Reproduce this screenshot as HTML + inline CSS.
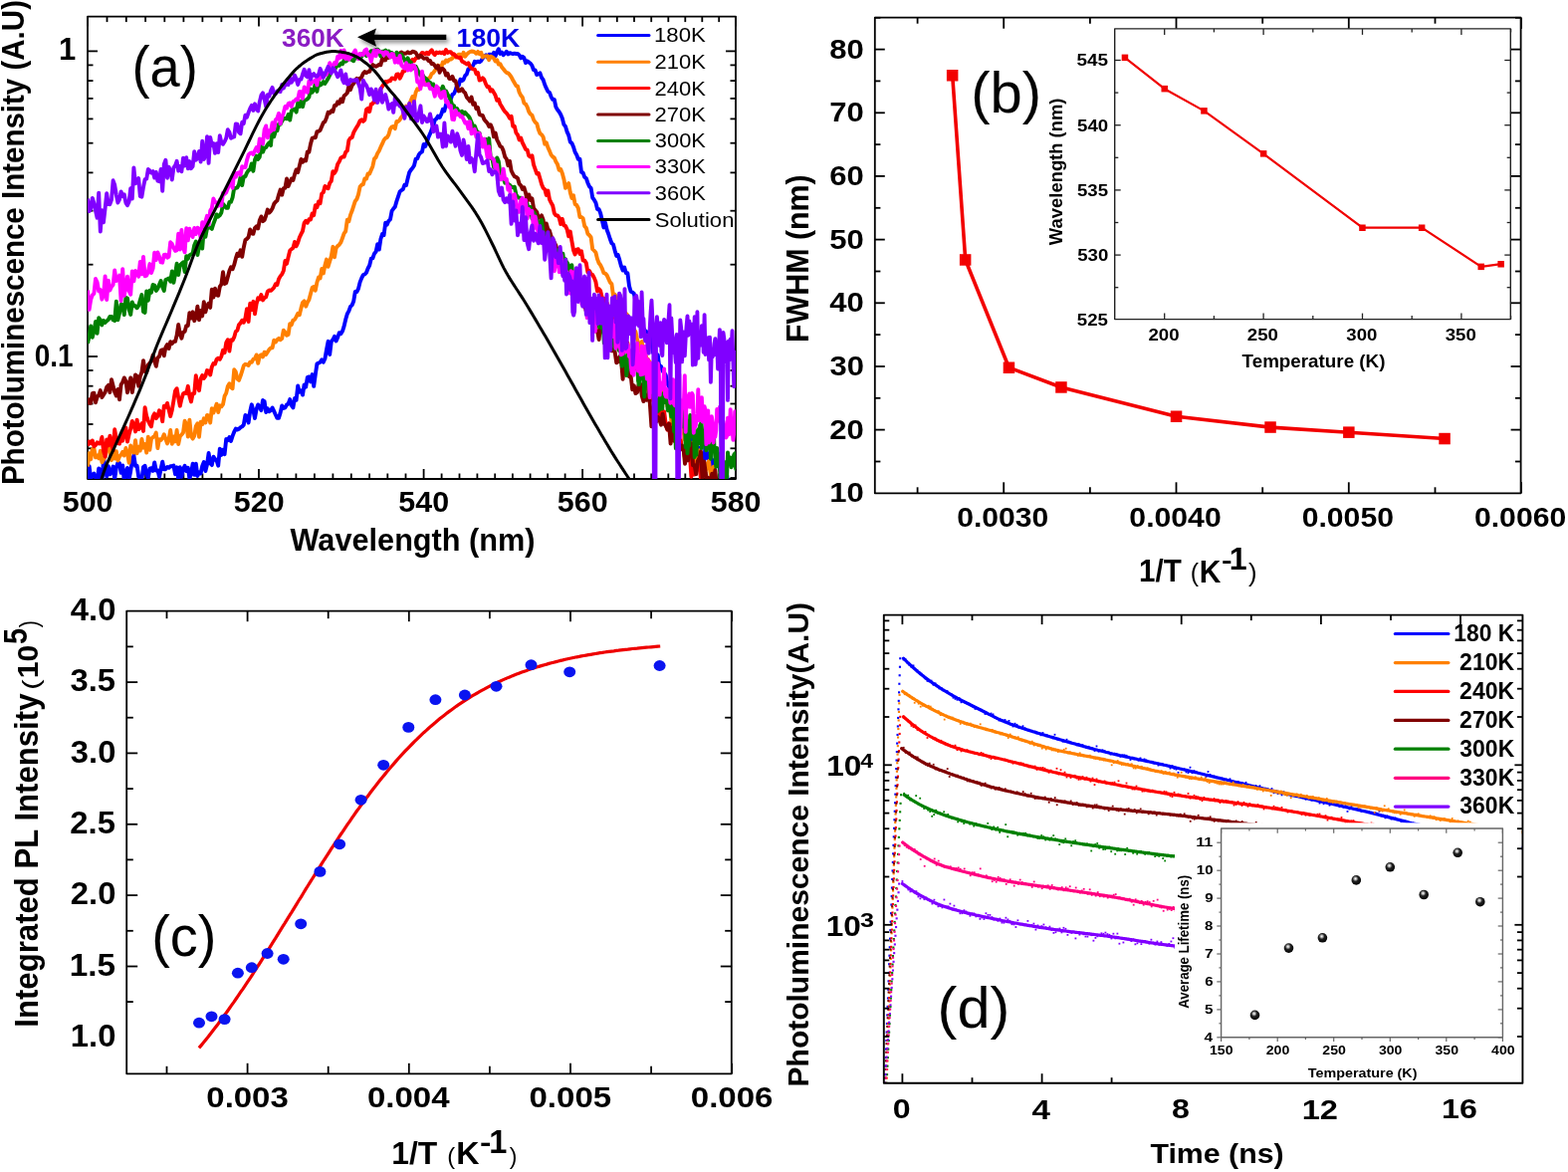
<!DOCTYPE html>
<html><head><meta charset="utf-8"><title>Figure</title>
<style>html,body{margin:0;padding:0;background:#fff;}svg{display:block;}</style></head>
<body><svg width="1575" height="1177" viewBox="0 0 1575 1177" font-family='Liberation Sans, Arial, sans-serif'>
<rect width="1575" height="1177" fill="#fff"/>
<defs><clipPath id="ca"><rect x="88" y="16.6" width="651" height="464.4"/></clipPath>
<filter id="sh" x="-20%" y="-50%" width="140%" height="250%"><feGaussianBlur in="SourceAlpha" stdDeviation="2"/><feOffset dx="2" dy="3" result="b"/><feComponentTransfer><feFuncA type="linear" slope="0.45"/></feComponentTransfer><feMerge><feMergeNode/><feMergeNode in="SourceGraphic"/></feMerge></filter>
<radialGradient id="ball" cx="0.42" cy="0.35" r="0.65"><stop offset="0" stop-color="#fff"/><stop offset="0.18" stop-color="#bbb"/><stop offset="0.45" stop-color="#222"/><stop offset="1" stop-color="#000"/></radialGradient>
</defs>
<rect x="88" y="16.6" width="651" height="464.4" fill="none" stroke="#000" stroke-width="1.8" stroke-linejoin="round" />
<line x1="88" y1="481" x2="88" y2="471" stroke="#000" stroke-width="1.8" />
<line x1="88" y1="16.6" x2="88" y2="26.6" stroke="#000" stroke-width="1.8" />
<line x1="107.5" y1="481" x2="107.5" y2="475.5" stroke="#000" stroke-width="1.8" />
<line x1="107.5" y1="16.6" x2="107.5" y2="22.1" stroke="#000" stroke-width="1.8" />
<line x1="126.8" y1="481" x2="126.8" y2="475.5" stroke="#000" stroke-width="1.8" />
<line x1="126.8" y1="16.6" x2="126.8" y2="22.1" stroke="#000" stroke-width="1.8" />
<line x1="146.1" y1="481" x2="146.1" y2="475.5" stroke="#000" stroke-width="1.8" />
<line x1="146.1" y1="16.6" x2="146.1" y2="22.1" stroke="#000" stroke-width="1.8" />
<line x1="165.3" y1="481" x2="165.3" y2="475.5" stroke="#000" stroke-width="1.8" />
<line x1="165.3" y1="16.6" x2="165.3" y2="22.1" stroke="#000" stroke-width="1.8" />
<line x1="184.4" y1="481" x2="184.4" y2="475.5" stroke="#000" stroke-width="1.8" />
<line x1="184.4" y1="16.6" x2="184.4" y2="22.1" stroke="#000" stroke-width="1.8" />
<line x1="203.4" y1="481" x2="203.4" y2="475.5" stroke="#000" stroke-width="1.8" />
<line x1="203.4" y1="16.6" x2="203.4" y2="22.1" stroke="#000" stroke-width="1.8" />
<line x1="222.4" y1="481" x2="222.4" y2="475.5" stroke="#000" stroke-width="1.8" />
<line x1="222.4" y1="16.6" x2="222.4" y2="22.1" stroke="#000" stroke-width="1.8" />
<line x1="241.2" y1="481" x2="241.2" y2="475.5" stroke="#000" stroke-width="1.8" />
<line x1="241.2" y1="16.6" x2="241.2" y2="22.1" stroke="#000" stroke-width="1.8" />
<line x1="260" y1="481" x2="260" y2="471" stroke="#000" stroke-width="1.8" />
<line x1="260" y1="16.6" x2="260" y2="26.6" stroke="#000" stroke-width="1.8" />
<line x1="278.7" y1="481" x2="278.7" y2="475.5" stroke="#000" stroke-width="1.8" />
<line x1="278.7" y1="16.6" x2="278.7" y2="22.1" stroke="#000" stroke-width="1.8" />
<line x1="297.4" y1="481" x2="297.4" y2="475.5" stroke="#000" stroke-width="1.8" />
<line x1="297.4" y1="16.6" x2="297.4" y2="22.1" stroke="#000" stroke-width="1.8" />
<line x1="315.9" y1="481" x2="315.9" y2="475.5" stroke="#000" stroke-width="1.8" />
<line x1="315.9" y1="16.6" x2="315.9" y2="22.1" stroke="#000" stroke-width="1.8" />
<line x1="334.4" y1="481" x2="334.4" y2="475.5" stroke="#000" stroke-width="1.8" />
<line x1="334.4" y1="16.6" x2="334.4" y2="22.1" stroke="#000" stroke-width="1.8" />
<line x1="352.8" y1="481" x2="352.8" y2="475.5" stroke="#000" stroke-width="1.8" />
<line x1="352.8" y1="16.6" x2="352.8" y2="22.1" stroke="#000" stroke-width="1.8" />
<line x1="371.1" y1="481" x2="371.1" y2="475.5" stroke="#000" stroke-width="1.8" />
<line x1="371.1" y1="16.6" x2="371.1" y2="22.1" stroke="#000" stroke-width="1.8" />
<line x1="389.3" y1="481" x2="389.3" y2="475.5" stroke="#000" stroke-width="1.8" />
<line x1="389.3" y1="16.6" x2="389.3" y2="22.1" stroke="#000" stroke-width="1.8" />
<line x1="407.5" y1="481" x2="407.5" y2="475.5" stroke="#000" stroke-width="1.8" />
<line x1="407.5" y1="16.6" x2="407.5" y2="22.1" stroke="#000" stroke-width="1.8" />
<line x1="425.6" y1="481" x2="425.6" y2="471" stroke="#000" stroke-width="1.8" />
<line x1="425.6" y1="16.6" x2="425.6" y2="26.6" stroke="#000" stroke-width="1.8" />
<line x1="443.6" y1="481" x2="443.6" y2="475.5" stroke="#000" stroke-width="1.8" />
<line x1="443.6" y1="16.6" x2="443.6" y2="22.1" stroke="#000" stroke-width="1.8" />
<line x1="461.5" y1="481" x2="461.5" y2="475.5" stroke="#000" stroke-width="1.8" />
<line x1="461.5" y1="16.6" x2="461.5" y2="22.1" stroke="#000" stroke-width="1.8" />
<line x1="479.4" y1="481" x2="479.4" y2="475.5" stroke="#000" stroke-width="1.8" />
<line x1="479.4" y1="16.6" x2="479.4" y2="22.1" stroke="#000" stroke-width="1.8" />
<line x1="497.2" y1="481" x2="497.2" y2="475.5" stroke="#000" stroke-width="1.8" />
<line x1="497.2" y1="16.6" x2="497.2" y2="22.1" stroke="#000" stroke-width="1.8" />
<line x1="514.9" y1="481" x2="514.9" y2="475.5" stroke="#000" stroke-width="1.8" />
<line x1="514.9" y1="16.6" x2="514.9" y2="22.1" stroke="#000" stroke-width="1.8" />
<line x1="532.6" y1="481" x2="532.6" y2="475.5" stroke="#000" stroke-width="1.8" />
<line x1="532.6" y1="16.6" x2="532.6" y2="22.1" stroke="#000" stroke-width="1.8" />
<line x1="550.1" y1="481" x2="550.1" y2="475.5" stroke="#000" stroke-width="1.8" />
<line x1="550.1" y1="16.6" x2="550.1" y2="22.1" stroke="#000" stroke-width="1.8" />
<line x1="567.6" y1="481" x2="567.6" y2="475.5" stroke="#000" stroke-width="1.8" />
<line x1="567.6" y1="16.6" x2="567.6" y2="22.1" stroke="#000" stroke-width="1.8" />
<line x1="585.1" y1="481" x2="585.1" y2="471" stroke="#000" stroke-width="1.8" />
<line x1="585.1" y1="16.6" x2="585.1" y2="26.6" stroke="#000" stroke-width="1.8" />
<line x1="602.5" y1="481" x2="602.5" y2="475.5" stroke="#000" stroke-width="1.8" />
<line x1="602.5" y1="16.6" x2="602.5" y2="22.1" stroke="#000" stroke-width="1.8" />
<line x1="619.8" y1="481" x2="619.8" y2="475.5" stroke="#000" stroke-width="1.8" />
<line x1="619.8" y1="16.6" x2="619.8" y2="22.1" stroke="#000" stroke-width="1.8" />
<line x1="637" y1="481" x2="637" y2="475.5" stroke="#000" stroke-width="1.8" />
<line x1="637" y1="16.6" x2="637" y2="22.1" stroke="#000" stroke-width="1.8" />
<line x1="654.2" y1="481" x2="654.2" y2="475.5" stroke="#000" stroke-width="1.8" />
<line x1="654.2" y1="16.6" x2="654.2" y2="22.1" stroke="#000" stroke-width="1.8" />
<line x1="671.3" y1="481" x2="671.3" y2="475.5" stroke="#000" stroke-width="1.8" />
<line x1="671.3" y1="16.6" x2="671.3" y2="22.1" stroke="#000" stroke-width="1.8" />
<line x1="688.3" y1="481" x2="688.3" y2="475.5" stroke="#000" stroke-width="1.8" />
<line x1="688.3" y1="16.6" x2="688.3" y2="22.1" stroke="#000" stroke-width="1.8" />
<line x1="705.3" y1="481" x2="705.3" y2="475.5" stroke="#000" stroke-width="1.8" />
<line x1="705.3" y1="16.6" x2="705.3" y2="22.1" stroke="#000" stroke-width="1.8" />
<line x1="722.2" y1="481" x2="722.2" y2="475.5" stroke="#000" stroke-width="1.8" />
<line x1="722.2" y1="16.6" x2="722.2" y2="22.1" stroke="#000" stroke-width="1.8" />
<line x1="739" y1="481" x2="739" y2="471" stroke="#000" stroke-width="1.8" />
<line x1="739" y1="16.6" x2="739" y2="26.6" stroke="#000" stroke-width="1.8" />
<line x1="88" y1="51.4" x2="98" y2="51.4" stroke="#000" stroke-width="1.8" />
<line x1="739" y1="51.4" x2="729" y2="51.4" stroke="#000" stroke-width="1.8" />
<line x1="88" y1="358" x2="98" y2="358" stroke="#000" stroke-width="1.8" />
<line x1="739" y1="358" x2="729" y2="358" stroke="#000" stroke-width="1.8" />
<line x1="88" y1="265.7" x2="93.5" y2="265.7" stroke="#000" stroke-width="1.8" />
<line x1="739" y1="265.7" x2="733.5" y2="265.7" stroke="#000" stroke-width="1.8" />
<line x1="88" y1="211.7" x2="93.5" y2="211.7" stroke="#000" stroke-width="1.8" />
<line x1="739" y1="211.7" x2="733.5" y2="211.7" stroke="#000" stroke-width="1.8" />
<line x1="88" y1="173.4" x2="93.5" y2="173.4" stroke="#000" stroke-width="1.8" />
<line x1="739" y1="173.4" x2="733.5" y2="173.4" stroke="#000" stroke-width="1.8" />
<line x1="88" y1="143.7" x2="93.5" y2="143.7" stroke="#000" stroke-width="1.8" />
<line x1="739" y1="143.7" x2="733.5" y2="143.7" stroke="#000" stroke-width="1.8" />
<line x1="88" y1="119.4" x2="93.5" y2="119.4" stroke="#000" stroke-width="1.8" />
<line x1="739" y1="119.4" x2="733.5" y2="119.4" stroke="#000" stroke-width="1.8" />
<line x1="88" y1="98.9" x2="93.5" y2="98.9" stroke="#000" stroke-width="1.8" />
<line x1="739" y1="98.9" x2="733.5" y2="98.9" stroke="#000" stroke-width="1.8" />
<line x1="88" y1="81.1" x2="93.5" y2="81.1" stroke="#000" stroke-width="1.8" />
<line x1="739" y1="81.1" x2="733.5" y2="81.1" stroke="#000" stroke-width="1.8" />
<line x1="88" y1="65.4" x2="93.5" y2="65.4" stroke="#000" stroke-width="1.8" />
<line x1="739" y1="65.4" x2="733.5" y2="65.4" stroke="#000" stroke-width="1.8" />
<line x1="88" y1="480" x2="93.5" y2="480" stroke="#000" stroke-width="1.8" />
<line x1="739" y1="480" x2="733.5" y2="480" stroke="#000" stroke-width="1.8" />
<line x1="88" y1="450.3" x2="93.5" y2="450.3" stroke="#000" stroke-width="1.8" />
<line x1="739" y1="450.3" x2="733.5" y2="450.3" stroke="#000" stroke-width="1.8" />
<line x1="88" y1="426" x2="93.5" y2="426" stroke="#000" stroke-width="1.8" />
<line x1="739" y1="426" x2="733.5" y2="426" stroke="#000" stroke-width="1.8" />
<line x1="88" y1="405.5" x2="93.5" y2="405.5" stroke="#000" stroke-width="1.8" />
<line x1="739" y1="405.5" x2="733.5" y2="405.5" stroke="#000" stroke-width="1.8" />
<line x1="88" y1="387.7" x2="93.5" y2="387.7" stroke="#000" stroke-width="1.8" />
<line x1="739" y1="387.7" x2="733.5" y2="387.7" stroke="#000" stroke-width="1.8" />
<line x1="88" y1="372" x2="93.5" y2="372" stroke="#000" stroke-width="1.8" />
<line x1="739" y1="372" x2="733.5" y2="372" stroke="#000" stroke-width="1.8" />
<g clip-path="url(#ca)" fill="none" stroke-linejoin="round" stroke-width="3.9">
<path d="M88 485.2 L89.6 468.1 L91.2 481.1 L92.8 476.9 L94.4 475.6 L96 479.6 L97.6 483.5 L99.2 470.5 L100.8 472.1 L102.4 486.8 L104 460.1 L105.6 467.9 L107.2 478.5 L108.8 468.1 L110.4 476.4 L112 473.8 L113.6 468.5 L115.2 481.3 L116.8 469.7 L118.4 464.7 L120 465.1 L121.6 474.9 L123.2 467.5 L124.8 483.4 L126.4 473.9 L128 470.1 L129.6 481.4 L131.2 473.3 L132.8 462.5 L134.4 457.4 L136 467.9 L137.6 467.6 L139.2 478.6 L140.8 480.2 L142.4 481.4 L144 469.1 L145.6 467.8 L147.2 476.4 L148.8 480 L150.4 470.6 L152 470.2 L153.6 472.9 L155.2 464.4 L156.8 472.6 L158.4 472.4 L160 478.9 L161.6 471 L163.2 463.7 L164.8 471.3 L166.4 471.2 L168 469 L169.6 469.8 L171.2 468.2 L172.8 468.1 L174.4 467.5 L176 476.2 L177.6 469.3 L179.2 481.3 L180.8 469.3 L182.4 478.8 L184 471.2 L185.6 467.8 L187.2 473.1 L188.8 469.8 L190.4 480.7 L192 475.4 L193.6 465.7 L195.2 476.9 L196.8 465.6 L198.4 478 L200 474.6 L201.6 475.5 L203.2 468 L204.8 464.1 L206.4 473 L208 466.5 L209.6 455 L211.2 465.2 L212.8 467.1 L214.4 458.7 L216 461 L217.6 462.5 L219.2 467.7 L220.8 450.6 L222.4 456.9 L224 451.8 L225.6 456.2 L227.2 441 L228.8 442.2 L230.4 439 L232 443 L233.6 437.9 L235.2 433.7 L236.8 430.6 L238.4 431.6 L240 430.7 L241.6 429.3 L243.2 428.4 L244.8 426.6 L246.4 417 L248 417.6 L249.6 424.5 L251.2 413.3 L252.8 406.3 L254.4 412.3 L256 420 L257.6 411 L259.2 406.4 L260.8 409 L262.4 412.1 L264 402 L265.6 403.1 L267.2 414 L268.8 410.4 L270.4 413.3 L272 412.1 L273.6 409.5 L275.2 412.9 L276.8 416.5 L278.4 419.8 L280 419.8 L281.6 414.7 L283.2 407.5 L284.8 410 L286.4 409.4 L288 406.5 L289.6 405.5 L291.2 401.1 L292.8 407.1 L294.4 409.4 L296 400 L297.6 401.8 L299.2 387.4 L300.8 393.7 L302.4 392.4 L304 396.6 L305.6 386.4 L307.2 388.7 L308.8 379.1 L310.4 378.4 L312 383.4 L313.6 376.1 L315.2 387.9 L316.8 376.2 L318.4 365.5 L320 364.5 L321.6 363.8 L323.2 361.3 L324.8 363.8 L326.4 360.3 L328 351.1 L329.6 342.8 L331.2 356.1 L332.8 342.9 L334.4 341 L336 337.8 L337.6 342.5 L339.2 338.9 L340.8 334.2 L342.4 335.2 L344 332.6 L345.6 327.6 L347.2 320.8 L348.8 315.2 L350.4 312.4 L352 307.9 L353.6 306.4 L355.2 302.5 L356.8 292.9 L358.4 293.1 L360 289.9 L361.6 283.4 L363.2 279.4 L364.8 276.1 L366.4 275.5 L368 273.7 L369.6 269.5 L371.2 266.5 L372.8 259.7 L374.4 259.3 L376 254.7 L377.6 252.8 L379.2 245.2 L380.8 250.6 L382.4 240 L384 235.1 L385.6 236.1 L387.2 223.8 L388.8 225.6 L390.4 221.8 L392 220.3 L393.6 211.8 L395.2 209.6 L396.8 207.7 L398.4 202.1 L400 197.3 L401.6 192.5 L403.2 191.1 L404.8 190.1 L406.4 185.7 L408 186.1 L409.6 179.3 L411.2 173.1 L412.8 170.6 L414.4 168.8 L416 166.3 L417.6 159.6 L419.2 159.3 L420.8 155.2 L422.4 153.3 L424 152.3 L425.6 144.9 L427.2 146.9 L428.8 143.2 L430.4 137.9 L432 134.4 L433.6 130.1 L435.2 126.5 L436.8 120.4 L438.4 119.3 L440 116.6 L441.6 118 L443.2 114.9 L444.8 109.8 L446.4 111.4 L448 104.9 L449.6 105.8 L451.2 100.7 L452.8 99.6 L454.4 95 L456 94 L457.6 90.5 L459.2 85.1 L460.8 85.8 L462.4 79.7 L464 81.1 L465.6 79.9 L467.2 75.9 L468.8 74.5 L470.4 69.4 L472 68.8 L473.6 66.7 L475.2 65.9 L476.8 61.8 L478.4 62.7 L480 61.7 L481.6 62.3 L483.2 61.2 L484.8 58.6 L486.4 56.4 L488 55.4 L489.6 57.6 L491.2 54.8 L492.8 54.6 L494.4 55.8 L496 52.9 L497.6 56.3 L499.2 52.4 L500.8 49.2 L502.4 53.9 L504 52.5 L505.6 55.2 L507.2 53.7 L508.8 51.7 L510.4 54.4 L512 53.1 L513.6 53.7 L515.2 54 L516.8 53.7 L518.4 54 L520 53.9 L521.6 55.4 L523.2 58.4 L524.8 56.8 L526.4 58.1 L528 63.2 L529.6 61.3 L531.2 62.4 L532.8 63.7 L534.4 65.9 L536 70.2 L537.6 70.5 L539.2 75.1 L540.8 74.3 L542.4 73.3 L544 77.8 L545.6 80.2 L547.2 85 L548.8 88.7 L550.4 91.8 L552 92.8 L553.6 97.2 L555.2 99.9 L556.8 100 L558.4 107.6 L560 110.2 L561.6 112.2 L563.2 115 L564.8 118.7 L566.4 125.1 L568 127 L569.6 132.4 L571.2 135.9 L572.8 142.6 L574.4 143.8 L576 147.5 L577.6 152.8 L579.2 155.5 L580.8 159.8 L582.4 159.6 L584 172.9 L585.6 173.3 L587.2 177.9 L588.8 179 L590.4 183.7 L592 187.3 L593.6 188.8 L595.2 198.5 L596.8 200.7 L598.4 203.4 L600 210 L601.6 210.1 L603.2 214.3 L604.8 221.3 L606.4 228.4 L608 223.6 L609.6 230.7 L611.2 235 L612.8 240 L614.4 244.2 L616 245.5 L617.6 251.6 L619.2 256.9 L620.8 256.1 L622.4 261.4 L624 267.4 L625.6 271.5 L627.2 268.5 L628.8 274.2 L630.4 274.2 L632 287.1 L633.6 292.7 L635.2 293.5 L636.8 294.8 L638.4 302.4 L640 307.8 L641.6 306.8 L643.2 321.3 L644.8 327.7 L646.4 329.8 L648 332.1 L649.6 333.3 L651.2 334.5 L652.8 341 L654.4 340 L656 354.3 L657.6 345.8 L659.2 362 L660.8 356.4 L662.4 370.3 L664 367.8 L665.6 372.9 L667.2 374.3 L668.8 376.8 L670.4 385.4 L672 388.2 L673.6 390.1 L675.2 402.3 L676.8 402.5 L678.4 411.3 L680 405 L681.6 395.8 L683.2 407.1 L684.8 419.9 L686.4 422.1 L688 414.9 L689.6 426.8 L691.2 437.4 L692.8 436.5 L694.4 439.7 L696 442.4 L697.6 433.8 L699.2 440.4 L700.8 454.1 L702.4 449.9 L704 456.7 L705.6 459.8 L707.2 464.5 L708.8 443.5 L710.4 460.1 L712 455.8 L713.6 455.8 L715.2 467.1 L716.8 462.2 L718.4 464 L720 468.3 L721.6 455.9 L723.2 471.4 L724.8 477.2 L726.4 472 L728 465.2 L729.6 472.6 L731.2 486.1 L732.8 490.9 L734.4 493.1 L736 492.3 L737.6 484.8 L739.2 482.3" stroke="#0000FF"/>
<path d="M88 468.4 L89.6 455.1 L91.2 461.3 L92.8 451.2 L94.4 450 L96 459.4 L97.6 457.5 L99.2 460.4 L100.8 452.8 L102.4 464.3 L104 461.5 L105.6 458.9 L107.2 448.3 L108.8 442.2 L110.4 454.9 L112 462.2 L113.6 454.8 L115.2 460.5 L116.8 453.2 L118.4 462.5 L120 458.5 L121.6 456.7 L123.2 453.9 L124.8 457.4 L126.4 450 L128 455.2 L129.6 464.7 L131.2 447.5 L132.8 453.2 L134.4 454.6 L136 442.2 L137.6 455.2 L139.2 448.7 L140.8 452.6 L142.4 440.9 L144 449.7 L145.6 446 L147.2 454.6 L148.8 438.8 L150.4 451.8 L152 440.6 L153.6 439.1 L155.2 438 L156.8 434.6 L158.4 450.1 L160 441.1 L161.6 442 L163.2 440.1 L164.8 436.2 L166.4 440.9 L168 445.4 L169.6 441 L171.2 432 L172.8 445.8 L174.4 438.4 L176 443.5 L177.6 432 L179.2 446 L180.8 438.3 L182.4 436.5 L184 434.6 L185.6 422.8 L187.2 426 L188.8 438.5 L190.4 421.6 L192 437.8 L193.6 440.6 L195.2 437.7 L196.8 427.9 L198.4 425.3 L200 438.7 L201.6 423.8 L203.2 426.2 L204.8 420.3 L206.4 424.5 L208 417 L209.6 417.3 L211.2 424.5 L212.8 410.3 L214.4 414.6 L216 410.2 L217.6 405.7 L219.2 414 L220.8 407.3 L222.4 408.2 L224 406.1 L225.6 397.8 L227.2 394.9 L228.8 388 L230.4 385.3 L232 388.9 L233.6 390.2 L235.2 371.3 L236.8 373.4 L238.4 380.5 L240 381.9 L241.6 377.6 L243.2 372.6 L244.8 367.2 L246.4 365.8 L248 366.1 L249.6 367 L251.2 363.6 L252.8 363.9 L254.4 360.8 L256 360.1 L257.6 356.4 L259.2 364.8 L260.8 357.5 L262.4 356.2 L264 358.5 L265.6 353.7 L267.2 356.1 L268.8 353.5 L270.4 350.9 L272 349.5 L273.6 349.4 L275.2 341.7 L276.8 343.5 L278.4 341.3 L280 339.9 L281.6 341.3 L283.2 340 L284.8 331.7 L286.4 333.8 L288 336.8 L289.6 336 L291.2 325.1 L292.8 326.1 L294.4 321.5 L296 320.9 L297.6 318.1 L299.2 314.9 L300.8 316.2 L302.4 309.6 L304 303.9 L305.6 302.3 L307.2 307.7 L308.8 303.7 L310.4 301.1 L312 295 L313.6 289 L315.2 288 L316.8 291.7 L318.4 283.5 L320 278.6 L321.6 279.5 L323.2 270 L324.8 274.5 L326.4 266.5 L328 260.6 L329.6 267.8 L331.2 262.4 L332.8 257.3 L334.4 247.8 L336 258.3 L337.6 249.1 L339.2 247 L340.8 245.7 L342.4 243.4 L344 239 L345.6 234.4 L347.2 232.3 L348.8 220.7 L350.4 222.3 L352 215.9 L353.6 211.8 L355.2 206.9 L356.8 201.9 L358.4 200 L360 195.3 L361.6 187.6 L363.2 185.7 L364.8 185.1 L366.4 179.4 L368 179.6 L369.6 174.4 L371.2 174.5 L372.8 170.7 L374.4 166.9 L376 159.5 L377.6 158 L379.2 154 L380.8 151.4 L382.4 147.7 L384 144.4 L385.6 140.7 L387.2 138.8 L388.8 138 L390.4 135.3 L392 129.6 L393.6 127.3 L395.2 127 L396.8 129.1 L398.4 121.9 L400 122 L401.6 120.3 L403.2 117.6 L404.8 115.6 L406.4 109.3 L408 106.6 L409.6 108.2 L411.2 104.1 L412.8 100.8 L414.4 96.9 L416 100.3 L417.6 92.8 L419.2 89.3 L420.8 90 L422.4 87.4 L424 83.3 L425.6 82.5 L427.2 83 L428.8 80.8 L430.4 78.8 L432 77.7 L433.6 74 L435.2 73.2 L436.8 70.9 L438.4 68.5 L440 65.6 L441.6 66.5 L443.2 68.1 L444.8 62.4 L446.4 63.3 L448 60.5 L449.6 61.7 L451.2 59.8 L452.8 59.5 L454.4 58.5 L456 55.8 L457.6 57.5 L459.2 55.6 L460.8 54.7 L462.4 54.8 L464 56.7 L465.6 52.7 L467.2 56.7 L468.8 54.6 L470.4 53.1 L472 52 L473.6 51.5 L475.2 51.7 L476.8 52.3 L478.4 53.8 L480 51.9 L481.6 54.2 L483.2 52.7 L484.8 57.6 L486.4 56.3 L488 56.4 L489.6 56.3 L491.2 60.3 L492.8 56.7 L494.4 57.3 L496 58.6 L497.6 61.5 L499.2 60.2 L500.8 64.6 L502.4 64.2 L504 67.4 L505.6 69.2 L507.2 71.3 L508.8 73 L510.4 73.4 L512 75.1 L513.6 77.4 L515.2 80.5 L516.8 83.3 L518.4 86.1 L520 86.7 L521.6 92.7 L523.2 95.8 L524.8 97.8 L526.4 103.6 L528 104.5 L529.6 107.4 L531.2 112.2 L532.8 114.6 L534.4 115.6 L536 120.2 L537.6 122.7 L539.2 124.1 L540.8 130 L542.4 134 L544 135.2 L545.6 137.5 L547.2 144.7 L548.8 143.3 L550.4 148.2 L552 151.6 L553.6 155.6 L555.2 157.5 L556.8 158.5 L558.4 162.5 L560 165.1 L561.6 170.7 L563.2 170.1 L564.8 173.9 L566.4 179.9 L568 188.8 L569.6 186.4 L571.2 184 L572.8 193.4 L574.4 199 L576 196.3 L577.6 205 L579.2 206 L580.8 209 L582.4 218 L584 217.9 L585.6 219.2 L587.2 227.1 L588.8 228.8 L590.4 234.8 L592 236.2 L593.6 238.2 L595.2 250.2 L596.8 251.7 L598.4 253.5 L600 260.1 L601.6 264.3 L603.2 266.3 L604.8 269.6 L606.4 274.2 L608 274.6 L609.6 276.4 L611.2 279.9 L612.8 283.5 L614.4 285.1 L616 296.9 L617.6 295.9 L619.2 298 L620.8 300 L622.4 310.9 L624 301.5 L625.6 314.5 L627.2 313.4 L628.8 314.8 L630.4 316.6 L632 326.5 L633.6 329.1 L635.2 328.7 L636.8 331.1 L638.4 333 L640 340.2 L641.6 346.3 L643.2 352.6 L644.8 342.9 L646.4 360 L648 354.3 L649.6 359.8 L651.2 361.2 L652.8 363.9 L654.4 365.7 L656 375.9 L657.6 377.3 L659.2 392.9 L660.8 386.2 L662.4 394.7 L664 394.2 L665.6 390.4 L667.2 399.7 L668.8 397.7 L670.4 407.9 L672 407.7 L673.6 415.4 L675.2 431.7 L676.8 423.4 L678.4 423.7 L680 424.1 L681.6 427.9 L683.2 431.6 L684.8 427.9 L686.4 432.6 L688 441.8 L689.6 436.5 L691.2 458.5 L692.8 449.4 L694.4 451.2 L696 444.4 L697.6 459.5 L699.2 469.2 L700.8 460 L702.4 452.3 L704 468 L705.6 469.6 L707.2 472.8 L708.8 473 L710.4 465.9 L712 463.1 L713.6 475.6 L715.2 481.7 L716.8 468.8 L718.4 483.5 L720 485.2 L721.6 490.1 L723.2 491.1 L724.8 487.8" stroke="#FF8000"/>
<path d="M88 447.7 L89.6 443.4 L91.2 445.3 L92.8 442.5 L94.4 448.3 L96 447.1 L97.6 444.4 L99.2 445.5 L100.8 445.3 L102.4 438.9 L104 452.7 L105.6 458.5 L107.2 441.5 L108.8 447.4 L110.4 437.7 L112 446 L113.6 452.3 L115.2 431.3 L116.8 440.8 L118.4 444.9 L120 445.6 L121.6 436.5 L123.2 442.7 L124.8 435.1 L126.4 429.5 L128 443.6 L129.6 436.3 L131.2 430.5 L132.8 423 L134.4 426.2 L136 433.4 L137.6 421.6 L139.2 431.2 L140.8 429.2 L142.4 425.2 L144 432.9 L145.6 409.1 L147.2 418 L148.8 422.5 L150.4 425.9 L152 428.3 L153.6 418.4 L155.2 415.4 L156.8 420.2 L158.4 417.8 L160 412.3 L161.6 414.3 L163.2 423.2 L164.8 407.8 L166.4 408.7 L168 404.9 L169.6 411.6 L171.2 418.1 L172.8 412 L174.4 402.5 L176 392.5 L177.6 390.2 L179.2 399.3 L180.8 407.7 L182.4 400.6 L184 395.5 L185.6 394.5 L187.2 395.1 L188.8 387.8 L190.4 397.9 L192 403.4 L193.6 395.1 L195.2 395.2 L196.8 377.2 L198.4 387.4 L200 392.2 L201.6 380.4 L203.2 377 L204.8 380 L206.4 377.6 L208 372 L209.6 372.6 L211.2 376.5 L212.8 368.5 L214.4 365 L216 365.5 L217.6 360.8 L219.2 359.7 L220.8 360.8 L222.4 357.8 L224 351.8 L225.6 354.2 L227.2 344.2 L228.8 341.3 L230.4 352.6 L232 341.4 L233.6 341.8 L235.2 338.7 L236.8 333 L238.4 331.7 L240 326.1 L241.6 324.5 L243.2 321.7 L244.8 323.7 L246.4 319.5 L248 310.2 L249.6 323.1 L251.2 304.8 L252.8 311.1 L254.4 302.8 L256 315.2 L257.6 305.3 L259.2 299.3 L260.8 300.4 L262.4 296 L264 301.5 L265.6 299.1 L267.2 298.2 L268.8 292.7 L270.4 291.4 L272 291.9 L273.6 290.6 L275.2 288.7 L276.8 285.2 L278.4 286.1 L280 280.2 L281.6 277.4 L283.2 275.4 L284.8 272 L286.4 262 L288 264.9 L289.6 258.1 L291.2 251.7 L292.8 250.2 L294.4 249 L296 243 L297.6 247.3 L299.2 243.8 L300.8 238.5 L302.4 235.1 L304 232 L305.6 223.9 L307.2 221.8 L308.8 223.7 L310.4 220.2 L312 220.6 L313.6 214.6 L315.2 216.2 L316.8 206.2 L318.4 208.3 L320 202.6 L321.6 204.3 L323.2 194.5 L324.8 193.3 L326.4 187 L328 188.3 L329.6 189.2 L331.2 183.9 L332.8 181.8 L334.4 172.1 L336 173.9 L337.6 171 L339.2 164.8 L340.8 162.3 L342.4 158.6 L344 157.5 L345.6 157.5 L347.2 152.8 L348.8 151.4 L350.4 141 L352 138.6 L353.6 138.2 L355.2 133.2 L356.8 130.2 L358.4 127.5 L360 124.9 L361.6 121.4 L363.2 120.2 L364.8 121.9 L366.4 120.3 L368 110.1 L369.6 108.8 L371.2 112.1 L372.8 104.7 L374.4 104.2 L376 101.2 L377.6 102.5 L379.2 94.1 L380.8 93.2 L382.4 89.4 L384 86.8 L385.6 84.4 L387.2 81.9 L388.8 82.5 L390.4 81.1 L392 81.3 L393.6 78.4 L395.2 78.8 L396.8 79.5 L398.4 74.7 L400 74.4 L401.6 78.7 L403.2 75.8 L404.8 71.5 L406.4 71.5 L408 65.7 L409.6 65.7 L411.2 63.6 L412.8 61.7 L414.4 59.9 L416 61.2 L417.6 58.6 L419.2 57.9 L420.8 56 L422.4 55.2 L424 52.9 L425.6 53.4 L427.2 54.2 L428.8 52.8 L430.4 54.3 L432 52 L433.6 50.2 L435.2 53.4 L436.8 55 L438.4 52.6 L440 53.2 L441.6 52.5 L443.2 53.4 L444.8 52.4 L446.4 54 L448 50.1 L449.6 52.9 L451.2 52.2 L452.8 52.3 L454.4 54.4 L456 54.3 L457.6 56.2 L459.2 57.5 L460.8 58 L462.4 57.8 L464 61.6 L465.6 62.3 L467.2 63.4 L468.8 64.4 L470.4 63.2 L472 66.6 L473.6 68.6 L475.2 69.4 L476.8 69.6 L478.4 74.2 L480 73.1 L481.6 80.5 L483.2 80.1 L484.8 78.2 L486.4 80.1 L488 84.4 L489.6 87.4 L491.2 87.3 L492.8 91.5 L494.4 90.2 L496 92.9 L497.6 95.8 L499.2 100.8 L500.8 99.9 L502.4 104.5 L504 107 L505.6 109.9 L507.2 112.1 L508.8 113.7 L510.4 115.9 L512 118.7 L513.6 116.8 L515.2 126.7 L516.8 126.8 L518.4 133.4 L520 135.5 L521.6 140.5 L523.2 138.6 L524.8 143.4 L526.4 146.5 L528 149.9 L529.6 150.6 L531.2 156.5 L532.8 157.6 L534.4 156.2 L536 165.3 L537.6 169.9 L539.2 174.4 L540.8 173.9 L542.4 179.3 L544 184.9 L545.6 188.7 L547.2 190.1 L548.8 195.9 L550.4 191.6 L552 200.4 L553.6 203.6 L555.2 206.5 L556.8 214.1 L558.4 216.3 L560 216.4 L561.6 218.6 L563.2 224.9 L564.8 219.9 L566.4 226.3 L568 226.9 L569.6 230.3 L571.2 237.3 L572.8 232.6 L574.4 242.2 L576 251.2 L577.6 255.5 L579.2 250.6 L580.8 250.2 L582.4 255 L584 252.3 L585.6 261.5 L587.2 261.6 L588.8 264.1 L590.4 273.3 L592 272 L593.6 275.1 L595.2 276 L596.8 278.9 L598.4 282.9 L600 292.5 L601.6 290.2 L603.2 292.1 L604.8 299.1 L606.4 299.6 L608 302.7 L609.6 304.2 L611.2 311.8 L612.8 313.3 L614.4 317.6 L616 321.4 L617.6 327.6 L619.2 329.5 L620.8 336.4 L622.4 335.4 L624 334.6 L625.6 338.2 L627.2 340.8 L628.8 348.1 L630.4 344.2 L632 356.3 L633.6 353.5 L635.2 358.3 L636.8 367.4 L638.4 370.3 L640 365.8 L641.6 372.4 L643.2 374 L644.8 362.5 L646.4 378 L648 383.3 L649.6 382.6 L651.2 392.9 L652.8 393.2 L654.4 392.3 L656 402.6 L657.6 400.6 L659.2 404.3 L660.8 405.3 L662.4 420.3 L664 400.7 L665.6 414.9 L667.2 413.6 L668.8 426.9 L670.4 431.7 L672 425.3 L673.6 430.5 L675.2 426.6 L676.8 440.5 L678.4 443.8 L680 437.1 L681.6 437.3 L683.2 438.5 L684.8 448.3 L686.4 449.1 L688 460.3 L689.6 447 L691.2 451.1 L692.8 454 L694.4 478.9 L696 460.8 L697.6 476.5 L699.2 468.6 L700.8 471.4 L702.4 467.2 L704 481.1 L705.6 484.6 L707.2 492.8 L708.8 496.6 L710.4 482.4 L712 497.9" stroke="#FF0000"/>
<path d="M88 399.8 L89.6 404.8 L91.2 404.8 L92.8 395.2 L94.4 394.7 L96 404.3 L97.6 398.6 L99.2 396.8 L100.8 392.1 L102.4 399.1 L104 396.4 L105.6 393.9 L107.2 388.8 L108.8 386.9 L110.4 394.1 L112 381.2 L113.6 387.5 L115.2 393.7 L116.8 397.5 L118.4 391 L120 401.3 L121.6 386.2 L123.2 383.7 L124.8 379.4 L126.4 382.8 L128 394.2 L129.6 385.5 L131.2 379.4 L132.8 394.1 L134.4 385.3 L136 376.4 L137.6 378 L139.2 387.7 L140.8 378 L142.4 373.8 L144 362.1 L145.6 373.1 L147.2 374 L148.8 366.6 L150.4 364.7 L152 362.2 L153.6 356.7 L155.2 362.6 L156.8 367.8 L158.4 359.3 L160 358 L161.6 352.1 L163.2 351.3 L164.8 357.3 L166.4 348.7 L168 346.1 L169.6 350.1 L171.2 343.2 L172.8 345.1 L174.4 343.2 L176 342.9 L177.6 336.7 L179.2 326 L180.8 335.4 L182.4 339.7 L184 333.5 L185.6 333 L187.2 327.1 L188.8 327.1 L190.4 314.1 L192 319.6 L193.6 313.3 L195.2 322.2 L196.8 318.4 L198.4 307.6 L200 321.4 L201.6 312 L203.2 317.4 L204.8 303.2 L206.4 313.4 L208 307 L209.6 304.7 L211.2 308.9 L212.8 290.7 L214.4 298.6 L216 289.6 L217.6 296.2 L219.2 296.8 L220.8 287.9 L222.4 285.5 L224 273.3 L225.6 285 L227.2 284.3 L228.8 278.3 L230.4 272 L232 268.3 L233.6 270.2 L235.2 265.9 L236.8 259.7 L238.4 254.7 L240 257 L241.6 251.3 L243.2 257.8 L244.8 248.5 L246.4 241.1 L248 239.9 L249.6 238.1 L251.2 230.5 L252.8 234.3 L254.4 234.8 L256 229 L257.6 227.2 L259.2 229.5 L260.8 221.2 L262.4 217.4 L264 222.2 L265.6 221 L267.2 216.5 L268.8 210.6 L270.4 213.6 L272 211.9 L273.6 209.3 L275.2 204.8 L276.8 202.7 L278.4 201.5 L280 195.5 L281.6 190.5 L283.2 195.7 L284.8 189.1 L286.4 188.8 L288 179.5 L289.6 187 L291.2 183.1 L292.8 179.5 L294.4 180.9 L296 175.2 L297.6 170.4 L299.2 173.1 L300.8 166.6 L302.4 160 L304 162.8 L305.6 160.6 L307.2 161.4 L308.8 152.4 L310.4 152.7 L312 144.5 L313.6 138.9 L315.2 138.2 L316.8 138.2 L318.4 132.2 L320 131.9 L321.6 130.8 L323.2 127 L324.8 123.2 L326.4 122.1 L328 118.1 L329.6 112.7 L331.2 113.6 L332.8 111.3 L334.4 112 L336 106 L337.6 105.8 L339.2 102.4 L340.8 103.7 L342.4 99.5 L344 102.3 L345.6 96.3 L347.2 95 L348.8 93.2 L350.4 86.1 L352 90.2 L353.6 85.8 L355.2 84 L356.8 81.2 L358.4 78.8 L360 82 L361.6 78.7 L363.2 77.6 L364.8 73.8 L366.4 72.1 L368 73.2 L369.6 72.2 L371.2 71.9 L372.8 68.3 L374.4 65 L376 66.1 L377.6 66.8 L379.2 66 L380.8 64.7 L382.4 65.3 L384 58.7 L385.6 60.5 L387.2 60.3 L388.8 55.3 L390.4 57.9 L392 55.1 L393.6 56.5 L395.2 54.6 L396.8 55.8 L398.4 56 L400 54.3 L401.6 53.4 L403.2 52.4 L404.8 53.4 L406.4 53.8 L408 53.6 L409.6 52.2 L411.2 53.4 L412.8 53 L414.4 51.7 L416 52.1 L417.6 52.9 L419.2 55.7 L420.8 57.8 L422.4 55.9 L424 57.1 L425.6 58.7 L427.2 58.6 L428.8 58.4 L430.4 61 L432 60.9 L433.6 64.2 L435.2 63.9 L436.8 66 L438.4 68.1 L440 66 L441.6 72.8 L443.2 69.1 L444.8 68.9 L446.4 70.8 L448 75.6 L449.6 73.9 L451.2 79 L452.8 79 L454.4 76.8 L456 81 L457.6 81.2 L459.2 87.5 L460.8 91.4 L462.4 91 L464 89.2 L465.6 91.8 L467.2 93.4 L468.8 97.6 L470.4 99.4 L472 101.5 L473.6 97.6 L475.2 104.8 L476.8 103.5 L478.4 109.2 L480 108.1 L481.6 114.9 L483.2 115.7 L484.8 116 L486.4 120 L488 121.9 L489.6 123.7 L491.2 127 L492.8 125.4 L494.4 129 L496 137.4 L497.6 133.5 L499.2 140.3 L500.8 143.4 L502.4 146.9 L504 147.8 L505.6 151.4 L507.2 157.6 L508.8 159.6 L510.4 166.2 L512 161.9 L513.6 171.5 L515.2 174.7 L516.8 177.2 L518.4 177.9 L520 179.1 L521.6 184.6 L523.2 186.3 L524.8 189.9 L526.4 188.2 L528 193.6 L529.6 201.4 L531.2 195.4 L532.8 201 L534.4 199.3 L536 208.9 L537.6 211.2 L539.2 212.8 L540.8 219 L542.4 218.5 L544 216.4 L545.6 220.7 L547.2 232.9 L548.8 224.5 L550.4 230.2 L552 231.7 L553.6 237.2 L555.2 239.8 L556.8 243.4 L558.4 246.6 L560 253.4 L561.6 249.7 L563.2 255.6 L564.8 258.2 L566.4 261.5 L568 266.9 L569.6 269.3 L571.2 277.3 L572.8 274.8 L574.4 278 L576 283.3 L577.6 292.5 L579.2 283.9 L580.8 293 L582.4 295.6 L584 300 L585.6 304.3 L587.2 306.5 L588.8 312.5 L590.4 313.1 L592 304.6 L593.6 310.8 L595.2 309.8 L596.8 323.8 L598.4 332.3 L600 332.2 L601.6 341 L603.2 325.4 L604.8 327.1 L606.4 334.6 L608 335.6 L609.6 338 L611.2 342.8 L612.8 341 L614.4 352.4 L616 352 L617.6 353.1 L619.2 364.3 L620.8 363.3 L622.4 358.2 L624 361.6 L625.6 380.9 L627.2 364.2 L628.8 370.1 L630.4 370.6 L632 378.2 L633.6 377.1 L635.2 391.3 L636.8 387.2 L638.4 395.1 L640 394.1 L641.6 386 L643.2 385.6 L644.8 397.7 L646.4 403.1 L648 397.4 L649.6 401.7 L651.2 394.6 L652.8 404.9 L654.4 428.4 L656 413 L657.6 417.8 L659.2 423.5 L660.8 418.8 L662.4 421.5 L664 426.7 L665.6 415.6 L667.2 425.6 L668.8 427.4 L670.4 431.3 L672 425.6 L673.6 445.6 L675.2 429.5 L676.8 442.5 L678.4 431.2 L680 433.4 L681.6 442.3 L683.2 451.8 L684.8 447.4 L686.4 448.5 L688 465.9 L689.6 457.4 L691.2 462.3 L692.8 446.5 L694.4 445.3 L696 467.4 L697.6 467.1 L699.2 476.2 L700.8 463.2 L702.4 459.9 L704 453.3 L705.6 482.6 L707.2 463.5 L708.8 474.9 L710.4 482 L712 480 L713.6 485.8 L715.2 475.6 L716.8 481.5 L718.4 472 L720 490" stroke="#800000"/>
<path d="M88 344.9 L89.6 337.5 L91.2 327.4 L92.8 338.7 L94.4 332.5 L96 323 L97.6 334.7 L99.2 319.1 L100.8 321.3 L102.4 326.4 L104 321.9 L105.6 323.9 L107.2 322.4 L108.8 321 L110.4 318 L112 317.9 L113.6 321.3 L115.2 322.1 L116.8 302.7 L118.4 321.4 L120 314.6 L121.6 305.7 L123.2 306.2 L124.8 316.1 L126.4 298.9 L128 299.5 L129.6 311 L131.2 316 L132.8 303.5 L134.4 307.4 L136 307.2 L137.6 309.3 L139.2 307 L140.8 301.4 L142.4 296 L144 313.1 L145.6 313.9 L147.2 292.4 L148.8 301.8 L150.4 291.6 L152 293.7 L153.6 286 L155.2 286.6 L156.8 292 L158.4 289.9 L160 285.7 L161.6 282 L163.2 288.2 L164.8 291.9 L166.4 281.1 L168 280.4 L169.6 279.5 L171.2 282.7 L172.8 272.5 L174.4 283.9 L176 275.5 L177.6 264.8 L179.2 276.1 L180.8 266.4 L182.4 264.8 L184 263.4 L185.6 273 L187.2 257.3 L188.8 259.9 L190.4 256.3 L192 255.3 L193.6 254.4 L195.2 246.2 L196.8 242.6 L198.4 256.1 L200 247.7 L201.6 242.1 L203.2 249.5 L204.8 229.8 L206.4 237.8 L208 229.3 L209.6 228.6 L211.2 228.4 L212.8 229.9 L214.4 224.7 L216 220.5 L217.6 215.4 L219.2 217.6 L220.8 216.3 L222.4 213.5 L224 204.8 L225.6 206.8 L227.2 208.7 L228.8 208.9 L230.4 203 L232 202.8 L233.6 198.3 L235.2 188.9 L236.8 189 L238.4 188.4 L240 185.2 L241.6 177.7 L243.2 186.1 L244.8 177.4 L246.4 177.3 L248 173.5 L249.6 171.2 L251.2 170.1 L252.8 164.4 L254.4 171.8 L256 160.4 L257.6 156.6 L259.2 159.9 L260.8 157.6 L262.4 145.5 L264 152.7 L265.6 148.7 L267.2 147.9 L268.8 145.2 L270.4 143.3 L272 146.1 L273.6 129.4 L275.2 137.3 L276.8 131.7 L278.4 131.2 L280 124.8 L281.6 124.9 L283.2 121.6 L284.8 119.6 L286.4 118.8 L288 119.3 L289.6 114.9 L291.2 120.6 L292.8 111.3 L294.4 110.1 L296 109.5 L297.6 112.6 L299.2 103.1 L300.8 107.1 L302.4 101.7 L304 107.2 L305.6 100.7 L307.2 100.5 L308.8 99.4 L310.4 97.5 L312 89.3 L313.6 92.7 L315.2 90.2 L316.8 83.9 L318.4 91.9 L320 82.3 L321.6 85.6 L323.2 84.4 L324.8 82 L326.4 83.9 L328 81.5 L329.6 78.8 L331.2 75.7 L332.8 70.8 L334.4 68.3 L336 70.4 L337.6 67.1 L339.2 65.5 L340.8 65.8 L342.4 63.5 L344 64.4 L345.6 60.6 L347.2 61.8 L348.8 60.5 L350.4 59.3 L352 58.9 L353.6 60.4 L355.2 61.3 L356.8 57.5 L358.4 58.2 L360 57.5 L361.6 55.9 L363.2 56.9 L364.8 53.6 L366.4 53.3 L368 56 L369.6 52.6 L371.2 55.4 L372.8 51.1 L374.4 51.1 L376 52.4 L377.6 50.1 L379.2 49.6 L380.8 50.9 L382.4 56.4 L384 51.7 L385.6 51.7 L387.2 50.5 L388.8 55.1 L390.4 51.4 L392 52.7 L393.6 53 L395.2 57.4 L396.8 57 L398.4 52.7 L400 54 L401.6 56.7 L403.2 54.6 L404.8 57.3 L406.4 59.9 L408 63.7 L409.6 58.3 L411.2 62.2 L412.8 62.4 L414.4 68.8 L416 67.1 L417.6 66.7 L419.2 69.9 L420.8 73 L422.4 75.8 L424 74.1 L425.6 77.1 L427.2 78.5 L428.8 79.9 L430.4 82.3 L432 82.8 L433.6 85 L435.2 84.6 L436.8 89.8 L438.4 90.3 L440 88.5 L441.6 90.2 L443.2 90.5 L444.8 86.7 L446.4 91.2 L448 91.4 L449.6 94.6 L451.2 97.5 L452.8 101 L454.4 105.8 L456 106.2 L457.6 110.8 L459.2 109.1 L460.8 112.5 L462.4 112.6 L464 111.7 L465.6 114.8 L467.2 112.9 L468.8 114.8 L470.4 116.4 L472 118.9 L473.6 122.7 L475.2 127.3 L476.8 126.5 L478.4 130.9 L480 133.1 L481.6 133.7 L483.2 141.1 L484.8 145.6 L486.4 141.8 L488 139.9 L489.6 144.8 L491.2 139.1 L492.8 159 L494.4 159.2 L496 168 L497.6 165.4 L499.2 158.4 L500.8 162 L502.4 174.2 L504 174.3 L505.6 178.9 L507.2 183.7 L508.8 182.1 L510.4 185 L512 185.8 L513.6 187.6 L515.2 188.2 L516.8 187.7 L518.4 195.4 L520 197.8 L521.6 198.8 L523.2 198.8 L524.8 202.9 L526.4 208.2 L528 208 L529.6 204.5 L531.2 213.9 L532.8 208 L534.4 219.6 L536 213.2 L537.6 215.6 L539.2 221.5 L540.8 223.2 L542.4 226.7 L544 220.9 L545.6 232.9 L547.2 237 L548.8 234.6 L550.4 234 L552 240.3 L553.6 245.3 L555.2 242.4 L556.8 253.6 L558.4 256.4 L560 261.3 L560.9 250.5 L561.8 269.4 L562.7 265.9 L563.6 259.3 L564.5 259.8 L565.4 254.6 L566.3 262.5 L567.2 268.6 L568.1 260.2 L569 263.2 L569.9 264 L570.8 265.8 L571.7 270 L572.6 282.2 L573.5 281.3 L574.4 266.3 L575.3 277.8 L576.2 290.1 L577.1 280.4 L578 276.7 L578.9 281.2 L579.8 284.7 L580.7 300.2 L581.6 287.1 L582.5 289.5 L583.4 280.6 L584.3 291.4 L585.2 293.1 L586.1 296.8 L587 296.2 L587.9 295.2 L588.8 301.4 L589.7 305.1 L590.6 308.9 L591.5 301.6 L592.4 306 L593.3 307.2 L594.2 316.6 L595.1 313.2 L596 322.1 L596.9 304.7 L597.8 304.7 L598.7 310.9 L599.6 315.7 L600.5 313.3 L601.4 328.2 L602.3 328.5 L603.2 312.9 L604.1 329.4 L605 323.8 L605.9 329.6 L606.8 344.5 L607.7 332.4 L608.6 323.3 L609.5 321.3 L610.4 351.2 L611.3 344.9 L612.2 338.7 L613.1 328.7 L614 328.4 L614.9 327.1 L615.8 327.7 L616.7 344.3 L617.6 350.2 L618.5 337 L619.4 347.1 L620.3 346.3 L621.2 350.6 L622.1 352.3 L623 343.5 L623.9 360.1 L624.8 367.8 L625.7 360.2 L626.6 354.9 L627.5 359.6 L628.4 359.5 L629.3 377.1 L630.2 368.4 L631.1 353.5 L632 364.8 L632.9 370.5 L633.8 356.6 L634.7 371.9 L635.6 361.9 L636.5 367.6 L637.4 367.1 L638.3 362.9 L639.2 354.3 L640.1 363 L641 382.6 L641.9 386.2 L642.8 379.9 L643.7 379.5 L644.6 372.8 L645.5 379.6 L646.4 379.1 L647.3 398.5 L648.2 383.3 L649.1 378.9 L650 369.7 L650.9 378.5 L651.8 385.7 L652.7 399.2 L653.6 388.6 L654.5 389.4 L655.4 391.8 L656.3 389.9 L657.2 387.5 L658.1 389 L659 374.1 L659.9 405.4 L660.8 413 L661.7 393.6 L662.6 411.5 L663.5 401.8 L664.4 401.6 L665.3 410.5 L666.2 395.2 L667.1 397.8 L668 404 L668.9 400.4 L669.8 398.9 L670.7 412.2 L671.6 403.9 L672.5 409.7 L673.4 412.3 L674.3 418.5 L675.2 396.8 L676.1 412 L677 433.1 L677.9 412.2 L678.8 450.3 L679.7 416.5 L680.6 412.1 L681.5 406.2 L682.4 419.7 L683.3 431 L684.2 403.1 L685.1 412.9 L686 410.9 L686.9 428.6 L687.8 419.1 L688.7 449.1 L689.6 422.1 L690.5 455.3 L691.4 441.3 L692.3 447.8 L693.2 417 L694.1 420 L695 438.2 L695.9 417.6 L696.8 431.3 L697.7 459.1 L698.6 438.2 L699.5 456.8 L700.4 433.9 L701.3 431.2 L702.2 445.6 L703.1 427.3 L704 425.3 L704.9 450.1 L705.8 432.5 L706.7 441.5 L707.6 444.7 L708.5 422.3 L709.4 452.3 L710.3 448.6 L711.2 445.8 L712.1 438.7 L713 437.2 L713.9 460.7 L714.8 432 L715.7 427.7 L716.6 426.6 L717.5 449.5 L718.4 459.6 L719.3 468.7 L720.2 449.9 L721.1 456.4 L722 457 L722.9 465.8 L723.8 492.2 L724.7 462.6 L725.6 461.7 L726.5 465.2 L727.4 482 L728.3 465.2 L729.2 464.1 L730.1 479.5 L731 454.5 L731.9 464.4 L732.8 462.5 L733.7 459.5 L734.6 469.3 L735.5 467.3 L736.4 459.3 L737.3 456.7 L738.2 455.4 L739.1 471 L740 458" stroke="#008000"/>
<path d="M88 291.4 L89.6 310.9 L91.2 300.9 L92.8 296.4 L94.4 294.8 L96 280 L97.6 283.3 L99.2 292.3 L100.8 291.1 L102.4 300.7 L104 296.3 L105.6 277.5 L107.2 301 L108.8 281.6 L110.4 291.5 L112 287.9 L113.6 286 L115.2 271.5 L116.8 282.1 L118.4 280.6 L120 276.6 L121.6 302.2 L123.2 270.1 L124.8 296.9 L126.4 288.7 L128 277.6 L129.6 292 L131.2 295.8 L132.8 272.4 L134.4 282.4 L136 272 L137.6 274.1 L139.2 277.8 L140.8 262.9 L142.4 275.4 L144 258 L145.6 277.3 L147.2 276.7 L148.8 273 L150.4 265.1 L152 274.1 L153.6 269.7 L155.2 253.6 L156.8 261.1 L158.4 253.4 L160 257.7 L161.6 263.4 L163.2 263.7 L164.8 255.9 L166.4 255.6 L168 258.7 L169.6 257.8 L171.2 243.3 L172.8 244.9 L174.4 248.7 L176 251.9 L177.6 251.4 L179.2 234.8 L180.8 250.5 L182.4 230.9 L184 248.7 L185.6 253.3 L187.2 229.3 L188.8 241.4 L190.4 229.8 L192 235.2 L193.6 238 L195.2 229 L196.8 235.1 L198.4 228.7 L200 230.4 L201.6 239 L203.2 223.2 L204.8 226.8 L206.4 222.3 L208 216.8 L209.6 225.7 L211.2 211.6 L212.8 209.1 L214.4 199.4 L216 203.2 L217.6 203.5 L219.2 206.8 L220.8 200.9 L222.4 206.4 L224 193.8 L225.6 194.8 L227.2 193.4 L228.8 189 L230.4 184.5 L232 183.3 L233.6 188.8 L235.2 173.5 L236.8 177.7 L238.4 173.9 L240 173.2 L241.6 175.7 L243.2 167.2 L244.8 168.1 L246.4 168 L248 160.9 L249.6 155.5 L251.2 153.9 L252.8 153.5 L254.4 155 L256 151.3 L257.6 148.1 L259.2 151.9 L260.8 139.5 L262.4 140.5 L264 144.5 L265.6 130.2 L267.2 126.4 L268.8 138.2 L270.4 131.2 L272 132 L273.6 123.2 L275.2 130.2 L276.8 120.3 L278.4 118.8 L280 113.9 L281.6 124.4 L283.2 117.6 L284.8 113.4 L286.4 106.9 L288 108.5 L289.6 104.1 L291.2 103.4 L292.8 106.9 L294.4 102 L296 101.4 L297.6 99.4 L299.2 100 L300.8 92 L302.4 92.1 L304 98.9 L305.6 87.4 L307.2 90.7 L308.8 92.7 L310.4 81.4 L312 84.4 L313.6 81.7 L315.2 82.1 L316.8 80.4 L318.4 85.5 L320 75 L321.6 78.9 L323.2 74.8 L324.8 73.7 L326.4 75.3 L328 74.8 L329.6 69.5 L331.2 63.2 L332.8 68.3 L334.4 66.7 L336 63 L337.6 64.1 L339.2 56.7 L340.8 58.4 L342.4 50.9 L344 57.5 L345.6 50.4 L347.2 59 L348.8 55.9 L350.4 59.8 L352 57.1 L353.6 56.5 L355.2 53.2 L356.8 50.5 L358.4 55.4 L360 59 L361.6 54 L363.2 54.3 L364.8 55.1 L366.4 50.6 L368 49.6 L369.6 55.4 L371.2 55.3 L372.8 61.7 L374.4 55 L376 50.4 L377.6 56.3 L379.2 50.6 L380.8 51.7 L382.4 52.2 L384 52.6 L385.6 55.4 L387.2 52.3 L388.8 52.7 L390.4 55.5 L392 57.4 L393.6 54 L395.2 54.5 L396.8 62.7 L398.4 59 L400 62.6 L401.6 55.9 L403.2 65.4 L404.8 67.1 L406.4 68.7 L408 63.2 L409.6 70.6 L411.2 65.6 L412.8 70.5 L414.4 65.4 L416 66.1 L417.6 69.3 L419.2 82.2 L420.8 82.4 L422.4 89 L424 71.7 L425.6 84.6 L427.2 85.3 L428.8 85 L430.4 84.3 L432 89 L433.6 88.8 L435.2 90.4 L436.8 96.7 L438.4 86.5 L440 88.3 L441.6 96.1 L443.2 98.3 L444.8 92.4 L446.4 91.9 L448 102.5 L449.6 102 L451.2 107.6 L452.8 106.3 L454.4 119.9 L456 120.2 L457.6 110.7 L459.2 114.9 L460.8 114.2 L462.4 117.2 L464 116.8 L465.6 119.9 L467.2 123.5 L468.8 122.7 L470.4 129.1 L472 122.1 L473.6 134.2 L475.2 133.5 L476.8 129.9 L478.4 137.5 L480 133.8 L481.6 134 L483.2 139.3 L484.8 147.5 L486.4 139.6 L488 148.7 L489.6 158.3 L491.2 147.2 L492.8 158.4 L494.4 159 L496 160.4 L497.6 170 L499.2 165.5 L500.8 179 L502.4 180.4 L504 180 L505.6 169.6 L507.2 180.1 L508.8 179.7 L510.4 190.6 L512 187.9 L513.6 205.1 L515.2 196.7 L516.8 195.1 L518.4 202.6 L520 212.9 L521.6 212.7 L523.2 201.2 L524.8 198.9 L526.4 210.3 L528 200.9 L529.6 219.5 L531.2 210 L532.8 214 L534.4 211.8 L536 230 L537.6 217.4 L539.2 225.7 L540.8 235.2 L542.4 235.9 L544 237.7 L545.6 237.8 L547.2 248.6 L548.8 251.8 L550.4 248.3 L552 251.8 L553.6 250.6 L555.2 250.2 L556.8 272.3 L558.4 261.6 L560 261.4 L560.9 264 L561.8 273.4 L562.7 261.7 L563.6 256 L564.5 270.3 L565.4 276 L566.3 265.7 L567.2 272.2 L568.1 272.6 L569 272.9 L569.9 279.1 L570.8 276.8 L571.7 283.3 L572.6 294.5 L573.5 272.3 L574.4 278.8 L575.3 282.5 L576.2 273.1 L577.1 285.2 L578 276.7 L578.9 279.9 L579.8 289.4 L580.7 298.3 L581.6 285.6 L582.5 288.6 L583.4 283.7 L584.3 305.2 L585.2 294.5 L586.1 292.7 L587 293 L587.9 295.8 L588.8 295.4 L589.7 319.1 L590.6 302.7 L591.5 306.8 L592.4 315.6 L593.3 302.7 L594.2 308.1 L595.1 315.9 L596 319.4 L596.9 305.9 L597.8 332.9 L598.7 312 L599.6 322.3 L600.5 312.8 L601.4 299.9 L602.3 308.2 L603.2 318.5 L604.1 307 L605 305.4 L605.9 313.8 L606.8 308.2 L607.7 323 L608.6 320.7 L609.5 328.3 L610.4 332.3 L611.3 329.9 L612.2 338.6 L613.1 333.6 L614 315.3 L614.9 328.8 L615.8 338 L616.7 322.5 L617.6 325.8 L618.5 349.8 L619.4 347.2 L620.3 326.4 L621.2 341.7 L622.1 341.9 L623 349.6 L623.9 356.4 L624.8 336.1 L625.7 355.3 L626.6 343.3 L627.5 332.6 L628.4 345.1 L629.3 353.1 L630.2 346 L631.1 347.6 L632 358.2 L632.9 352.1 L633.8 367.8 L634.7 374.7 L635.6 362.8 L636.5 376.7 L637.4 365.6 L638.3 361.3 L639.2 359.3 L640.1 344.7 L641 372.5 L641.9 368.6 L642.8 369.6 L643.7 376.4 L644.6 347.7 L645.5 375.8 L646.4 371.1 L647.3 371.4 L648.2 347.7 L649.1 374.7 L650 380.6 L650.9 361.2 L651.8 381.3 L652.7 399.1 L653.6 364.8 L654.5 367.5 L655.4 393.8 L656.3 392.5 L657.2 380 L658.1 391.1 L659 398.5 L659.9 395.5 L660.8 365 L661.7 372.6 L662.6 396.5 L663.5 386.9 L664.4 384.9 L665.3 390.5 L666.2 387.9 L667.1 370.4 L668 396.1 L668.9 398.4 L669.8 390.9 L670.7 398.7 L671.6 396.8 L672.5 397.5 L673.4 404.7 L674.3 381.1 L675.2 402.2 L676.1 381.2 L677 405.8 L677.9 407.2 L678.8 394.5 L679.7 400.9 L680.6 389.4 L681.5 391.8 L682.4 375.9 L683.3 439.2 L684.2 413.7 L685.1 402.5 L686 405.1 L686.9 404 L687.8 377.2 L688.7 433.7 L689.6 397.8 L690.5 408.8 L691.4 406.7 L692.3 395.4 L693.2 408.8 L694.1 399.8 L695 395 L695.9 396.7 L696.8 434.7 L697.7 419.2 L698.6 428.3 L699.5 422.2 L700.4 415.4 L701.3 391.1 L702.2 422.2 L703.1 418.5 L704 417.5 L704.9 399.2 L705.8 423.5 L706.7 411.8 L707.6 408.2 L708.5 411.7 L709.4 446.1 L710.3 436.5 L711.2 412.4 L712.1 444.5 L713 424.4 L713.9 442 L714.8 418.1 L715.7 424 L716.6 444.5 L717.5 427.5 L718.4 438.6 L719.3 432.3 L720.2 411 L721.1 422.5 L722 422 L722.9 408.6 L723.8 425.1 L724.7 411.2 L725.6 421.7 L726.5 423.2 L727.4 430.9 L728.3 436.9 L729.2 439.4 L730.1 437.9 L731 419.7 L731.9 420.8 L732.8 436 L733.7 411.1 L734.6 432.8 L735.5 429.4 L736.4 441.9 L737.3 434.3 L738.2 413.3 L739.1 417.7 L740 430.1" stroke="#FF00FF"/>
<path d="M88 199.5 L89.6 212.1 L91.2 209.7 L92.8 198.9 L94.4 204.1 L96 211.6 L97.6 218.7 L99.2 193.7 L100.8 232.5 L102.4 211.3 L104 223.2 L105.6 209.3 L107.2 194.2 L108.8 205.1 L110.4 205.2 L112 200.6 L113.6 181.3 L115.2 185.7 L116.8 195.6 L118.4 203.5 L120 200.3 L121.6 192.4 L123.2 197.2 L124.8 195.3 L126.4 203.7 L128 206.3 L129.6 202.8 L131.2 189.2 L132.8 199.6 L134.4 168.4 L136 184.3 L137.6 182.8 L139.2 179.1 L140.8 197.2 L142.4 197.7 L144 188 L145.6 180.1 L147.2 179.7 L148.8 170 L150.4 171.3 L152 173.5 L153.6 172.1 L155.2 178.6 L156.8 172.9 L158.4 181.7 L160 182.2 L161.6 170 L163.2 191.8 L164.8 164.9 L166.4 160.7 L168 178.7 L169.6 167.7 L171.2 171.6 L172.8 180.5 L174.4 168.4 L176 166.3 L177.6 161.8 L179.2 171.6 L180.8 167 L182.4 172.3 L184 158.8 L185.6 166.4 L187.2 158.2 L188.8 169.3 L190.4 162.1 L192 169.2 L193.6 167 L195.2 152.1 L196.8 160.7 L198.4 159 L200 152 L201.6 162.5 L203.2 141.8 L204.8 160 L206.4 156.1 L208 137.3 L209.6 163.9 L211.2 137.9 L212.8 146 L214.4 144 L216 153.9 L217.6 144.1 L219.2 153 L220.8 136.2 L222.4 143.2 L224 144.8 L225.6 142.3 L227.2 138.8 L228.8 130.2 L230.4 132.8 L232 138.8 L233.6 138 L235.2 137.5 L236.8 124.4 L238.4 124.6 L240 132.8 L241.6 134.3 L243.2 122.7 L244.8 124 L246.4 115.7 L248 117.7 L249.6 113 L251.2 108.9 L252.8 105.9 L254.4 111 L256 104.3 L257.6 109.6 L259.2 111.5 L260.8 102.1 L262.4 95.7 L264 93.3 L265.6 99.5 L267.2 107.2 L268.8 95.1 L270.4 96.6 L272 91.2 L273.6 87.9 L275.2 94.1 L276.8 94.2 L278.4 91.4 L280 91.7 L281.6 92.1 L283.2 85.1 L284.8 88.6 L286.4 85.4 L288 84.6 L289.6 85 L291.2 78.5 L292.8 82.7 L294.4 80.2 L296 75.6 L297.6 79.3 L299.2 85 L300.8 80 L302.4 79.7 L304 74.5 L305.6 69.8 L307.2 76 L308.8 77.4 L310.4 70.2 L312 79.6 L313.6 75 L315.2 74.1 L316.8 76.3 L318.4 76.8 L320 75 L321.6 69 L323.2 72.9 L324.8 77.9 L326.4 73.8 L328 70.7 L329.6 67 L331.2 71 L332.8 73.5 L334.4 68.3 L336 70.3 L337.6 73.5 L339.2 77.1 L340.8 74 L342.4 70.6 L344 80.1 L345.6 83.3 L347.2 74.4 L348.8 84.5 L350.4 84.3 L352 80 L353.6 81 L355.2 80.5 L356.8 80.8 L358.4 80 L360 83.9 L361.6 88.3 L363.2 99.5 L364.8 80.7 L366.4 83.9 L368 85.7 L369.6 89.9 L371.2 95.2 L372.8 89.5 L374.4 93.2 L376 100.7 L377.6 89.7 L379.2 103 L380.8 98.8 L382.4 88.9 L384 102.7 L385.6 98.5 L387.2 95 L388.8 101.2 L390.4 109.6 L392 105.5 L393.6 104.1 L395.2 112.9 L396.8 98.2 L398.4 104.7 L400 103.5 L401.6 106.7 L403.2 106.9 L404.8 111.7 L406.4 118.8 L408 107.5 L409.6 111.5 L411.2 103.9 L412.8 119.4 L414.4 112.3 L416 102 L417.6 121.8 L419.2 121.4 L420.8 113.7 L422.4 106.3 L424 123.1 L425.6 116.5 L427.2 118.8 L428.8 122.1 L430.4 121.5 L432 114.4 L433.6 121.9 L435.2 132.3 L436.8 129.4 L438.4 126.5 L440 137.6 L441.6 134.8 L443.2 134.7 L444.8 147.6 L446.4 123.5 L448 146.7 L449.6 136.4 L451.2 138.9 L452.8 142.6 L454.4 131.7 L456 139.8 L457.6 146.7 L459.2 134.3 L460.8 139.2 L462.4 151.1 L464 155.9 L465.6 140.5 L467.2 148.8 L468.8 160 L470.4 147 L472 163.1 L473.6 159 L475.2 161.5 L476.8 172.2 L478.4 153 L480 135.2 L481.6 155.3 L483.2 158 L484.8 164 L486.4 163.7 L488 162.4 L489.6 161.2 L491.2 172 L492.8 170.2 L494.4 175.3 L496 172.2 L497.6 172.6 L499.2 174.8 L500.8 191.9 L502.4 196 L504 188.6 L505.6 200.7 L507.2 203.2 L508.8 199.2 L510.4 202.6 L512 195.9 L513.6 224.9 L515.2 202.4 L516.8 221.5 L518.4 211.4 L520 236.3 L521.6 224.6 L523.2 232.6 L524.8 208 L526.4 241 L528 218.3 L529.6 243.7 L531.2 250.2 L532.8 233.7 L534.4 226.5 L536 241.7 L537.6 234.6 L539.2 240 L540.8 244.3 L542.4 226.9 L544 244.1 L545.6 233.3 L547.2 260.7 L548.8 247.2 L550.4 233.2 L552 251.9 L553.6 279.3 L555.2 239.1 L556.8 243.6 L558.4 258.4 L560 255.9 L560.9 264.4 L561.8 255.9 L562.7 248 L563.6 260.9 L564.5 268.9 L565.4 277.3 L566.3 274.1 L567.2 281.8 L568.1 260.8 L569 295.5 L569.9 288.8 L570.8 275 L571.7 276.6 L572.6 279.2 L573.5 291.7 L574.4 282.2 L575.3 313.4 L576.2 316.6 L577.1 312.9 L578 283.5 L578.9 269.1 L579.8 299.6 L580.7 303 L581.6 299 L582.5 266.2 L583.4 291.8 L584.3 294.7 L585.2 307.7 L586.1 289.5 L587 277.5 L587.9 296.3 L588.8 315.9 L589.7 279.4 L590.6 302.4 L591.5 273.8 L592.4 324.1 L593.3 306.7 L594.2 299.9 L595.1 341.9 L596 304.1 L596.9 295.7 L597.8 309.4 L598.7 299.7 L599.6 304.8 L600.5 325.1 L601.4 296.4 L602.3 324.2 L603.2 315.7 L604.1 324.9 L605 299.6 L605.9 320.4 L606.8 320.9 L607.7 359.4 L608.6 317.9 L609.5 295.8 L610.4 359.2 L611.3 307.3 L612.2 315.1 L613.1 351.7 L614 323.2 L614.9 299.1 L615.8 316.3 L616.7 310.2 L617.6 297.8 L618.5 323.6 L619.4 302.7 L620.3 343.8 L621.2 335.9 L622.1 294.6 L623 296.5 L623.9 303.7 L624.8 351.9 L625.7 325.2 L626.6 339 L627.5 290.1 L628.4 350 L629.3 348.8 L630.2 334.7 L631.1 317.5 L632 335.2 L632.9 330.1 L633.8 319.3 L634.7 324.6 L635.6 366.2 L636.5 351.8 L637.4 299 L638.3 326 L639.2 297 L640.1 302.9 L641 308.9 L641.9 327.3 L642.8 303 L643.7 338.2 L644.6 293.5 L645.5 319.6 L646.4 319.9 L647.3 338.4 L648.2 342.4 L649.1 336.5 L650 342.1 L650.9 349.8 L651.8 354.7 L652.7 329.7 L653.6 313.1 L654.5 301.7 L655.4 320.8 L656.3 336.6 L657.2 572.3 L658.1 572.3 L659 332.9 L659.9 318.2 L660.8 328.9 L661.7 333.7 L662.6 347.2 L663.5 324.1 L664.4 353 L665.3 357 L666.2 331.3 L667.1 321 L668 322.1 L668.9 323.7 L669.8 344.2 L670.7 341.2 L671.6 320.1 L672.5 306.3 L673.4 400.2 L674.3 319.4 L675.2 336 L676.1 341.1 L677 354.3 L677.9 352.3 L678.8 364.1 L679.7 336 L680.6 572.3 L681.5 572.3 L682.4 370.7 L683.3 321.4 L684.2 329.5 L685.1 363.4 L686 333.3 L686.9 348.2 L687.8 357.3 L688.7 340 L689.6 327.4 L690.5 317.4 L691.4 336.7 L692.3 322.5 L693.2 330.1 L694.1 330.2 L695 325.6 L695.9 366.6 L696.8 348.2 L697.7 318.3 L698.6 366 L699.5 356.3 L700.4 313.2 L701.3 359.7 L702.2 339.5 L703.1 337.2 L704 346.5 L704.9 327.2 L705.8 328.3 L706.7 353.7 L707.6 316.1 L708.5 356 L709.4 349.5 L710.3 344.5 L711.2 339.1 L712.1 361.5 L713 338.8 L713.9 383.7 L714.8 351.2 L715.7 358.4 L716.6 355.2 L717.5 345 L718.4 340.2 L719.3 356.4 L720.2 343.9 L721.1 370.5 L722 350.8 L722.9 331.1 L723.8 356.3 L724.7 572.3 L725.6 572.3 L726.5 333.9 L727.4 340.5 L728.3 349.1 L729.2 363.3 L730.1 343.9 L731 401.9 L731.9 342.5 L732.8 361.5 L733.7 340.6 L734.6 351.9 L735.5 332.3 L736.4 362.7 L737.3 388.1 L738.2 353.7 L739.1 362.7 L740 357.2" stroke="#8000FF"/>
<path d="M100 490 L102 481 L104 474.7 L106 469.2 L108 464.3 L110 459.9 L112 455.7 L114 451.5 L116 447 L118 442.4 L120 438 L122 433.6 L124 429.3 L126 424.9 L128 420.5 L130 416 L132 411.4 L134 406.8 L136 402.2 L138 397.5 L140 392.8 L142 387.9 L144 383 L146 377.9 L148 372.6 L150 367.2 L152 361.8 L154 356.4 L156 351.1 L158 346 L160 341.1 L162 336.3 L164 331.6 L166 327 L168 322.4 L170 317.7 L172 313 L174 308.2 L176 303.4 L178 298.6 L180 293.8 L182 288.9 L184 284 L186 279 L188 273.8 L190 268.5 L192 263 L194 257.6 L196 252.3 L198 247.2 L200 242.5 L202 238.1 L204 234 L206 230 L208 226.1 L210 222.3 L212 218.4 L214 214.5 L216 210.5 L218 206.5 L220 202.5 L222 198.5 L224 194.5 L226 190.5 L228 186.5 L230 182.5 L232 178.5 L234 174.4 L236 170.4 L238 166.4 L240 162.4 L242 158.4 L244 154.4 L246 150.3 L248 146.1 L250 142 L252 137.8 L254 133.7 L256 129.6 L258 125.6 L260 121.8 L262 118 L264 114.4 L266 111 L268 107.7 L270 104.6 L272 101.5 L274 98.6 L276 95.7 L278 92.9 L280 90.2 L282 87.6 L284 85 L286 82.5 L288 80 L290 77.6 L292 75.2 L294 73 L296 70.8 L298 68.8 L300 67 L302 65.3 L304 63.7 L306 62.3 L308 60.9 L310 59.6 L312 58.4 L314 57.2 L316 56 L318 55 L320 54.3 L322 53.7 L324 53.2 L326 52.7 L328 52.2 L330 51.9 L332 51.7 L334 51.6 L336 51.6 L338 51.7 L340 51.9 L342 52.1 L344 52.4 L346 52.7 L348 53.1 L350 53.7 L352 54.4 L354 55.2 L356 56 L358 56.9 L360 58 L362 59.3 L364 60.7 L366 62.2 L368 63.7 L370 65.4 L372 67.2 L374 69 L376 71 L378 73.3 L380 75.7 L382 78.3 L384 80.9 L386 83.6 L388 86.2 L390 88.8 L392 91.2 L394 93.5 L396 95.7 L398 98.1 L400 100.5 L402 103.1 L404 105.9 L406 108.8 L408 111.6 L410 114.4 L412 117.1 L414 119.8 L416 122.4 L418 125.1 L420 127.8 L422 130.6 L424 133.5 L426 136.5 L428 139.7 L430 143.1 L432 146.5 L434 150 L436 153.5 L438 157 L440 160.5 L442 163.8 L444 167 L446 170 L448 172.9 L450 175.6 L452 178.3 L454 181 L456 183.6 L458 186.2 L460 188.9 L462 191.6 L464 194.4 L466 197.2 L468 199.9 L470 202.6 L472 205.4 L474 208.2 L476 211.2 L478 214.2 L480 217.4 L482 220.7 L484 224.3 L486 228 L488 231.9 L490 235.9 L492 239.9 L494 244 L496 248 L498 252.3 L500 256.6 L502 260.9 L504 265.1 L506 269.1 L508 272.8 L510 276.3 L512 279.6 L514 282.8 L516 285.9 L518 289 L520 292 L522 295.1 L524 298.1 L526 301.3 L528 304.5 L530 307.8 L532 311.1 L534 314.4 L536 317.8 L538 321.1 L540 324.5 L542 327.9 L544 331.3 L546 334.7 L548 338.1 L550 341.6 L552 345 L554 348.5 L556 351.9 L558 355.5 L560 359 L562 362.5 L564 366 L566 369.6 L568 373.1 L570 376.7 L572 380.2 L574 383.8 L576 387.3 L578 390.9 L580 394.5 L582 398 L584 401.6 L586 405.2 L588 408.7 L590 412.3 L592 415.8 L594 419.3 L596 422.7 L598 426.2 L600 429.6 L602 433 L604 436.5 L606 439.8 L608 443.2 L610 446.6 L612 449.9 L614 453.2 L616 456.4 L618 459.6 L620 462.7 L622 465.8 L624 468.9 L626 471.9 L628 475 L630 478 L632 481 L634 484 L636 487 L638 490 L640 493" stroke="#000" stroke-width="3"/>
</g>
<text x="62.76" y="514.20" font-size="30.23" font-weight="bold" fill="#000" textLength="50.78" lengthAdjust="spacingAndGlyphs" >500</text>
<text x="234.79" y="514.20" font-size="30.23" font-weight="bold" fill="#000" textLength="50.78" lengthAdjust="spacingAndGlyphs" >520</text>
<text x="400.33" y="514.20" font-size="30.23" font-weight="bold" fill="#000" textLength="50.78" lengthAdjust="spacingAndGlyphs" >540</text>
<text x="559.85" y="514.20" font-size="30.23" font-weight="bold" fill="#000" textLength="50.78" lengthAdjust="spacingAndGlyphs" >560</text>
<text x="713.76" y="514.20" font-size="30.23" font-weight="bold" fill="#000" textLength="50.78" lengthAdjust="spacingAndGlyphs" >580</text>
<text x="59.05" y="60.30" font-size="30.96" font-weight="bold" fill="#000" textLength="17.22" lengthAdjust="spacingAndGlyphs" >1</text>
<text x="34.79" y="367.50" font-size="30.65" font-weight="bold" fill="#000" textLength="38.88" lengthAdjust="spacingAndGlyphs" >0.1</text>
<text x="291.57" y="552.90" font-size="30.96" font-weight="bold" fill="#000" textLength="245.95" lengthAdjust="spacingAndGlyphs" >Wavelength (nm)</text>
<text x="24.50" y="487.07" font-size="31.83" font-weight="bold" fill="#000" textLength="487.04" lengthAdjust="spacingAndGlyphs" transform="rotate(-90 24.50 487.07)" >Photoluminescence Intensity (A.U)</text>
<text x="132.53" y="86.94" font-size="56.78" font-weight="normal" fill="#000" textLength="66.33" lengthAdjust="spacingAndGlyphs" >(a)</text>
<line x1="600.6" y1="35.4" x2="652" y2="35.4" stroke="#0000FF" stroke-width="3" stroke-linecap="round"/>
<text x="657.01" y="42.30" font-size="19.91" font-weight="normal" fill="#000" textLength="51.84" lengthAdjust="spacingAndGlyphs" >180K</text>
<line x1="600.6" y1="62.2" x2="652" y2="62.2" stroke="#FF8000" stroke-width="3" stroke-linecap="round"/>
<text x="657.60" y="69.10" font-size="19.91" font-weight="normal" fill="#000" textLength="51.25" lengthAdjust="spacingAndGlyphs" >210K</text>
<line x1="600.6" y1="88.6" x2="652" y2="88.6" stroke="#FF0000" stroke-width="3" stroke-linecap="round"/>
<text x="657.60" y="95.50" font-size="19.91" font-weight="normal" fill="#000" textLength="51.25" lengthAdjust="spacingAndGlyphs" >240K</text>
<line x1="600.6" y1="115" x2="652" y2="115" stroke="#800000" stroke-width="3" stroke-linecap="round"/>
<text x="657.60" y="121.90" font-size="19.91" font-weight="normal" fill="#000" textLength="51.25" lengthAdjust="spacingAndGlyphs" >270K</text>
<line x1="600.6" y1="141.4" x2="652" y2="141.4" stroke="#008000" stroke-width="3" stroke-linecap="round"/>
<text x="657.87" y="148.30" font-size="19.91" font-weight="normal" fill="#000" textLength="50.98" lengthAdjust="spacingAndGlyphs" >300K</text>
<line x1="600.6" y1="167.4" x2="652" y2="167.4" stroke="#FF00FF" stroke-width="3" stroke-linecap="round"/>
<text x="657.87" y="174.30" font-size="19.91" font-weight="normal" fill="#000" textLength="50.98" lengthAdjust="spacingAndGlyphs" >330K</text>
<line x1="600.6" y1="193.8" x2="652" y2="193.8" stroke="#8000FF" stroke-width="3" stroke-linecap="round"/>
<text x="657.87" y="200.70" font-size="19.91" font-weight="normal" fill="#000" textLength="50.98" lengthAdjust="spacingAndGlyphs" >360K</text>
<line x1="600.6" y1="220.6" x2="652" y2="220.6" stroke="#000" stroke-width="3" stroke-linecap="round"/>
<text x="657.70" y="227.50" font-size="19.91" font-weight="normal" fill="#000" textLength="79.73" lengthAdjust="spacingAndGlyphs" >Solution</text>
<text x="283.10" y="46.70" font-size="26.16" font-weight="bold" fill="#8A1CC4" textLength="62.54" lengthAdjust="spacingAndGlyphs" >360K</text>
<text x="458.62" y="46.70" font-size="26.16" font-weight="bold" fill="#0000E6" textLength="63.62" lengthAdjust="spacingAndGlyphs" >180K</text>
<g filter="url(#sh)"><path d="M359 37.3 L378 28.4 L376 34.7 L448.3 34.7 L448.3 39.9 L376 39.9 L378 46.7 Z" fill="#000"/></g>
<rect x="878.8" y="17.7" width="648.8" height="477.6" fill="none" stroke="#000" stroke-width="1.8" stroke-linejoin="round" />
<line x1="1008.2" y1="495.3" x2="1008.2" y2="484.3" stroke="#000" stroke-width="1.8" />
<line x1="1008.2" y1="17.7" x2="1008.2" y2="28.7" stroke="#000" stroke-width="1.8" />
<line x1="1181.5" y1="495.3" x2="1181.5" y2="484.3" stroke="#000" stroke-width="1.8" />
<line x1="1181.5" y1="17.7" x2="1181.5" y2="28.7" stroke="#000" stroke-width="1.8" />
<line x1="1354.8" y1="495.3" x2="1354.8" y2="484.3" stroke="#000" stroke-width="1.8" />
<line x1="1354.8" y1="17.7" x2="1354.8" y2="28.7" stroke="#000" stroke-width="1.8" />
<line x1="1528.1" y1="495.3" x2="1528.1" y2="484.3" stroke="#000" stroke-width="1.8" />
<line x1="1528.1" y1="17.7" x2="1528.1" y2="28.7" stroke="#000" stroke-width="1.8" />
<line x1="921.6" y1="495.3" x2="921.6" y2="489.3" stroke="#000" stroke-width="1.8" />
<line x1="921.6" y1="17.7" x2="921.6" y2="23.7" stroke="#000" stroke-width="1.8" />
<line x1="1094.9" y1="495.3" x2="1094.9" y2="489.3" stroke="#000" stroke-width="1.8" />
<line x1="1094.9" y1="17.7" x2="1094.9" y2="23.7" stroke="#000" stroke-width="1.8" />
<line x1="1268.2" y1="495.3" x2="1268.2" y2="489.3" stroke="#000" stroke-width="1.8" />
<line x1="1268.2" y1="17.7" x2="1268.2" y2="23.7" stroke="#000" stroke-width="1.8" />
<line x1="1441.5" y1="495.3" x2="1441.5" y2="489.3" stroke="#000" stroke-width="1.8" />
<line x1="1441.5" y1="17.7" x2="1441.5" y2="23.7" stroke="#000" stroke-width="1.8" />
<line x1="878.8" y1="463.5" x2="884.4" y2="463.5" stroke="#000" stroke-width="1.8" />
<line x1="1527.6" y1="463.5" x2="1522" y2="463.5" stroke="#000" stroke-width="1.8" />
<line x1="878.8" y1="431.6" x2="888.8" y2="431.6" stroke="#000" stroke-width="1.8" />
<line x1="1527.6" y1="431.6" x2="1517.6" y2="431.6" stroke="#000" stroke-width="1.8" />
<line x1="878.8" y1="399.8" x2="884.4" y2="399.8" stroke="#000" stroke-width="1.8" />
<line x1="1527.6" y1="399.8" x2="1522" y2="399.8" stroke="#000" stroke-width="1.8" />
<line x1="878.8" y1="368" x2="888.8" y2="368" stroke="#000" stroke-width="1.8" />
<line x1="1527.6" y1="368" x2="1517.6" y2="368" stroke="#000" stroke-width="1.8" />
<line x1="878.8" y1="336.1" x2="884.4" y2="336.1" stroke="#000" stroke-width="1.8" />
<line x1="1527.6" y1="336.1" x2="1522" y2="336.1" stroke="#000" stroke-width="1.8" />
<line x1="878.8" y1="304.3" x2="888.8" y2="304.3" stroke="#000" stroke-width="1.8" />
<line x1="1527.6" y1="304.3" x2="1517.6" y2="304.3" stroke="#000" stroke-width="1.8" />
<line x1="878.8" y1="272.5" x2="884.4" y2="272.5" stroke="#000" stroke-width="1.8" />
<line x1="1527.6" y1="272.5" x2="1522" y2="272.5" stroke="#000" stroke-width="1.8" />
<line x1="878.8" y1="240.6" x2="888.8" y2="240.6" stroke="#000" stroke-width="1.8" />
<line x1="1527.6" y1="240.6" x2="1517.6" y2="240.6" stroke="#000" stroke-width="1.8" />
<line x1="878.8" y1="208.8" x2="884.4" y2="208.8" stroke="#000" stroke-width="1.8" />
<line x1="1527.6" y1="208.8" x2="1522" y2="208.8" stroke="#000" stroke-width="1.8" />
<line x1="878.8" y1="176.9" x2="888.8" y2="176.9" stroke="#000" stroke-width="1.8" />
<line x1="1527.6" y1="176.9" x2="1517.6" y2="176.9" stroke="#000" stroke-width="1.8" />
<line x1="878.8" y1="145.1" x2="884.4" y2="145.1" stroke="#000" stroke-width="1.8" />
<line x1="1527.6" y1="145.1" x2="1522" y2="145.1" stroke="#000" stroke-width="1.8" />
<line x1="878.8" y1="113.3" x2="888.8" y2="113.3" stroke="#000" stroke-width="1.8" />
<line x1="1527.6" y1="113.3" x2="1517.6" y2="113.3" stroke="#000" stroke-width="1.8" />
<line x1="878.8" y1="81.4" x2="884.4" y2="81.4" stroke="#000" stroke-width="1.8" />
<line x1="1527.6" y1="81.4" x2="1522" y2="81.4" stroke="#000" stroke-width="1.8" />
<line x1="878.8" y1="49.6" x2="888.8" y2="49.6" stroke="#000" stroke-width="1.8" />
<line x1="1527.6" y1="49.6" x2="1517.6" y2="49.6" stroke="#000" stroke-width="1.8" />
<line x1="878.8" y1="17.8" x2="884.4" y2="17.8" stroke="#000" stroke-width="1.8" />
<line x1="1527.6" y1="17.8" x2="1522" y2="17.8" stroke="#000" stroke-width="1.8" />
<text x="833.36" y="504.43" font-size="27.68" font-weight="bold" fill="#000" textLength="34.51" lengthAdjust="spacingAndGlyphs" >10</text>
<text x="833.36" y="440.76" font-size="27.68" font-weight="bold" fill="#000" textLength="34.51" lengthAdjust="spacingAndGlyphs" >20</text>
<text x="833.43" y="377.05" font-size="27.63" font-weight="bold" fill="#000" textLength="34.44" lengthAdjust="spacingAndGlyphs" >30</text>
<text x="833.36" y="313.42" font-size="27.68" font-weight="bold" fill="#000" textLength="34.51" lengthAdjust="spacingAndGlyphs" >40</text>
<text x="833.36" y="249.75" font-size="27.68" font-weight="bold" fill="#000" textLength="34.51" lengthAdjust="spacingAndGlyphs" >50</text>
<text x="833.36" y="186.08" font-size="27.68" font-weight="bold" fill="#000" textLength="34.51" lengthAdjust="spacingAndGlyphs" >60</text>
<text x="833.36" y="122.41" font-size="27.68" font-weight="bold" fill="#000" textLength="34.51" lengthAdjust="spacingAndGlyphs" >70</text>
<text x="833.36" y="58.74" font-size="27.68" font-weight="bold" fill="#000" textLength="34.51" lengthAdjust="spacingAndGlyphs" >80</text>
<text x="961.16" y="528.50" font-size="26.78" font-weight="bold" fill="#000" textLength="92.13" lengthAdjust="spacingAndGlyphs" >0.0030</text>
<text x="1134.36" y="528.54" font-size="26.84" font-weight="bold" fill="#000" textLength="92.32" lengthAdjust="spacingAndGlyphs" >0.0040</text>
<text x="1307.66" y="528.54" font-size="26.84" font-weight="bold" fill="#000" textLength="92.32" lengthAdjust="spacingAndGlyphs" >0.0050</text>
<text x="1480.96" y="528.54" font-size="26.84" font-weight="bold" fill="#000" textLength="92.32" lengthAdjust="spacingAndGlyphs" >0.0060</text>
<text x="812.10" y="344.03" font-size="30.52" font-weight="bold" fill="#000" textLength="168.75" lengthAdjust="spacingAndGlyphs" transform="rotate(-90 812.10 344.03)" >FWHM (nm)</text>
<text x="975.30" y="113.09" font-size="57.53" font-weight="normal" fill="#000" textLength="70.89" lengthAdjust="spacingAndGlyphs" >(b)</text>
<text x="1144.03" y="584.20" font-size="30.96" font-weight="bold" fill="#000" textLength="42.78" lengthAdjust="spacingAndGlyphs" >1/T</text>
<text x="1195.76" y="584.26" font-size="25.33" font-weight="normal" fill="#000" textLength="8.29" lengthAdjust="spacingAndGlyphs" >(</text>
<text x="1204.70" y="584.70" font-size="32.12" font-weight="bold" fill="#000" textLength="21.58" lengthAdjust="spacingAndGlyphs" >K</text>
<text x="1227.05" y="571.06" font-size="24.34" font-weight="bold" fill="#000" textLength="10.62" lengthAdjust="spacingAndGlyphs" >-</text>
<text x="1234.80" y="572.00" font-size="32.12" font-weight="bold" fill="#000" textLength="17.87" lengthAdjust="spacingAndGlyphs" >1</text>
<text x="1254.05" y="584.26" font-size="25.33" font-weight="normal" fill="#000" textLength="8.54" lengthAdjust="spacingAndGlyphs" >)</text>
<path d="M956.7 75.7 L969.7 261 L1013.5 369.2 L1066 389 L1181.5 418.3 L1276 429.1 L1354.8 434.2 L1451.1 440.5" fill="none" stroke="#F20000" stroke-width="3.6" stroke-linejoin="round"/>
<rect x="950.9" y="70" width="11.5" height="11.5" fill="#F20000"/>
<rect x="963.9" y="255.2" width="11.5" height="11.5" fill="#F20000"/>
<rect x="1007.7" y="363.5" width="11.5" height="11.5" fill="#F20000"/>
<rect x="1060.2" y="383.2" width="11.5" height="11.5" fill="#F20000"/>
<rect x="1175.8" y="412.5" width="11.5" height="11.5" fill="#F20000"/>
<rect x="1270.3" y="423.3" width="11.5" height="11.5" fill="#F20000"/>
<rect x="1349.1" y="428.4" width="11.5" height="11.5" fill="#F20000"/>
<rect x="1445.3" y="434.8" width="11.5" height="11.5" fill="#F20000"/>
<rect x="1119.7" y="28.9" width="397.6" height="291.7" fill="#fff" stroke="#222" stroke-width="1.4" stroke-linejoin="round" />
<line x1="1169.7" y1="320.6" x2="1169.7" y2="314.6" stroke="#222" stroke-width="1.3" />
<line x1="1169.7" y1="28.9" x2="1169.7" y2="34.9" stroke="#222" stroke-width="1.3" />
<line x1="1219.4" y1="320.6" x2="1219.4" y2="317.1" stroke="#222" stroke-width="1.3" />
<line x1="1219.4" y1="28.9" x2="1219.4" y2="32.4" stroke="#222" stroke-width="1.3" />
<line x1="1269.1" y1="320.6" x2="1269.1" y2="314.6" stroke="#222" stroke-width="1.3" />
<line x1="1269.1" y1="28.9" x2="1269.1" y2="34.9" stroke="#222" stroke-width="1.3" />
<line x1="1318.8" y1="320.6" x2="1318.8" y2="317.1" stroke="#222" stroke-width="1.3" />
<line x1="1318.8" y1="28.9" x2="1318.8" y2="32.4" stroke="#222" stroke-width="1.3" />
<line x1="1368.5" y1="320.6" x2="1368.5" y2="314.6" stroke="#222" stroke-width="1.3" />
<line x1="1368.5" y1="28.9" x2="1368.5" y2="34.9" stroke="#222" stroke-width="1.3" />
<line x1="1418.2" y1="320.6" x2="1418.2" y2="317.1" stroke="#222" stroke-width="1.3" />
<line x1="1418.2" y1="28.9" x2="1418.2" y2="32.4" stroke="#222" stroke-width="1.3" />
<line x1="1467.9" y1="320.6" x2="1467.9" y2="314.6" stroke="#222" stroke-width="1.3" />
<line x1="1467.9" y1="28.9" x2="1467.9" y2="34.9" stroke="#222" stroke-width="1.3" />
<line x1="1517.6" y1="320.6" x2="1517.6" y2="317.1" stroke="#222" stroke-width="1.3" />
<line x1="1517.6" y1="28.9" x2="1517.6" y2="32.4" stroke="#222" stroke-width="1.3" />
<line x1="1119.7" y1="288.7" x2="1123.3" y2="288.7" stroke="#222" stroke-width="1.3" />
<line x1="1517.3" y1="288.7" x2="1513.7" y2="288.7" stroke="#222" stroke-width="1.3" />
<line x1="1119.7" y1="256.1" x2="1125.7" y2="256.1" stroke="#222" stroke-width="1.3" />
<line x1="1517.3" y1="256.1" x2="1511.3" y2="256.1" stroke="#222" stroke-width="1.3" />
<line x1="1119.7" y1="223.5" x2="1123.3" y2="223.5" stroke="#222" stroke-width="1.3" />
<line x1="1517.3" y1="223.5" x2="1513.7" y2="223.5" stroke="#222" stroke-width="1.3" />
<line x1="1119.7" y1="190.9" x2="1125.7" y2="190.9" stroke="#222" stroke-width="1.3" />
<line x1="1517.3" y1="190.9" x2="1511.3" y2="190.9" stroke="#222" stroke-width="1.3" />
<line x1="1119.7" y1="158.3" x2="1123.3" y2="158.3" stroke="#222" stroke-width="1.3" />
<line x1="1517.3" y1="158.3" x2="1513.7" y2="158.3" stroke="#222" stroke-width="1.3" />
<line x1="1119.7" y1="125.7" x2="1125.7" y2="125.7" stroke="#222" stroke-width="1.3" />
<line x1="1517.3" y1="125.7" x2="1511.3" y2="125.7" stroke="#222" stroke-width="1.3" />
<line x1="1119.7" y1="93.1" x2="1123.3" y2="93.1" stroke="#222" stroke-width="1.3" />
<line x1="1517.3" y1="93.1" x2="1513.7" y2="93.1" stroke="#222" stroke-width="1.3" />
<line x1="1119.7" y1="60.5" x2="1125.7" y2="60.5" stroke="#222" stroke-width="1.3" />
<line x1="1517.3" y1="60.5" x2="1511.3" y2="60.5" stroke="#222" stroke-width="1.3" />
<text x="1081.87" y="327.13" font-size="16.95" font-weight="bold" fill="#000" textLength="31.15" lengthAdjust="spacingAndGlyphs" >525</text>
<text x="1082.18" y="261.91" font-size="16.91" font-weight="bold" fill="#000" textLength="31.09" lengthAdjust="spacingAndGlyphs" >530</text>
<text x="1081.93" y="196.71" font-size="16.91" font-weight="bold" fill="#000" textLength="31.09" lengthAdjust="spacingAndGlyphs" >535</text>
<text x="1082.11" y="131.53" font-size="16.95" font-weight="bold" fill="#000" textLength="31.15" lengthAdjust="spacingAndGlyphs" >540</text>
<text x="1081.42" y="66.33" font-size="17.20" font-weight="bold" fill="#000" textLength="31.61" lengthAdjust="spacingAndGlyphs" >545</text>
<text x="1153.40" y="342.03" font-size="17.37" font-weight="bold" fill="#000" textLength="31.11" lengthAdjust="spacingAndGlyphs" >200</text>
<text x="1252.80" y="342.03" font-size="17.37" font-weight="bold" fill="#000" textLength="31.11" lengthAdjust="spacingAndGlyphs" >250</text>
<text x="1352.34" y="342.01" font-size="17.34" font-weight="bold" fill="#000" textLength="31.05" lengthAdjust="spacingAndGlyphs" >300</text>
<text x="1451.74" y="342.01" font-size="17.34" font-weight="bold" fill="#000" textLength="31.05" lengthAdjust="spacingAndGlyphs" >350</text>
<text x="1247.59" y="368.70" font-size="18.02" font-weight="bold" fill="#000" textLength="143.84" lengthAdjust="spacingAndGlyphs" >Temperature (K)</text>
<text x="1066.70" y="246.12" font-size="18.90" font-weight="bold" fill="#000" textLength="147.63" lengthAdjust="spacingAndGlyphs" transform="rotate(-90 1066.70 246.12)" >Wavelength (nm)</text>
<path d="M1129.9 57.9 L1169.7 89.2 L1209.5 111.4 L1269.1 154.4 L1368.5 228.7 L1428.1 228.7 L1487.8 267.8 L1507.7 265.2" fill="none" stroke="#F00000" stroke-width="2.2" stroke-linejoin="round"/>
<rect x="1126.7" y="54.6" width="6.5" height="6.5" fill="#F00000"/>
<rect x="1166.5" y="85.9" width="6.5" height="6.5" fill="#F00000"/>
<rect x="1206.2" y="108.1" width="6.5" height="6.5" fill="#F00000"/>
<rect x="1265.9" y="151.1" width="6.5" height="6.5" fill="#F00000"/>
<rect x="1365.2" y="225.5" width="6.5" height="6.5" fill="#F00000"/>
<rect x="1424.9" y="225.5" width="6.5" height="6.5" fill="#F00000"/>
<rect x="1484.5" y="264.6" width="6.5" height="6.5" fill="#F00000"/>
<rect x="1504.4" y="262" width="6.5" height="6.5" fill="#F00000"/>
<rect x="127.2" y="613.7" width="607.6" height="464.6" fill="none" stroke="#000" stroke-width="1.8" stroke-linejoin="round" />
<line x1="248.6" y1="1078.3" x2="248.6" y2="1067.8" stroke="#000" stroke-width="1.8" />
<line x1="248.6" y1="613.7" x2="248.6" y2="624.2" stroke="#000" stroke-width="1.8" />
<line x1="410.8" y1="1078.3" x2="410.8" y2="1067.8" stroke="#000" stroke-width="1.8" />
<line x1="410.8" y1="613.7" x2="410.8" y2="624.2" stroke="#000" stroke-width="1.8" />
<line x1="573" y1="1078.3" x2="573" y2="1067.8" stroke="#000" stroke-width="1.8" />
<line x1="573" y1="613.7" x2="573" y2="624.2" stroke="#000" stroke-width="1.8" />
<line x1="735.2" y1="1078.3" x2="735.2" y2="1067.8" stroke="#000" stroke-width="1.8" />
<line x1="735.2" y1="613.7" x2="735.2" y2="624.2" stroke="#000" stroke-width="1.8" />
<line x1="167.5" y1="1078.3" x2="167.5" y2="1070.8" stroke="#000" stroke-width="1.8" />
<line x1="167.5" y1="613.7" x2="167.5" y2="621.2" stroke="#000" stroke-width="1.8" />
<line x1="329.7" y1="1078.3" x2="329.7" y2="1070.8" stroke="#000" stroke-width="1.8" />
<line x1="329.7" y1="613.7" x2="329.7" y2="621.2" stroke="#000" stroke-width="1.8" />
<line x1="491.9" y1="1078.3" x2="491.9" y2="1070.8" stroke="#000" stroke-width="1.8" />
<line x1="491.9" y1="613.7" x2="491.9" y2="621.2" stroke="#000" stroke-width="1.8" />
<line x1="654.1" y1="1078.3" x2="654.1" y2="1070.8" stroke="#000" stroke-width="1.8" />
<line x1="654.1" y1="613.7" x2="654.1" y2="621.2" stroke="#000" stroke-width="1.8" />
<line x1="127.2" y1="1006.1" x2="133.8" y2="1006.1" stroke="#000" stroke-width="1.8" />
<line x1="734.8" y1="1006.1" x2="728.2" y2="1006.1" stroke="#000" stroke-width="1.8" />
<line x1="127.2" y1="970.5" x2="138.2" y2="970.5" stroke="#000" stroke-width="1.8" />
<line x1="734.8" y1="970.5" x2="723.8" y2="970.5" stroke="#000" stroke-width="1.8" />
<line x1="127.2" y1="934.8" x2="133.8" y2="934.8" stroke="#000" stroke-width="1.8" />
<line x1="734.8" y1="934.8" x2="728.2" y2="934.8" stroke="#000" stroke-width="1.8" />
<line x1="127.2" y1="899.1" x2="138.2" y2="899.1" stroke="#000" stroke-width="1.8" />
<line x1="734.8" y1="899.1" x2="723.8" y2="899.1" stroke="#000" stroke-width="1.8" />
<line x1="127.2" y1="863.4" x2="133.8" y2="863.4" stroke="#000" stroke-width="1.8" />
<line x1="734.8" y1="863.4" x2="728.2" y2="863.4" stroke="#000" stroke-width="1.8" />
<line x1="127.2" y1="827.8" x2="138.2" y2="827.8" stroke="#000" stroke-width="1.8" />
<line x1="734.8" y1="827.8" x2="723.8" y2="827.8" stroke="#000" stroke-width="1.8" />
<line x1="127.2" y1="792.1" x2="133.8" y2="792.1" stroke="#000" stroke-width="1.8" />
<line x1="734.8" y1="792.1" x2="728.2" y2="792.1" stroke="#000" stroke-width="1.8" />
<line x1="127.2" y1="756.4" x2="138.2" y2="756.4" stroke="#000" stroke-width="1.8" />
<line x1="734.8" y1="756.4" x2="723.8" y2="756.4" stroke="#000" stroke-width="1.8" />
<line x1="127.2" y1="720.7" x2="133.8" y2="720.7" stroke="#000" stroke-width="1.8" />
<line x1="734.8" y1="720.7" x2="728.2" y2="720.7" stroke="#000" stroke-width="1.8" />
<line x1="127.2" y1="685.1" x2="138.2" y2="685.1" stroke="#000" stroke-width="1.8" />
<line x1="734.8" y1="685.1" x2="723.8" y2="685.1" stroke="#000" stroke-width="1.8" />
<line x1="127.2" y1="649.4" x2="133.8" y2="649.4" stroke="#000" stroke-width="1.8" />
<line x1="734.8" y1="649.4" x2="728.2" y2="649.4" stroke="#000" stroke-width="1.8" />
<text x="70.80" y="1051.19" font-size="31.64" font-weight="bold" fill="#000" textLength="45.64" lengthAdjust="spacingAndGlyphs" >1.0</text>
<text x="69.71" y="979.84" font-size="32.10" font-weight="bold" fill="#000" textLength="46.31" lengthAdjust="spacingAndGlyphs" >1.5</text>
<text x="70.80" y="908.49" font-size="31.64" font-weight="bold" fill="#000" textLength="45.64" lengthAdjust="spacingAndGlyphs" >2.0</text>
<text x="70.37" y="837.14" font-size="31.64" font-weight="bold" fill="#000" textLength="45.64" lengthAdjust="spacingAndGlyphs" >2.5</text>
<text x="70.89" y="765.75" font-size="31.57" font-weight="bold" fill="#000" textLength="45.55" lengthAdjust="spacingAndGlyphs" >3.0</text>
<text x="70.46" y="694.40" font-size="31.57" font-weight="bold" fill="#000" textLength="45.55" lengthAdjust="spacingAndGlyphs" >3.5</text>
<text x="70.80" y="623.09" font-size="31.64" font-weight="bold" fill="#000" textLength="45.64" lengthAdjust="spacingAndGlyphs" >4.0</text>
<text x="207.30" y="1111.57" font-size="29.46" font-weight="bold" fill="#000" textLength="82.49" lengthAdjust="spacingAndGlyphs" >0.003</text>
<text x="368.90" y="1111.61" font-size="29.52" font-weight="bold" fill="#000" textLength="82.67" lengthAdjust="spacingAndGlyphs" >0.004</text>
<text x="531.47" y="1111.61" font-size="29.52" font-weight="bold" fill="#000" textLength="82.67" lengthAdjust="spacingAndGlyphs" >0.005</text>
<text x="693.81" y="1111.61" font-size="29.52" font-weight="bold" fill="#000" textLength="82.67" lengthAdjust="spacingAndGlyphs" >0.006</text>
<text x="152.13" y="960.47" font-size="56.67" font-weight="normal" fill="#000" textLength="65.24" lengthAdjust="spacingAndGlyphs" >(c)</text>
<text x="393.19" y="1168.90" font-size="31.10" font-weight="bold" fill="#000" textLength="46.05" lengthAdjust="spacingAndGlyphs" >1/T</text>
<text x="449.23" y="1168.99" font-size="23.72" font-weight="normal" fill="#000" textLength="7.91" lengthAdjust="spacingAndGlyphs" >(</text>
<text x="458.15" y="1169.10" font-size="31.69" font-weight="bold" fill="#000" textLength="23.25" lengthAdjust="spacingAndGlyphs" >K</text>
<text x="482.06" y="1157.33" font-size="27.70" font-weight="bold" fill="#000" textLength="11.41" lengthAdjust="spacingAndGlyphs" >-</text>
<text x="491.27" y="1157.70" font-size="32.56" font-weight="bold" fill="#000" textLength="18.11" lengthAdjust="spacingAndGlyphs" >1</text>
<text x="511.77" y="1168.99" font-size="23.72" font-weight="normal" fill="#000" textLength="7.66" lengthAdjust="spacingAndGlyphs" >)</text>
<text x="38.00" y="1031.68" font-size="33.58" font-weight="bold" fill="#000" textLength="335.15" lengthAdjust="spacingAndGlyphs" transform="rotate(-90 38.00 1031.68)" >Integrated PL Intensity</text>
<text x="38.60" y="692.91" font-size="23.29" font-weight="normal" fill="#000" textLength="10.80" lengthAdjust="spacingAndGlyphs" transform="rotate(-90 38.60 692.91)" >(</text>
<text x="38.30" y="681.30" font-size="29.66" font-weight="bold" fill="#000" textLength="33.54" lengthAdjust="spacingAndGlyphs" transform="rotate(-90 38.30 681.30)" >10</text>
<text x="26.70" y="646.99" font-size="33.58" font-weight="bold" fill="#000" textLength="16.10" lengthAdjust="spacingAndGlyphs" transform="rotate(-90 26.70 646.99)" >5</text>
<text x="38.40" y="630.33" font-size="24.90" font-weight="normal" fill="#000" textLength="7.16" lengthAdjust="spacingAndGlyphs" transform="rotate(-90 38.40 630.33)" >)</text>
<path d="M199.9 1052.4 L202.3 1049.6 L204.6 1046.8 L206.9 1043.9 L209.3 1041 L211.6 1038 L213.9 1035 L216.2 1032 L218.6 1028.9 L220.9 1025.8 L223.2 1022.6 L225.5 1019.5 L227.9 1016.2 L230.2 1013 L232.5 1009.7 L234.9 1006.4 L237.2 1003 L239.5 999.6 L241.8 996.2 L244.2 992.8 L246.5 989.3 L248.8 985.8 L251.2 982.3 L253.5 978.8 L255.8 975.2 L258.1 971.6 L260.5 968 L262.8 964.4 L265.1 960.7 L267.4 957 L269.8 953.3 L272.1 949.6 L274.4 945.9 L276.8 942.2 L279.1 938.4 L281.4 934.7 L283.7 930.9 L286.1 927.2 L288.4 923.4 L290.7 919.6 L293.1 915.9 L295.4 912.1 L297.7 908.3 L300 904.5 L302.4 900.8 L304.7 897 L307 893.2 L309.3 889.5 L311.7 885.7 L314 882 L316.3 878.3 L318.7 874.6 L321 870.9 L323.3 867.2 L325.6 863.5 L328 859.9 L330.3 856.3 L332.6 852.7 L335 849.1 L337.3 845.6 L339.6 842 L341.9 838.5 L344.3 835.1 L346.6 831.6 L348.9 828.2 L351.3 824.8 L353.6 821.4 L355.9 818.1 L358.2 814.8 L360.6 811.6 L362.9 808.3 L365.2 805.2 L367.5 802 L369.9 798.9 L372.2 795.8 L374.5 792.7 L376.9 789.7 L379.2 786.8 L381.5 783.8 L383.8 780.9 L386.2 778.1 L388.5 775.3 L390.8 772.5 L393.2 769.8 L395.5 767.1 L397.8 764.4 L400.1 761.8 L402.5 759.2 L404.8 756.7 L407.1 754.2 L409.4 751.8 L411.8 749.3 L414.1 747 L416.4 744.6 L418.8 742.4 L421.1 740.1 L423.4 737.9 L425.7 735.7 L428.1 733.6 L430.4 731.5 L432.7 729.4 L435.1 727.4 L437.4 725.5 L439.7 723.5 L442 721.6 L444.4 719.7 L446.7 717.9 L449 716.1 L451.3 714.4 L453.7 712.7 L456 711 L458.3 709.3 L460.7 707.7 L463 706.1 L465.3 704.6 L467.6 703.1 L470 701.6 L472.3 700.1 L474.6 698.7 L477 697.3 L479.3 696 L481.6 694.6 L483.9 693.3 L486.3 692.1 L488.6 690.8 L490.9 689.6 L493.2 688.4 L495.6 687.3 L497.9 686.1 L500.2 685 L502.6 684 L504.9 682.9 L507.2 681.9 L509.5 680.9 L511.9 679.9 L514.2 678.9 L516.5 678 L518.9 677.1 L521.2 676.2 L523.5 675.3 L525.8 674.5 L528.2 673.7 L530.5 672.8 L532.8 672.1 L535.2 671.3 L537.5 670.5 L539.8 669.8 L542.1 669.1 L544.5 668.4 L546.8 667.7 L549.1 667.1 L551.4 666.4 L553.8 665.8 L556.1 665.2 L558.4 664.6 L560.8 664 L563.1 663.4 L565.4 662.9 L567.7 662.3 L570.1 661.8 L572.4 661.3 L574.7 660.8 L577.1 660.3 L579.4 659.8 L581.7 659.4 L584 658.9 L586.4 658.5 L588.7 658.1 L591 657.7 L593.3 657.3 L595.7 656.9 L598 656.5 L600.3 656.1 L602.7 655.7 L605 655.4 L607.3 655 L609.6 654.7 L612 654.4 L614.3 654.1 L616.6 653.8 L619 653.4 L621.3 653.2 L623.6 652.9 L625.9 652.6 L628.3 652.3 L630.6 652.1 L632.9 651.8 L635.2 651.5 L637.6 651.3 L639.9 651.1 L642.2 650.8 L644.6 650.6 L646.9 650.4 L649.2 650.2 L651.5 650 L653.9 649.8 L656.2 649.6 L658.5 649.4 L660.9 649.2 L663.2 649" fill="none" stroke="#EE0000" stroke-width="3.2"/>
<ellipse cx="200" cy="1027.2" rx="6" ry="5.4" fill="#0A14F0"/>
<ellipse cx="212.5" cy="1020.8" rx="6" ry="5.4" fill="#0A14F0"/>
<ellipse cx="225.6" cy="1023.6" rx="6" ry="5.4" fill="#0A14F0"/>
<ellipse cx="238.9" cy="977.2" rx="6" ry="5.4" fill="#0A14F0"/>
<ellipse cx="252.8" cy="971.7" rx="6" ry="5.4" fill="#0A14F0"/>
<ellipse cx="268.6" cy="957.5" rx="6" ry="5.4" fill="#0A14F0"/>
<ellipse cx="284.7" cy="963.3" rx="6" ry="5.4" fill="#0A14F0"/>
<ellipse cx="302.2" cy="927.8" rx="6" ry="5.4" fill="#0A14F0"/>
<ellipse cx="321.4" cy="875.4" rx="6" ry="5.4" fill="#0A14F0"/>
<ellipse cx="341.1" cy="847.8" rx="6" ry="5.4" fill="#0A14F0"/>
<ellipse cx="362.6" cy="803.3" rx="6" ry="5.4" fill="#0A14F0"/>
<ellipse cx="385.2" cy="768.3" rx="6" ry="5.4" fill="#0A14F0"/>
<ellipse cx="410.3" cy="730.4" rx="6" ry="5.4" fill="#0A14F0"/>
<ellipse cx="437.4" cy="702.7" rx="6" ry="5.4" fill="#0A14F0"/>
<ellipse cx="466.9" cy="698" rx="6" ry="5.4" fill="#0A14F0"/>
<ellipse cx="498.5" cy="689.3" rx="6" ry="5.4" fill="#0A14F0"/>
<ellipse cx="533.5" cy="667.7" rx="6" ry="5.4" fill="#0A14F0"/>
<ellipse cx="572.2" cy="674.8" rx="6" ry="5.4" fill="#0A14F0"/>
<ellipse cx="662.6" cy="668.5" rx="6" ry="5.4" fill="#0A14F0"/>
<defs><clipPath id="cd"><rect x="887.8" y="617.6" width="641.6" height="470.1"/></clipPath></defs>
<g clip-path="url(#cd)">
<g fill="#0000FF"><rect x="887.8" y="1086.7" width="2.1" height="2.1"/><rect x="888.1" y="1078.1" width="2.1" height="2.1"/><rect x="888.4" y="1069.6" width="2.1" height="2.1"/><rect x="888.7" y="1061.1" width="2.1" height="2.1"/><rect x="889" y="1052.5" width="2.1" height="2.1"/><rect x="889.3" y="1044" width="2.1" height="2.1"/><rect x="889.6" y="1035.5" width="2.1" height="2.1"/><rect x="889.9" y="1026.9" width="2.1" height="2.1"/><rect x="890.2" y="1018.4" width="2.1" height="2.1"/><rect x="890.5" y="1009.9" width="2.1" height="2.1"/><rect x="890.9" y="1001.4" width="2.1" height="2.1"/><rect x="891.2" y="992.8" width="2.1" height="2.1"/><rect x="891.5" y="984.3" width="2.1" height="2.1"/><rect x="891.8" y="975.8" width="2.1" height="2.1"/><rect x="892.1" y="967.2" width="2.1" height="2.1"/><rect x="892.4" y="958.7" width="2.1" height="2.1"/><rect x="892.7" y="950.2" width="2.1" height="2.1"/><rect x="893" y="941.6" width="2.1" height="2.1"/><rect x="893.3" y="933.1" width="2.1" height="2.1"/><rect x="893.6" y="924.6" width="2.1" height="2.1"/><rect x="894" y="916.1" width="2.1" height="2.1"/><rect x="894.3" y="907.5" width="2.1" height="2.1"/><rect x="894.6" y="899" width="2.1" height="2.1"/><rect x="894.9" y="890.5" width="2.1" height="2.1"/><rect x="895.2" y="881.9" width="2.1" height="2.1"/><rect x="895.5" y="873.4" width="2.1" height="2.1"/><rect x="895.8" y="864.9" width="2.1" height="2.1"/><rect x="896.1" y="856.3" width="2.1" height="2.1"/><rect x="896.4" y="847.8" width="2.1" height="2.1"/><rect x="896.7" y="839.3" width="2.1" height="2.1"/><rect x="897" y="830.8" width="2.1" height="2.1"/><rect x="897.4" y="822.2" width="2.1" height="2.1"/><rect x="897.7" y="813.7" width="2.1" height="2.1"/><rect x="898" y="805.2" width="2.1" height="2.1"/><rect x="898.3" y="796.6" width="2.1" height="2.1"/><rect x="898.6" y="788.1" width="2.1" height="2.1"/><rect x="898.9" y="779.6" width="2.1" height="2.1"/><rect x="899.2" y="771" width="2.1" height="2.1"/><rect x="899.5" y="762.5" width="2.1" height="2.1"/><rect x="899.8" y="754" width="2.1" height="2.1"/><rect x="900.1" y="745.5" width="2.1" height="2.1"/><rect x="900.5" y="736.9" width="2.1" height="2.1"/><rect x="900.8" y="728.4" width="2.1" height="2.1"/><rect x="901.1" y="719.9" width="2.1" height="2.1"/><rect x="901.4" y="711.3" width="2.1" height="2.1"/><rect x="901.7" y="702.8" width="2.1" height="2.1"/><rect x="902" y="694.3" width="2.1" height="2.1"/><rect x="902.3" y="685.7" width="2.1" height="2.1"/><rect x="902.6" y="677.2" width="2.1" height="2.1"/><rect x="902.9" y="668.7" width="2.1" height="2.1"/><rect x="903.2" y="660.2" width="2.1" height="2.1"/></g>
<g fill="#FF8000"><rect x="889.8" y="1081.6" width="2.1" height="2.1"/><rect x="890.1" y="1073" width="2.1" height="2.1"/><rect x="890.4" y="1064.5" width="2.1" height="2.1"/><rect x="890.7" y="1055.9" width="2.1" height="2.1"/><rect x="891" y="1047.4" width="2.1" height="2.1"/><rect x="891.2" y="1038.8" width="2.1" height="2.1"/><rect x="891.5" y="1030.3" width="2.1" height="2.1"/><rect x="891.8" y="1021.7" width="2.1" height="2.1"/><rect x="892.1" y="1013.2" width="2.1" height="2.1"/><rect x="892.4" y="1004.6" width="2.1" height="2.1"/><rect x="892.6" y="996.1" width="2.1" height="2.1"/><rect x="892.9" y="987.5" width="2.1" height="2.1"/><rect x="893.2" y="979" width="2.1" height="2.1"/><rect x="893.5" y="970.4" width="2.1" height="2.1"/><rect x="893.8" y="961.9" width="2.1" height="2.1"/><rect x="894" y="953.3" width="2.1" height="2.1"/><rect x="894.3" y="944.8" width="2.1" height="2.1"/><rect x="894.6" y="936.2" width="2.1" height="2.1"/><rect x="894.9" y="927.7" width="2.1" height="2.1"/><rect x="895.2" y="919.1" width="2.1" height="2.1"/><rect x="895.4" y="910.6" width="2.1" height="2.1"/><rect x="895.7" y="902" width="2.1" height="2.1"/><rect x="896" y="893.5" width="2.1" height="2.1"/><rect x="896.3" y="884.9" width="2.1" height="2.1"/><rect x="896.6" y="876.3" width="2.1" height="2.1"/><rect x="896.8" y="867.8" width="2.1" height="2.1"/><rect x="897.1" y="859.2" width="2.1" height="2.1"/><rect x="897.4" y="850.7" width="2.1" height="2.1"/><rect x="897.7" y="842.1" width="2.1" height="2.1"/><rect x="898" y="833.6" width="2.1" height="2.1"/><rect x="898.2" y="825" width="2.1" height="2.1"/><rect x="898.5" y="816.5" width="2.1" height="2.1"/><rect x="898.8" y="807.9" width="2.1" height="2.1"/><rect x="899.1" y="799.4" width="2.1" height="2.1"/><rect x="899.4" y="790.8" width="2.1" height="2.1"/><rect x="899.6" y="782.3" width="2.1" height="2.1"/><rect x="899.9" y="773.7" width="2.1" height="2.1"/><rect x="900.2" y="765.2" width="2.1" height="2.1"/><rect x="900.5" y="756.6" width="2.1" height="2.1"/><rect x="900.8" y="748.1" width="2.1" height="2.1"/><rect x="901" y="739.5" width="2.1" height="2.1"/><rect x="901.3" y="731" width="2.1" height="2.1"/><rect x="901.6" y="722.4" width="2.1" height="2.1"/><rect x="901.9" y="713.9" width="2.1" height="2.1"/><rect x="902.2" y="705.3" width="2.1" height="2.1"/><rect x="902.5" y="696.8" width="2.1" height="2.1"/></g>
<g fill="#FF0000"><rect x="888.6" y="1086.7" width="2.1" height="2.1"/><rect x="889" y="1078.1" width="2.1" height="2.1"/><rect x="889.3" y="1069.5" width="2.1" height="2.1"/><rect x="889.7" y="1061" width="2.1" height="2.1"/><rect x="890" y="1052.4" width="2.1" height="2.1"/><rect x="890.3" y="1043.9" width="2.1" height="2.1"/><rect x="890.7" y="1035.3" width="2.1" height="2.1"/><rect x="891" y="1026.8" width="2.1" height="2.1"/><rect x="891.4" y="1018.2" width="2.1" height="2.1"/><rect x="891.7" y="1009.6" width="2.1" height="2.1"/><rect x="892" y="1001.1" width="2.1" height="2.1"/><rect x="892.4" y="992.5" width="2.1" height="2.1"/><rect x="892.7" y="984" width="2.1" height="2.1"/><rect x="893.1" y="975.4" width="2.1" height="2.1"/><rect x="893.4" y="966.9" width="2.1" height="2.1"/><rect x="893.7" y="958.3" width="2.1" height="2.1"/><rect x="894.1" y="949.8" width="2.1" height="2.1"/><rect x="894.4" y="941.2" width="2.1" height="2.1"/><rect x="894.8" y="932.6" width="2.1" height="2.1"/><rect x="895.1" y="924.1" width="2.1" height="2.1"/><rect x="895.4" y="915.5" width="2.1" height="2.1"/><rect x="895.8" y="907" width="2.1" height="2.1"/><rect x="896.1" y="898.4" width="2.1" height="2.1"/><rect x="896.5" y="889.9" width="2.1" height="2.1"/><rect x="896.8" y="881.3" width="2.1" height="2.1"/><rect x="897.1" y="872.8" width="2.1" height="2.1"/><rect x="897.5" y="864.2" width="2.1" height="2.1"/><rect x="897.8" y="855.6" width="2.1" height="2.1"/><rect x="898.2" y="847.1" width="2.1" height="2.1"/><rect x="898.5" y="838.5" width="2.1" height="2.1"/><rect x="898.8" y="830" width="2.1" height="2.1"/><rect x="899.2" y="821.4" width="2.1" height="2.1"/><rect x="899.5" y="812.9" width="2.1" height="2.1"/><rect x="899.9" y="804.3" width="2.1" height="2.1"/><rect x="900.2" y="795.8" width="2.1" height="2.1"/><rect x="900.5" y="787.2" width="2.1" height="2.1"/><rect x="900.9" y="778.6" width="2.1" height="2.1"/><rect x="901.2" y="770.1" width="2.1" height="2.1"/><rect x="901.6" y="761.5" width="2.1" height="2.1"/><rect x="901.9" y="753" width="2.1" height="2.1"/><rect x="902.2" y="744.4" width="2.1" height="2.1"/><rect x="902.6" y="735.9" width="2.1" height="2.1"/><rect x="902.9" y="727.3" width="2.1" height="2.1"/><rect x="903.2" y="718.8" width="2.1" height="2.1"/></g>
<g fill="#800000"><rect x="888.1" y="1081.5" width="2.1" height="2.1"/><rect x="888.5" y="1072.9" width="2.1" height="2.1"/><rect x="888.8" y="1064.3" width="2.1" height="2.1"/><rect x="889.2" y="1055.7" width="2.1" height="2.1"/><rect x="889.5" y="1047.1" width="2.1" height="2.1"/><rect x="889.9" y="1038.5" width="2.1" height="2.1"/><rect x="890.2" y="1029.8" width="2.1" height="2.1"/><rect x="890.6" y="1021.2" width="2.1" height="2.1"/><rect x="890.9" y="1012.6" width="2.1" height="2.1"/><rect x="891.3" y="1004" width="2.1" height="2.1"/><rect x="891.6" y="995.4" width="2.1" height="2.1"/><rect x="892" y="986.8" width="2.1" height="2.1"/><rect x="892.3" y="978.2" width="2.1" height="2.1"/><rect x="892.7" y="969.5" width="2.1" height="2.1"/><rect x="893" y="960.9" width="2.1" height="2.1"/><rect x="893.4" y="952.3" width="2.1" height="2.1"/><rect x="893.7" y="943.7" width="2.1" height="2.1"/><rect x="894.1" y="935.1" width="2.1" height="2.1"/><rect x="894.4" y="926.5" width="2.1" height="2.1"/><rect x="894.8" y="917.8" width="2.1" height="2.1"/><rect x="895.1" y="909.2" width="2.1" height="2.1"/><rect x="895.5" y="900.6" width="2.1" height="2.1"/><rect x="895.8" y="892" width="2.1" height="2.1"/><rect x="896.2" y="883.4" width="2.1" height="2.1"/><rect x="896.5" y="874.8" width="2.1" height="2.1"/><rect x="896.9" y="866.2" width="2.1" height="2.1"/><rect x="897.2" y="857.5" width="2.1" height="2.1"/><rect x="897.6" y="848.9" width="2.1" height="2.1"/><rect x="897.9" y="840.3" width="2.1" height="2.1"/><rect x="898.3" y="831.7" width="2.1" height="2.1"/><rect x="898.6" y="823.1" width="2.1" height="2.1"/><rect x="899" y="814.5" width="2.1" height="2.1"/><rect x="899.3" y="805.8" width="2.1" height="2.1"/><rect x="899.7" y="797.2" width="2.1" height="2.1"/><rect x="900" y="788.6" width="2.1" height="2.1"/><rect x="900.4" y="780" width="2.1" height="2.1"/><rect x="900.7" y="771.4" width="2.1" height="2.1"/><rect x="901.1" y="762.8" width="2.1" height="2.1"/><rect x="901.5" y="754.2" width="2.1" height="2.1"/></g>
<g fill="#008000"><rect x="889.5" y="1086.7" width="2.1" height="2.1"/><rect x="890" y="1078.1" width="2.1" height="2.1"/><rect x="890.4" y="1069.6" width="2.1" height="2.1"/><rect x="890.8" y="1061.1" width="2.1" height="2.1"/><rect x="891.2" y="1052.6" width="2.1" height="2.1"/><rect x="891.7" y="1044.1" width="2.1" height="2.1"/><rect x="892.1" y="1035.6" width="2.1" height="2.1"/><rect x="892.5" y="1027.1" width="2.1" height="2.1"/><rect x="892.9" y="1018.6" width="2.1" height="2.1"/><rect x="893.4" y="1010" width="2.1" height="2.1"/><rect x="893.8" y="1001.5" width="2.1" height="2.1"/><rect x="894.2" y="993" width="2.1" height="2.1"/><rect x="894.6" y="984.5" width="2.1" height="2.1"/><rect x="895.1" y="976" width="2.1" height="2.1"/><rect x="895.5" y="967.5" width="2.1" height="2.1"/><rect x="895.9" y="959" width="2.1" height="2.1"/><rect x="896.3" y="950.5" width="2.1" height="2.1"/><rect x="896.8" y="942" width="2.1" height="2.1"/><rect x="897.2" y="933.4" width="2.1" height="2.1"/><rect x="897.6" y="924.9" width="2.1" height="2.1"/><rect x="898" y="916.4" width="2.1" height="2.1"/><rect x="898.4" y="907.9" width="2.1" height="2.1"/><rect x="898.9" y="899.4" width="2.1" height="2.1"/><rect x="899.3" y="890.9" width="2.1" height="2.1"/><rect x="899.7" y="882.4" width="2.1" height="2.1"/><rect x="900.1" y="873.9" width="2.1" height="2.1"/><rect x="900.6" y="865.3" width="2.1" height="2.1"/><rect x="901" y="856.8" width="2.1" height="2.1"/><rect x="901.4" y="848.3" width="2.1" height="2.1"/><rect x="901.8" y="839.8" width="2.1" height="2.1"/><rect x="902.3" y="831.3" width="2.1" height="2.1"/><rect x="902.7" y="822.8" width="2.1" height="2.1"/><rect x="903.1" y="814.3" width="2.1" height="2.1"/><rect x="903.5" y="805.8" width="2.1" height="2.1"/><rect x="904" y="797.2" width="2.1" height="2.1"/></g>
<g fill="#FF0080"><rect x="889.1" y="1081.5" width="2.1" height="2.1"/><rect x="889.6" y="1072.9" width="2.1" height="2.1"/><rect x="890.1" y="1064.3" width="2.1" height="2.1"/><rect x="890.6" y="1055.6" width="2.1" height="2.1"/><rect x="891.1" y="1047" width="2.1" height="2.1"/><rect x="891.6" y="1038.4" width="2.1" height="2.1"/><rect x="892.1" y="1029.7" width="2.1" height="2.1"/><rect x="892.6" y="1021.1" width="2.1" height="2.1"/><rect x="893.1" y="1012.5" width="2.1" height="2.1"/><rect x="893.6" y="1003.8" width="2.1" height="2.1"/><rect x="894.1" y="995.2" width="2.1" height="2.1"/><rect x="894.6" y="986.6" width="2.1" height="2.1"/><rect x="895.1" y="977.9" width="2.1" height="2.1"/><rect x="895.5" y="969.3" width="2.1" height="2.1"/><rect x="896" y="960.7" width="2.1" height="2.1"/><rect x="896.5" y="952" width="2.1" height="2.1"/><rect x="897" y="943.4" width="2.1" height="2.1"/><rect x="897.5" y="934.8" width="2.1" height="2.1"/><rect x="898" y="926.1" width="2.1" height="2.1"/><rect x="898.5" y="917.5" width="2.1" height="2.1"/><rect x="899" y="908.9" width="2.1" height="2.1"/><rect x="899.5" y="900.2" width="2.1" height="2.1"/><rect x="900" y="891.6" width="2.1" height="2.1"/><rect x="900.5" y="883" width="2.1" height="2.1"/><rect x="901" y="874.3" width="2.1" height="2.1"/><rect x="901.5" y="865.7" width="2.1" height="2.1"/><rect x="902" y="857.1" width="2.1" height="2.1"/><rect x="902.5" y="848.5" width="2.1" height="2.1"/></g>
<g fill="#8000FF"><rect x="887.8" y="1086.7" width="2.1" height="2.1"/><rect x="888.4" y="1077.9" width="2.1" height="2.1"/><rect x="889" y="1069.2" width="2.1" height="2.1"/><rect x="889.6" y="1060.5" width="2.1" height="2.1"/><rect x="890.3" y="1051.8" width="2.1" height="2.1"/><rect x="890.9" y="1043.1" width="2.1" height="2.1"/><rect x="891.5" y="1034.4" width="2.1" height="2.1"/><rect x="892.1" y="1025.7" width="2.1" height="2.1"/><rect x="892.8" y="1017" width="2.1" height="2.1"/><rect x="893.4" y="1008.3" width="2.1" height="2.1"/><rect x="894" y="999.6" width="2.1" height="2.1"/><rect x="894.6" y="990.9" width="2.1" height="2.1"/><rect x="895.3" y="982.2" width="2.1" height="2.1"/><rect x="895.9" y="973.5" width="2.1" height="2.1"/><rect x="896.5" y="964.8" width="2.1" height="2.1"/><rect x="897.1" y="956.1" width="2.1" height="2.1"/><rect x="897.8" y="947.4" width="2.1" height="2.1"/><rect x="898.4" y="938.7" width="2.1" height="2.1"/><rect x="899" y="930" width="2.1" height="2.1"/><rect x="899.6" y="921.3" width="2.1" height="2.1"/><rect x="900.3" y="912.6" width="2.1" height="2.1"/><rect x="900.9" y="903.9" width="2.1" height="2.1"/><rect x="901.5" y="895.2" width="2.1" height="2.1"/><rect x="902.1" y="886.5" width="2.1" height="2.1"/></g>
<g fill="#0000FF"><rect x="906.6" y="661.6" width="1.8" height="1.8"/><rect x="908.6" y="661.2" width="1.8" height="1.8"/><rect x="910.6" y="664.9" width="1.8" height="1.8"/><rect x="912.6" y="667" width="1.8" height="1.8"/><rect x="914.6" y="669" width="1.8" height="1.8"/><rect x="916.6" y="667.5" width="1.8" height="1.8"/><rect x="918.6" y="671.6" width="1.8" height="1.8"/><rect x="920.6" y="672.4" width="1.8" height="1.8"/><rect x="922.6" y="674.6" width="1.8" height="1.8"/><rect x="924.6" y="675.6" width="1.8" height="1.8"/><rect x="926.6" y="677.8" width="1.8" height="1.8"/><rect x="928.6" y="680.7" width="1.8" height="1.8"/><rect x="930.6" y="683" width="1.8" height="1.8"/><rect x="932.6" y="683.4" width="1.8" height="1.8"/><rect x="934.6" y="682.7" width="1.8" height="1.8"/><rect x="936.6" y="686.8" width="1.8" height="1.8"/><rect x="938.6" y="685.4" width="1.8" height="1.8"/><rect x="940.6" y="687.7" width="1.8" height="1.8"/><rect x="942.6" y="690.6" width="1.8" height="1.8"/><rect x="944.6" y="690" width="1.8" height="1.8"/><rect x="946.6" y="692.7" width="1.8" height="1.8"/><rect x="948.6" y="692.9" width="1.8" height="1.8"/><rect x="950.6" y="693.1" width="1.8" height="1.8"/><rect x="952.6" y="695.8" width="1.8" height="1.8"/><rect x="954.6" y="696.1" width="1.8" height="1.8"/><rect x="956.6" y="699.8" width="1.8" height="1.8"/><rect x="958.6" y="701" width="1.8" height="1.8"/><rect x="960.6" y="701.9" width="1.8" height="1.8"/><rect x="962.6" y="700.1" width="1.8" height="1.8"/><rect x="964.6" y="704.4" width="1.8" height="1.8"/><rect x="966.6" y="703.7" width="1.8" height="1.8"/><rect x="968.6" y="704.9" width="1.8" height="1.8"/><rect x="970.6" y="705.6" width="1.8" height="1.8"/><rect x="972.6" y="705.8" width="1.8" height="1.8"/><rect x="974.6" y="707.5" width="1.8" height="1.8"/><rect x="976.6" y="709.3" width="1.8" height="1.8"/><rect x="978.6" y="711" width="1.8" height="1.8"/><rect x="980.6" y="710.9" width="1.8" height="1.8"/><rect x="982.6" y="711.3" width="1.8" height="1.8"/><rect x="984.6" y="711.8" width="1.8" height="1.8"/><rect x="986.6" y="713" width="1.8" height="1.8"/><rect x="988.6" y="716.1" width="1.8" height="1.8"/><rect x="990.6" y="716.1" width="1.8" height="1.8"/><rect x="992.6" y="716.7" width="1.8" height="1.8"/><rect x="994.6" y="715.6" width="1.8" height="1.8"/><rect x="996.6" y="716.5" width="1.8" height="1.8"/><rect x="998.6" y="720.2" width="1.8" height="1.8"/><rect x="1000.6" y="721.1" width="1.8" height="1.8"/><rect x="1002.6" y="722.6" width="1.8" height="1.8"/><rect x="1004.6" y="722.5" width="1.8" height="1.8"/><rect x="1006.6" y="722.5" width="1.8" height="1.8"/><rect x="1008.6" y="722.1" width="1.8" height="1.8"/><rect x="1010.6" y="723.8" width="1.8" height="1.8"/><rect x="1012.6" y="723" width="1.8" height="1.8"/><rect x="1014.6" y="726.8" width="1.8" height="1.8"/><rect x="1016.6" y="728.6" width="1.8" height="1.8"/><rect x="1018.6" y="725.8" width="1.8" height="1.8"/><rect x="1020.6" y="726.9" width="1.8" height="1.8"/><rect x="1022.6" y="729.9" width="1.8" height="1.8"/><rect x="1024.6" y="730.2" width="1.8" height="1.8"/><rect x="1026.6" y="728.3" width="1.8" height="1.8"/><rect x="1028.6" y="730.4" width="1.8" height="1.8"/><rect x="1030.6" y="731.9" width="1.8" height="1.8"/><rect x="1032.6" y="732" width="1.8" height="1.8"/><rect x="1034.6" y="733.5" width="1.8" height="1.8"/><rect x="1036.6" y="733.7" width="1.8" height="1.8"/><rect x="1038.6" y="733.7" width="1.8" height="1.8"/><rect x="1040.6" y="735.4" width="1.8" height="1.8"/><rect x="1042.6" y="735.4" width="1.8" height="1.8"/><rect x="1044.6" y="737.4" width="1.8" height="1.8"/><rect x="1046.6" y="735.1" width="1.8" height="1.8"/><rect x="1048.6" y="737.1" width="1.8" height="1.8"/><rect x="1050.6" y="737.2" width="1.8" height="1.8"/><rect x="1052.6" y="738.2" width="1.8" height="1.8"/><rect x="1054.6" y="739.5" width="1.8" height="1.8"/><rect x="1056.6" y="740.4" width="1.8" height="1.8"/><rect x="1058.6" y="736.9" width="1.8" height="1.8"/><rect x="1060.6" y="741.5" width="1.8" height="1.8"/><rect x="1062.6" y="742" width="1.8" height="1.8"/><rect x="1064.6" y="742.1" width="1.8" height="1.8"/><rect x="1066.6" y="743.7" width="1.8" height="1.8"/><rect x="1068.6" y="743.7" width="1.8" height="1.8"/><rect x="1070.6" y="741.8" width="1.8" height="1.8"/><rect x="1072.6" y="743.6" width="1.8" height="1.8"/><rect x="1074.6" y="744.7" width="1.8" height="1.8"/><rect x="1076.6" y="745.1" width="1.8" height="1.8"/><rect x="1078.6" y="745.6" width="1.8" height="1.8"/><rect x="1080.6" y="747.3" width="1.8" height="1.8"/><rect x="1082.6" y="746" width="1.8" height="1.8"/><rect x="1084.6" y="746.9" width="1.8" height="1.8"/><rect x="1086.6" y="747.2" width="1.8" height="1.8"/><rect x="1088.6" y="748.8" width="1.8" height="1.8"/><rect x="1090.6" y="749.9" width="1.8" height="1.8"/><rect x="1092.6" y="748.9" width="1.8" height="1.8"/><rect x="1094.6" y="750.9" width="1.8" height="1.8"/><rect x="1096.6" y="750.4" width="1.8" height="1.8"/><rect x="1098.6" y="753.1" width="1.8" height="1.8"/><rect x="1100.6" y="748.5" width="1.8" height="1.8"/><rect x="1102.6" y="753.8" width="1.8" height="1.8"/><rect x="1104.6" y="752.7" width="1.8" height="1.8"/><rect x="1106.6" y="752.3" width="1.8" height="1.8"/><rect x="1108.6" y="753.1" width="1.8" height="1.8"/><rect x="1110.6" y="755.2" width="1.8" height="1.8"/><rect x="1112.6" y="754.4" width="1.8" height="1.8"/><rect x="1114.6" y="756.7" width="1.8" height="1.8"/><rect x="1116.6" y="756.1" width="1.8" height="1.8"/><rect x="1118.6" y="755.9" width="1.8" height="1.8"/><rect x="1120.6" y="756.4" width="1.8" height="1.8"/><rect x="1122.6" y="757.9" width="1.8" height="1.8"/><rect x="1124.6" y="759" width="1.8" height="1.8"/><rect x="1126.6" y="757.4" width="1.8" height="1.8"/><rect x="1128.6" y="757.4" width="1.8" height="1.8"/><rect x="1130.6" y="757.9" width="1.8" height="1.8"/><rect x="1132.6" y="760.1" width="1.8" height="1.8"/><rect x="1134.6" y="762.1" width="1.8" height="1.8"/><rect x="1136.6" y="759.9" width="1.8" height="1.8"/><rect x="1138.6" y="761.6" width="1.8" height="1.8"/><rect x="1140.6" y="760.9" width="1.8" height="1.8"/><rect x="1142.6" y="762.8" width="1.8" height="1.8"/><rect x="1144.6" y="760.5" width="1.8" height="1.8"/><rect x="1146.6" y="763.2" width="1.8" height="1.8"/><rect x="1148.6" y="761.5" width="1.8" height="1.8"/><rect x="1150.6" y="762.5" width="1.8" height="1.8"/><rect x="1152.6" y="764.2" width="1.8" height="1.8"/><rect x="1154.6" y="764" width="1.8" height="1.8"/><rect x="1156.6" y="764.6" width="1.8" height="1.8"/><rect x="1158.6" y="765.7" width="1.8" height="1.8"/><rect x="1160.6" y="765.8" width="1.8" height="1.8"/><rect x="1162.6" y="767.7" width="1.8" height="1.8"/><rect x="1164.6" y="767.3" width="1.8" height="1.8"/><rect x="1166.6" y="766" width="1.8" height="1.8"/><rect x="1168.6" y="767.3" width="1.8" height="1.8"/><rect x="1170.6" y="767.2" width="1.8" height="1.8"/><rect x="1172.6" y="767.8" width="1.8" height="1.8"/><rect x="1174.6" y="770.7" width="1.8" height="1.8"/><rect x="1176.6" y="768.3" width="1.8" height="1.8"/><rect x="1178.6" y="771.1" width="1.8" height="1.8"/><rect x="1180.6" y="771.8" width="1.8" height="1.8"/><rect x="1182.6" y="774.9" width="1.8" height="1.8"/><rect x="1184.6" y="771.4" width="1.8" height="1.8"/><rect x="1186.6" y="771.9" width="1.8" height="1.8"/><rect x="1188.6" y="771.6" width="1.8" height="1.8"/><rect x="1190.6" y="774.5" width="1.8" height="1.8"/><rect x="1192.6" y="775.2" width="1.8" height="1.8"/><rect x="1194.6" y="769.8" width="1.8" height="1.8"/><rect x="1196.6" y="775.3" width="1.8" height="1.8"/><rect x="1198.6" y="773.2" width="1.8" height="1.8"/><rect x="1200.6" y="774.1" width="1.8" height="1.8"/><rect x="1202.6" y="775.4" width="1.8" height="1.8"/><rect x="1204.6" y="775.8" width="1.8" height="1.8"/><rect x="1206.6" y="776.1" width="1.8" height="1.8"/><rect x="1208.6" y="776.6" width="1.8" height="1.8"/><rect x="1210.6" y="779.3" width="1.8" height="1.8"/><rect x="1212.6" y="774.1" width="1.8" height="1.8"/><rect x="1214.6" y="777" width="1.8" height="1.8"/><rect x="1216.6" y="779" width="1.8" height="1.8"/><rect x="1218.6" y="778.7" width="1.8" height="1.8"/><rect x="1220.6" y="780.2" width="1.8" height="1.8"/><rect x="1222.6" y="780.2" width="1.8" height="1.8"/><rect x="1224.6" y="784.3" width="1.8" height="1.8"/><rect x="1226.6" y="780.6" width="1.8" height="1.8"/><rect x="1228.6" y="782.6" width="1.8" height="1.8"/><rect x="1230.6" y="781.7" width="1.8" height="1.8"/><rect x="1232.6" y="782.8" width="1.8" height="1.8"/><rect x="1234.6" y="781.4" width="1.8" height="1.8"/><rect x="1236.6" y="784.4" width="1.8" height="1.8"/><rect x="1238.6" y="783.9" width="1.8" height="1.8"/><rect x="1240.6" y="785.2" width="1.8" height="1.8"/><rect x="1242.6" y="784" width="1.8" height="1.8"/><rect x="1244.6" y="784.9" width="1.8" height="1.8"/><rect x="1246.6" y="785" width="1.8" height="1.8"/><rect x="1248.6" y="788.3" width="1.8" height="1.8"/><rect x="1250.6" y="784.9" width="1.8" height="1.8"/><rect x="1252.6" y="787.9" width="1.8" height="1.8"/><rect x="1254.6" y="788.2" width="1.8" height="1.8"/><rect x="1256.6" y="789.8" width="1.8" height="1.8"/><rect x="1258.6" y="789.1" width="1.8" height="1.8"/><rect x="1260.6" y="788.1" width="1.8" height="1.8"/><rect x="1262.6" y="790.3" width="1.8" height="1.8"/><rect x="1264.6" y="788.3" width="1.8" height="1.8"/><rect x="1266.6" y="791.9" width="1.8" height="1.8"/><rect x="1268.6" y="791" width="1.8" height="1.8"/><rect x="1270.6" y="790.8" width="1.8" height="1.8"/><rect x="1272.6" y="791.5" width="1.8" height="1.8"/><rect x="1274.6" y="793.2" width="1.8" height="1.8"/><rect x="1276.6" y="791.1" width="1.8" height="1.8"/><rect x="1278.6" y="795.4" width="1.8" height="1.8"/><rect x="1280.6" y="793.1" width="1.8" height="1.8"/><rect x="1282.6" y="796.1" width="1.8" height="1.8"/><rect x="1284.6" y="795" width="1.8" height="1.8"/><rect x="1286.6" y="797.5" width="1.8" height="1.8"/><rect x="1288.6" y="794.3" width="1.8" height="1.8"/><rect x="1290.6" y="797.2" width="1.8" height="1.8"/><rect x="1292.6" y="796.6" width="1.8" height="1.8"/><rect x="1294.6" y="796.3" width="1.8" height="1.8"/><rect x="1296.6" y="798.5" width="1.8" height="1.8"/><rect x="1298.6" y="797.7" width="1.8" height="1.8"/><rect x="1300.6" y="797.6" width="1.8" height="1.8"/><rect x="1302.6" y="798.6" width="1.8" height="1.8"/><rect x="1304.6" y="798.4" width="1.8" height="1.8"/><rect x="1306.6" y="799.5" width="1.8" height="1.8"/><rect x="1308.6" y="800.1" width="1.8" height="1.8"/><rect x="1310.6" y="801.8" width="1.8" height="1.8"/><rect x="1312.6" y="800.9" width="1.8" height="1.8"/><rect x="1314.6" y="800.6" width="1.8" height="1.8"/><rect x="1316.6" y="802.8" width="1.8" height="1.8"/><rect x="1318.6" y="801.9" width="1.8" height="1.8"/><rect x="1320.6" y="801.7" width="1.8" height="1.8"/><rect x="1322.6" y="801.9" width="1.8" height="1.8"/><rect x="1324.6" y="805.7" width="1.8" height="1.8"/><rect x="1326.6" y="804" width="1.8" height="1.8"/><rect x="1328.6" y="806.4" width="1.8" height="1.8"/><rect x="1330.6" y="803.9" width="1.8" height="1.8"/><rect x="1332.6" y="804.2" width="1.8" height="1.8"/><rect x="1334.6" y="807.8" width="1.8" height="1.8"/><rect x="1336.6" y="806" width="1.8" height="1.8"/><rect x="1338.6" y="806.5" width="1.8" height="1.8"/><rect x="1340.6" y="806.9" width="1.8" height="1.8"/><rect x="1342.6" y="806.5" width="1.8" height="1.8"/><rect x="1344.6" y="809.3" width="1.8" height="1.8"/><rect x="1346.6" y="807.2" width="1.8" height="1.8"/><rect x="1348.6" y="809.9" width="1.8" height="1.8"/><rect x="1350.6" y="808.2" width="1.8" height="1.8"/><rect x="1352.6" y="814" width="1.8" height="1.8"/><rect x="1354.6" y="811.6" width="1.8" height="1.8"/><rect x="1356.6" y="808.9" width="1.8" height="1.8"/><rect x="1358.6" y="811.7" width="1.8" height="1.8"/><rect x="1360.6" y="811" width="1.8" height="1.8"/><rect x="1362.6" y="811.2" width="1.8" height="1.8"/><rect x="1364.6" y="811.7" width="1.8" height="1.8"/><rect x="1366.6" y="814" width="1.8" height="1.8"/><rect x="1368.6" y="813.6" width="1.8" height="1.8"/><rect x="1370.6" y="813.5" width="1.8" height="1.8"/><rect x="1372.6" y="813.8" width="1.8" height="1.8"/><rect x="1374.6" y="814.2" width="1.8" height="1.8"/><rect x="1376.6" y="814.8" width="1.8" height="1.8"/><rect x="1378.6" y="815.6" width="1.8" height="1.8"/><rect x="1380.6" y="815.1" width="1.8" height="1.8"/><rect x="1382.6" y="815.9" width="1.8" height="1.8"/><rect x="1384.6" y="813.8" width="1.8" height="1.8"/><rect x="1386.6" y="818.6" width="1.8" height="1.8"/><rect x="1388.6" y="817.8" width="1.8" height="1.8"/><rect x="1390.6" y="820.5" width="1.8" height="1.8"/><rect x="1392.6" y="818.5" width="1.8" height="1.8"/><rect x="1394.6" y="819.9" width="1.8" height="1.8"/><rect x="1396.6" y="821.7" width="1.8" height="1.8"/><rect x="1398.6" y="821.2" width="1.8" height="1.8"/><rect x="1400.6" y="820.5" width="1.8" height="1.8"/><rect x="1402.6" y="822.4" width="1.8" height="1.8"/><rect x="1404.6" y="822" width="1.8" height="1.8"/><rect x="1406.6" y="824.2" width="1.8" height="1.8"/><rect x="1408.6" y="824.3" width="1.8" height="1.8"/><rect x="1410.6" y="823.7" width="1.8" height="1.8"/><rect x="1412.6" y="825.1" width="1.8" height="1.8"/><rect x="1414.6" y="827" width="1.8" height="1.8"/><rect x="1416.6" y="826.8" width="1.8" height="1.8"/><rect x="1418.6" y="827" width="1.8" height="1.8"/><rect x="1420.6" y="826.3" width="1.8" height="1.8"/><rect x="1422.6" y="826.3" width="1.8" height="1.8"/><rect x="1424.6" y="826.6" width="1.8" height="1.8"/><rect x="1426.6" y="829.1" width="1.8" height="1.8"/><rect x="1428.6" y="827.2" width="1.8" height="1.8"/><rect x="1430.6" y="829.4" width="1.8" height="1.8"/><rect x="1432.6" y="831.2" width="1.8" height="1.8"/><rect x="1434.6" y="828" width="1.8" height="1.8"/><rect x="1436.6" y="830.7" width="1.8" height="1.8"/><rect x="1438.6" y="829.7" width="1.8" height="1.8"/><rect x="1440.6" y="831.1" width="1.8" height="1.8"/><rect x="1442.6" y="832.3" width="1.8" height="1.8"/><rect x="1444.6" y="831.1" width="1.8" height="1.8"/><rect x="1446.6" y="831.2" width="1.8" height="1.8"/><rect x="1448.6" y="832.7" width="1.8" height="1.8"/><rect x="1450.6" y="833.8" width="1.8" height="1.8"/><rect x="1452.6" y="833.6" width="1.8" height="1.8"/><rect x="1454.6" y="833.4" width="1.8" height="1.8"/><rect x="1456.6" y="835.8" width="1.8" height="1.8"/><rect x="1458.6" y="834.2" width="1.8" height="1.8"/><rect x="1460.6" y="834.3" width="1.8" height="1.8"/><rect x="1462.6" y="836.5" width="1.8" height="1.8"/><rect x="1464.6" y="839.3" width="1.8" height="1.8"/><rect x="1466.6" y="836.7" width="1.8" height="1.8"/><rect x="1468.6" y="837.7" width="1.8" height="1.8"/><rect x="1470.6" y="837" width="1.8" height="1.8"/><rect x="1472.6" y="838" width="1.8" height="1.8"/><rect x="1474.6" y="837.8" width="1.8" height="1.8"/><rect x="1476.6" y="839.9" width="1.8" height="1.8"/><rect x="1478.6" y="839.3" width="1.8" height="1.8"/><rect x="1480.6" y="839.6" width="1.8" height="1.8"/><rect x="1482.6" y="842" width="1.8" height="1.8"/><rect x="1484.6" y="839.7" width="1.8" height="1.8"/><rect x="1486.6" y="842.9" width="1.8" height="1.8"/><rect x="1488.6" y="842.1" width="1.8" height="1.8"/><rect x="1490.6" y="841.7" width="1.8" height="1.8"/><rect x="1492.6" y="843.1" width="1.8" height="1.8"/><rect x="1494.6" y="843.3" width="1.8" height="1.8"/><rect x="1496.6" y="844.4" width="1.8" height="1.8"/><rect x="1498.6" y="844.2" width="1.8" height="1.8"/><rect x="1500.6" y="847.1" width="1.8" height="1.8"/><rect x="1502.6" y="846.6" width="1.8" height="1.8"/><rect x="1504.6" y="847.1" width="1.8" height="1.8"/><rect x="1506.6" y="844.9" width="1.8" height="1.8"/><rect x="1508.6" y="846.3" width="1.8" height="1.8"/><rect x="1510.6" y="848.5" width="1.8" height="1.8"/><rect x="1512.6" y="848.2" width="1.8" height="1.8"/><rect x="1514.6" y="848" width="1.8" height="1.8"/><rect x="1516.6" y="848.3" width="1.8" height="1.8"/><rect x="1518.6" y="850" width="1.8" height="1.8"/><rect x="1520.6" y="847.1" width="1.8" height="1.8"/><rect x="1522.6" y="848.7" width="1.8" height="1.8"/><rect x="1524.6" y="848.5" width="1.8" height="1.8"/><rect x="1526.6" y="851.8" width="1.8" height="1.8"/><rect x="1528.6" y="849.4" width="1.8" height="1.8"/></g>
<path d="M907.5 661.2 L908.5 662.2 L909.5 663.2 L910.5 664.1 L911.5 665.1 L912.5 666 L913.5 667 L914.5 667.9 L915.5 668.8 L916.5 669.7 L917.5 670.6 L918.5 671.5 L919.5 672.4 L920.5 673.3 L921.5 674.2 L922.5 675 L923.5 675.8 L924.5 676.7 L925.5 677.5 L926.5 678.3 L927.5 679.1 L928.5 679.9 L929.5 680.6 L930.5 681.4 L931.5 682.1 L932.5 682.8 L933.5 683.6 L934.5 684.3 L935.5 685 L936.5 685.7 L937.5 686.4 L938.5 687.1 L939.5 687.7 L940.5 688.4 L941.5 689.1 L942.5 689.7 L943.5 690.4 L944.5 691 L945.5 691.6 L946.5 692.3 L947.5 692.9 L948.5 693.5 L949.5 694.1 L950.5 694.7 L951.5 695.3 L952.5 695.9 L953.5 696.5 L954.5 697.1 L955.5 697.7 L956.5 698.3 L957.5 698.8 L958.5 699.4 L959.5 700 L960.5 700.5 L961.5 701.1 L962.5 701.6 L963.5 702.2 L964.5 702.7 L965.5 703.2 L966.5 703.8 L967.5 704.3 L968.5 704.8 L969.5 705.3 L970.5 705.8 L971.5 706.3 L972.5 706.8 L973.5 707.3 L974.5 707.8 L975.5 708.3 L976.5 708.8 L977.5 709.3 L978.5 709.8 L979.5 710.3 L980.5 710.8 L981.5 711.3 L982.5 711.8 L983.5 712.3 L984.5 712.8 L985.5 713.3 L986.5 713.8 L987.5 714.3 L988.5 714.8 L989.5 715.3 L990.5 715.8 L991.5 716.3 L992.5 716.8 L993.5 717.4 L994.5 717.9 L995.5 718.4 L996.5 718.9 L997.5 719.4 L998.5 719.9 L999.5 720.4 L1000.5 720.9 L1001.5 721.4 L1002.5 721.9 L1003.5 722.3 L1004.5 722.8 L1005.5 723.2 L1006.5 723.7 L1007.5 724.1 L1008.5 724.5 L1009.5 724.9 L1010.5 725.3 L1011.5 725.7 L1012.5 726.1 L1013.5 726.5 L1014.5 726.9 L1015.5 727.3 L1016.5 727.6 L1017.5 728 L1018.5 728.4 L1019.5 728.7 L1020.5 729.1 L1021.5 729.4 L1022.5 729.8 L1023.5 730.1 L1024.5 730.5 L1025.5 730.8 L1026.5 731.1 L1027.5 731.5 L1028.5 731.8 L1029.5 732.1 L1030.5 732.4 L1031.5 732.8 L1032.5 733.1 L1033.5 733.4 L1034.5 733.7 L1035.5 734 L1036.5 734.3 L1037.5 734.7 L1038.5 735 L1039.5 735.3 L1040.5 735.6 L1041.5 735.9 L1042.5 736.2 L1043.5 736.5 L1044.5 736.8 L1045.5 737.1 L1046.5 737.4 L1047.5 737.7 L1048.5 738 L1049.5 738.3 L1050.5 738.6 L1051.5 738.9 L1052.5 739.2 L1053.5 739.5 L1054.5 739.8 L1055.5 740 L1056.5 740.3 L1057.5 740.6 L1058.5 740.9 L1059.5 741.2 L1060.5 741.5 L1061.5 741.8 L1062.5 742.1 L1063.5 742.4 L1064.5 742.7 L1065.5 743 L1066.5 743.3 L1067.5 743.6 L1068.5 743.9 L1069.5 744.2 L1070.5 744.5 L1071.5 744.8 L1072.5 745.1 L1073.5 745.3 L1074.5 745.6 L1075.5 745.9 L1076.5 746.2 L1077.5 746.5 L1078.5 746.8 L1079.5 747 L1080.5 747.3 L1081.5 747.6 L1082.5 747.9 L1083.5 748.2 L1084.5 748.4 L1085.5 748.7 L1086.5 749 L1087.5 749.3 L1088.5 749.6 L1089.5 749.8 L1090.5 750.1 L1091.5 750.4 L1092.5 750.6 L1093.5 750.9 L1094.5 751.2 L1095.5 751.4 L1096.5 751.7 L1097.5 752 L1098.5 752.2 L1099.5 752.5 L1100.5 752.7 L1101.5 753 L1102.5 753.3 L1103.5 753.5 L1104.5 753.8 L1105.5 754 L1106.5 754.3 L1107.5 754.5 L1108.5 754.8 L1109.5 755 L1110.5 755.3 L1111.5 755.5 L1112.5 755.8 L1113.5 756 L1114.5 756.3 L1115.5 756.5 L1116.5 756.7 L1117.5 757 L1118.5 757.2 L1119.5 757.4 L1120.5 757.7 L1121.5 757.9 L1122.5 758.1 L1123.5 758.3 L1124.5 758.6 L1125.5 758.8 L1126.5 759 L1127.5 759.2 L1128.5 759.4 L1129.5 759.7 L1130.5 759.9 L1131.5 760.1 L1132.5 760.3 L1133.5 760.5 L1134.5 760.8 L1135.5 761 L1136.5 761.2 L1137.5 761.4 L1138.5 761.6 L1139.5 761.8 L1140.5 762 L1141.5 762.2 L1142.5 762.5 L1143.5 762.7 L1144.5 762.9 L1145.5 763.1 L1146.5 763.3 L1147.5 763.5 L1148.5 763.7 L1149.5 763.9 L1150.5 764.1 L1151.5 764.4 L1152.5 764.6 L1153.5 764.8 L1154.5 765 L1155.5 765.2 L1156.5 765.4 L1157.5 765.6 L1158.5 765.9 L1159.5 766.1 L1160.5 766.3 L1161.5 766.5 L1162.5 766.7 L1163.5 766.9 L1164.5 767.2 L1165.5 767.4 L1166.5 767.6 L1167.5 767.8 L1168.5 768.1 L1169.5 768.3 L1170.5 768.5 L1171.5 768.7 L1172.5 769 L1173.5 769.2 L1174.5 769.4 L1175.5 769.7 L1176.5 769.9 L1177.5 770.1 L1178.5 770.4 L1179.5 770.6 L1180.5 770.8 L1181.5 771.1 L1182.5 771.3 L1183.5 771.5 L1184.5 771.8 L1185.5 772 L1186.5 772.2 L1187.5 772.5 L1188.5 772.7 L1189.5 772.9 L1190.5 773.2 L1191.5 773.4 L1192.5 773.6 L1193.5 773.9 L1194.5 774.1 L1195.5 774.4 L1196.5 774.6 L1197.5 774.8 L1198.5 775.1 L1199.5 775.3 L1200.5 775.6 L1201.5 775.8 L1202.5 776 L1203.5 776.3 L1204.5 776.5 L1205.5 776.8 L1206.5 777 L1207.5 777.2 L1208.5 777.5 L1209.5 777.7 L1210.5 778 L1211.5 778.2 L1212.5 778.4 L1213.5 778.7 L1214.5 778.9 L1215.5 779.2 L1216.5 779.4 L1217.5 779.7 L1218.5 779.9 L1219.5 780.1 L1220.5 780.4 L1221.5 780.6 L1222.5 780.9 L1223.5 781.1 L1224.5 781.3 L1225.5 781.6 L1226.5 781.8 L1227.5 782.1 L1228.5 782.3 L1229.5 782.6 L1230.5 782.8 L1231.5 783 L1232.5 783.3 L1233.5 783.5 L1234.5 783.8 L1235.5 784 L1236.5 784.3 L1237.5 784.5 L1238.5 784.7 L1239.5 785 L1240.5 785.2 L1241.5 785.5 L1242.5 785.7 L1243.5 785.9 L1244.5 786.2 L1245.5 786.4 L1246.5 786.7 L1247.5 786.9 L1248.5 787.1 L1249.5 787.4 L1250.5 787.6 L1251.5 787.9 L1252.5 788.1 L1253.5 788.3 L1254.5 788.6 L1255.5 788.8 L1256.5 789.1 L1257.5 789.3 L1258.5 789.5 L1259.5 789.8 L1260.5 790 L1261.5 790.2 L1262.5 790.5 L1263.5 790.7 L1264.5 790.9 L1265.5 791.2 L1266.5 791.4 L1267.5 791.6 L1268.5 791.9 L1269.5 792.1 L1270.5 792.3 L1271.5 792.6 L1272.5 792.8 L1273.5 793 L1274.5 793.3 L1275.5 793.5 L1276.5 793.7 L1277.5 794 L1278.5 794.2 L1279.5 794.4 L1280.5 794.6 L1281.5 794.9 L1282.5 795.1 L1283.5 795.3 L1284.5 795.6 L1285.5 795.8 L1286.5 796 L1287.5 796.2 L1288.5 796.5 L1289.5 796.7 L1290.5 796.9 L1291.5 797.1 L1292.5 797.3 L1293.5 797.6 L1294.5 797.8 L1295.5 798 L1296.5 798.2 L1297.5 798.5 L1298.5 798.7 L1299.5 798.9 L1300.5 799.1 L1301.5 799.4 L1302.5 799.6 L1303.5 799.8 L1304.5 800 L1305.5 800.2 L1306.5 800.5 L1307.5 800.7 L1308.5 800.9 L1309.5 801.1 L1310.5 801.3 L1311.5 801.6 L1312.5 801.8 L1313.5 802 L1314.5 802.2 L1315.5 802.4 L1316.5 802.7 L1317.5 802.9 L1318.5 803.1 L1319.5 803.3 L1320.5 803.5 L1321.5 803.8 L1322.5 804 L1323.5 804.2 L1324.5 804.4 L1325.5 804.6 L1326.5 804.9 L1327.5 805.1 L1328.5 805.3 L1329.5 805.5 L1330.5 805.7 L1331.5 806 L1332.5 806.2 L1333.5 806.4 L1334.5 806.6 L1335.5 806.8 L1336.5 807.1 L1337.5 807.3 L1338.5 807.5 L1339.5 807.7 L1340.5 808 L1341.5 808.2 L1342.5 808.4 L1343.5 808.6 L1344.5 808.8 L1345.5 809.1 L1346.5 809.3 L1347.5 809.5 L1348.5 809.7 L1349.5 810 L1350.5 810.2 L1351.5 810.4 L1352.5 810.6 L1353.5 810.9 L1354.5 811.1 L1355.5 811.3 L1356.5 811.5 L1357.5 811.8 L1358.5 812 L1359.5 812.2 L1360.5 812.5 L1361.5 812.7 L1362.5 812.9 L1363.5 813.1 L1364.5 813.4 L1365.5 813.6 L1366.5 813.8 L1367.5 814.1 L1368.5 814.3 L1369.5 814.5 L1370.5 814.8 L1371.5 815 L1372.5 815.2 L1373.5 815.5 L1374.5 815.7 L1375.5 816 L1376.5 816.2 L1377.5 816.4 L1378.5 816.7 L1379.5 816.9 L1380.5 817.2 L1381.5 817.4 L1382.5 817.6 L1383.5 817.9 L1384.5 818.1 L1385.5 818.4 L1386.5 818.6 L1387.5 818.9 L1388.5 819.1 L1389.5 819.4 L1390.5 819.6 L1391.5 819.9 L1392.5 820.1 L1393.5 820.4 L1394.5 820.6 L1395.5 820.9 L1396.5 821.1 L1397.5 821.4 L1398.5 821.6 L1399.5 821.9 L1400.5 822.2 L1401.5 822.4 L1402.5 822.7 L1403.5 822.9 L1404.5 823.2 L1405.5 823.4 L1406.5 823.7 L1407.5 823.9 L1408.5 824.2 L1409.5 824.4 L1410.5 824.7 L1411.5 824.9 L1412.5 825.2 L1413.5 825.4 L1414.5 825.7 L1415.5 826 L1416.5 826.2 L1417.5 826.5 L1418.5 826.7 L1419.5 826.9 L1420.5 827.2 L1421.5 827.4 L1422.5 827.7 L1423.5 827.9 L1424.5 828.2 L1425.5 828.4 L1426.5 828.7 L1427.5 828.9 L1428.5 829.1 L1429.5 829.4 L1430.5 829.6 L1431.5 829.9 L1432.5 830.1 L1433.5 830.3 L1434.5 830.6 L1435.5 830.8 L1436.5 831 L1437.5 831.3 L1438.5 831.5 L1439.5 831.7 L1440.5 832 L1441.5 832.2 L1442.5 832.5 L1443.5 832.7 L1444.5 832.9 L1445.5 833.2 L1446.5 833.4 L1447.5 833.6 L1448.5 833.9 L1449.5 834.1 L1450.5 834.3 L1451.5 834.6 L1452.5 834.8 L1453.5 835 L1454.5 835.3 L1455.5 835.5 L1456.5 835.7 L1457.5 836 L1458.5 836.2 L1459.5 836.4 L1460.5 836.6 L1461.5 836.9 L1462.5 837.1 L1463.5 837.3 L1464.5 837.6 L1465.5 837.8 L1466.5 838 L1467.5 838.3 L1468.5 838.5 L1469.5 838.7 L1470.5 838.9 L1471.5 839.2 L1472.5 839.4 L1473.5 839.6 L1474.5 839.9 L1475.5 840.1 L1476.5 840.3 L1477.5 840.5 L1478.5 840.8 L1479.5 841 L1480.5 841.2 L1481.5 841.4 L1482.5 841.7 L1483.5 841.9 L1484.5 842.1 L1485.5 842.3 L1486.5 842.6 L1487.5 842.8 L1488.5 843 L1489.5 843.2 L1490.5 843.5 L1491.5 843.7 L1492.5 843.9 L1493.5 844.1 L1494.5 844.3 L1495.5 844.6 L1496.5 844.8 L1497.5 845 L1498.5 845.2 L1499.5 845.4 L1500.5 845.7 L1501.5 845.9 L1502.5 846.1 L1503.5 846.3 L1504.5 846.5 L1505.5 846.8 L1506.5 847 L1507.5 847.2 L1508.5 847.4 L1509.5 847.6 L1510.5 847.8 L1511.5 848.1 L1512.5 848.3 L1513.5 848.5 L1514.5 848.7 L1515.5 848.9 L1516.5 849.1 L1517.5 849.4 L1518.5 849.6 L1519.5 849.8 L1520.5 850 L1521.5 850.2 L1522.5 850.4 L1523.5 850.6 L1524.5 850.8 L1525.5 851.1 L1526.5 851.3 L1527.5 851.5 L1528.5 851.7 L1529.5 851.9" fill="none" stroke="#0000FF" stroke-width="3.2" stroke-linecap="round"/>
<g fill="#FF8000"><rect x="905.8" y="693.1" width="1.8" height="1.8"/><rect x="907.8" y="696.3" width="1.8" height="1.8"/><rect x="909.8" y="695.8" width="1.8" height="1.8"/><rect x="911.8" y="697.8" width="1.8" height="1.8"/><rect x="913.8" y="698.9" width="1.8" height="1.8"/><rect x="915.8" y="700.9" width="1.8" height="1.8"/><rect x="917.8" y="704.9" width="1.8" height="1.8"/><rect x="919.8" y="702.6" width="1.8" height="1.8"/><rect x="921.8" y="705.8" width="1.8" height="1.8"/><rect x="923.8" y="708.8" width="1.8" height="1.8"/><rect x="925.8" y="707.8" width="1.8" height="1.8"/><rect x="927.8" y="708.1" width="1.8" height="1.8"/><rect x="929.8" y="709.2" width="1.8" height="1.8"/><rect x="931.8" y="707.9" width="1.8" height="1.8"/><rect x="933.8" y="708.7" width="1.8" height="1.8"/><rect x="935.8" y="711.8" width="1.8" height="1.8"/><rect x="937.8" y="712.5" width="1.8" height="1.8"/><rect x="939.8" y="713.5" width="1.8" height="1.8"/><rect x="941.8" y="713.3" width="1.8" height="1.8"/><rect x="943.8" y="717.2" width="1.8" height="1.8"/><rect x="945.8" y="716.3" width="1.8" height="1.8"/><rect x="947.8" y="721.7" width="1.8" height="1.8"/><rect x="949.8" y="718.7" width="1.8" height="1.8"/><rect x="951.8" y="720" width="1.8" height="1.8"/><rect x="953.8" y="719.6" width="1.8" height="1.8"/><rect x="955.8" y="719.7" width="1.8" height="1.8"/><rect x="957.8" y="720.9" width="1.8" height="1.8"/><rect x="959.8" y="722.3" width="1.8" height="1.8"/><rect x="961.8" y="722.4" width="1.8" height="1.8"/><rect x="963.8" y="726" width="1.8" height="1.8"/><rect x="965.8" y="723.8" width="1.8" height="1.8"/><rect x="967.8" y="725.9" width="1.8" height="1.8"/><rect x="969.8" y="726.6" width="1.8" height="1.8"/><rect x="971.8" y="726.5" width="1.8" height="1.8"/><rect x="973.8" y="725.7" width="1.8" height="1.8"/><rect x="975.8" y="728.1" width="1.8" height="1.8"/><rect x="977.8" y="729.2" width="1.8" height="1.8"/><rect x="979.8" y="728.9" width="1.8" height="1.8"/><rect x="981.8" y="729.3" width="1.8" height="1.8"/><rect x="983.8" y="726.4" width="1.8" height="1.8"/><rect x="985.8" y="730.2" width="1.8" height="1.8"/><rect x="987.8" y="731.2" width="1.8" height="1.8"/><rect x="989.8" y="732.3" width="1.8" height="1.8"/><rect x="991.8" y="731.7" width="1.8" height="1.8"/><rect x="993.8" y="732.8" width="1.8" height="1.8"/><rect x="995.8" y="732" width="1.8" height="1.8"/><rect x="997.8" y="734.4" width="1.8" height="1.8"/><rect x="999.8" y="735.1" width="1.8" height="1.8"/><rect x="1001.8" y="734.7" width="1.8" height="1.8"/><rect x="1003.8" y="736.5" width="1.8" height="1.8"/><rect x="1005.8" y="735.7" width="1.8" height="1.8"/><rect x="1007.8" y="736" width="1.8" height="1.8"/><rect x="1009.8" y="736.9" width="1.8" height="1.8"/><rect x="1011.8" y="740.1" width="1.8" height="1.8"/><rect x="1013.8" y="736.6" width="1.8" height="1.8"/><rect x="1015.8" y="739.3" width="1.8" height="1.8"/><rect x="1017.8" y="739.3" width="1.8" height="1.8"/><rect x="1019.8" y="740.4" width="1.8" height="1.8"/><rect x="1021.8" y="739.3" width="1.8" height="1.8"/><rect x="1023.8" y="742.4" width="1.8" height="1.8"/><rect x="1025.8" y="743" width="1.8" height="1.8"/><rect x="1027.8" y="742.6" width="1.8" height="1.8"/><rect x="1029.8" y="743" width="1.8" height="1.8"/><rect x="1031.8" y="744.2" width="1.8" height="1.8"/><rect x="1033.8" y="745.9" width="1.8" height="1.8"/><rect x="1035.8" y="743.7" width="1.8" height="1.8"/><rect x="1037.8" y="747.6" width="1.8" height="1.8"/><rect x="1039.8" y="746.3" width="1.8" height="1.8"/><rect x="1041.8" y="748.2" width="1.8" height="1.8"/><rect x="1043.8" y="746.9" width="1.8" height="1.8"/><rect x="1045.8" y="750.7" width="1.8" height="1.8"/><rect x="1047.8" y="749.3" width="1.8" height="1.8"/><rect x="1049.8" y="751.6" width="1.8" height="1.8"/><rect x="1051.8" y="749.5" width="1.8" height="1.8"/><rect x="1053.8" y="750" width="1.8" height="1.8"/><rect x="1055.8" y="752.5" width="1.8" height="1.8"/><rect x="1057.8" y="752.5" width="1.8" height="1.8"/><rect x="1059.8" y="752.6" width="1.8" height="1.8"/><rect x="1061.8" y="754.1" width="1.8" height="1.8"/><rect x="1063.8" y="753.6" width="1.8" height="1.8"/><rect x="1065.8" y="753.2" width="1.8" height="1.8"/><rect x="1067.8" y="751.9" width="1.8" height="1.8"/><rect x="1069.8" y="750.8" width="1.8" height="1.8"/><rect x="1071.8" y="755.5" width="1.8" height="1.8"/><rect x="1073.8" y="754.3" width="1.8" height="1.8"/><rect x="1075.8" y="756.3" width="1.8" height="1.8"/><rect x="1077.8" y="755.8" width="1.8" height="1.8"/><rect x="1079.8" y="756.5" width="1.8" height="1.8"/><rect x="1081.8" y="757.9" width="1.8" height="1.8"/><rect x="1083.8" y="755.4" width="1.8" height="1.8"/><rect x="1085.8" y="758" width="1.8" height="1.8"/><rect x="1087.8" y="758.6" width="1.8" height="1.8"/><rect x="1089.8" y="758.1" width="1.8" height="1.8"/><rect x="1091.8" y="758.9" width="1.8" height="1.8"/><rect x="1093.8" y="757.8" width="1.8" height="1.8"/><rect x="1095.8" y="759.6" width="1.8" height="1.8"/><rect x="1097.8" y="760.6" width="1.8" height="1.8"/><rect x="1099.8" y="761.1" width="1.8" height="1.8"/><rect x="1101.8" y="759.8" width="1.8" height="1.8"/><rect x="1103.8" y="761.9" width="1.8" height="1.8"/><rect x="1105.8" y="761.7" width="1.8" height="1.8"/><rect x="1107.8" y="762.6" width="1.8" height="1.8"/><rect x="1109.8" y="762.2" width="1.8" height="1.8"/><rect x="1111.8" y="763.3" width="1.8" height="1.8"/><rect x="1113.8" y="763.3" width="1.8" height="1.8"/><rect x="1115.8" y="767.4" width="1.8" height="1.8"/><rect x="1117.8" y="765.2" width="1.8" height="1.8"/><rect x="1119.8" y="764.3" width="1.8" height="1.8"/><rect x="1121.8" y="763.1" width="1.8" height="1.8"/><rect x="1123.8" y="765.8" width="1.8" height="1.8"/><rect x="1125.8" y="767.1" width="1.8" height="1.8"/><rect x="1127.8" y="767" width="1.8" height="1.8"/><rect x="1129.8" y="767.5" width="1.8" height="1.8"/><rect x="1131.8" y="766.2" width="1.8" height="1.8"/><rect x="1133.8" y="767.9" width="1.8" height="1.8"/><rect x="1135.8" y="766.4" width="1.8" height="1.8"/><rect x="1137.8" y="770.5" width="1.8" height="1.8"/><rect x="1139.8" y="770.7" width="1.8" height="1.8"/><rect x="1141.8" y="768.2" width="1.8" height="1.8"/><rect x="1143.8" y="769.4" width="1.8" height="1.8"/><rect x="1145.8" y="768.9" width="1.8" height="1.8"/><rect x="1147.8" y="769.9" width="1.8" height="1.8"/><rect x="1149.8" y="770.7" width="1.8" height="1.8"/><rect x="1151.8" y="770.3" width="1.8" height="1.8"/><rect x="1153.8" y="771.5" width="1.8" height="1.8"/><rect x="1155.8" y="773.2" width="1.8" height="1.8"/><rect x="1157.8" y="772.6" width="1.8" height="1.8"/><rect x="1159.8" y="774.2" width="1.8" height="1.8"/><rect x="1161.8" y="773.6" width="1.8" height="1.8"/><rect x="1163.8" y="774.3" width="1.8" height="1.8"/><rect x="1165.8" y="773.2" width="1.8" height="1.8"/><rect x="1167.8" y="776" width="1.8" height="1.8"/><rect x="1169.8" y="774.1" width="1.8" height="1.8"/><rect x="1171.8" y="775.3" width="1.8" height="1.8"/><rect x="1173.8" y="774.7" width="1.8" height="1.8"/><rect x="1175.8" y="777.1" width="1.8" height="1.8"/><rect x="1177.8" y="775.7" width="1.8" height="1.8"/><rect x="1179.8" y="777.9" width="1.8" height="1.8"/><rect x="1181.8" y="779.8" width="1.8" height="1.8"/><rect x="1183.8" y="778.4" width="1.8" height="1.8"/><rect x="1185.8" y="774.8" width="1.8" height="1.8"/><rect x="1187.8" y="778.9" width="1.8" height="1.8"/><rect x="1189.8" y="779.7" width="1.8" height="1.8"/><rect x="1191.8" y="779.9" width="1.8" height="1.8"/><rect x="1193.8" y="781.1" width="1.8" height="1.8"/><rect x="1195.8" y="781.3" width="1.8" height="1.8"/><rect x="1197.8" y="780.4" width="1.8" height="1.8"/><rect x="1199.8" y="779.4" width="1.8" height="1.8"/><rect x="1201.8" y="781" width="1.8" height="1.8"/><rect x="1203.8" y="782.3" width="1.8" height="1.8"/><rect x="1205.8" y="779.7" width="1.8" height="1.8"/><rect x="1207.8" y="782.3" width="1.8" height="1.8"/><rect x="1209.8" y="780.4" width="1.8" height="1.8"/><rect x="1211.8" y="784.1" width="1.8" height="1.8"/><rect x="1213.8" y="785.2" width="1.8" height="1.8"/><rect x="1215.8" y="784.4" width="1.8" height="1.8"/><rect x="1217.8" y="783.3" width="1.8" height="1.8"/><rect x="1219.8" y="785" width="1.8" height="1.8"/><rect x="1221.8" y="785.9" width="1.8" height="1.8"/><rect x="1223.8" y="786.6" width="1.8" height="1.8"/><rect x="1225.8" y="786.7" width="1.8" height="1.8"/><rect x="1227.8" y="786.6" width="1.8" height="1.8"/><rect x="1229.8" y="784.6" width="1.8" height="1.8"/><rect x="1231.8" y="785.9" width="1.8" height="1.8"/><rect x="1233.8" y="786.9" width="1.8" height="1.8"/><rect x="1235.8" y="786.7" width="1.8" height="1.8"/><rect x="1237.8" y="784.8" width="1.8" height="1.8"/><rect x="1239.8" y="787.1" width="1.8" height="1.8"/><rect x="1241.8" y="786.8" width="1.8" height="1.8"/><rect x="1243.8" y="788.2" width="1.8" height="1.8"/><rect x="1245.8" y="788.7" width="1.8" height="1.8"/><rect x="1247.8" y="787" width="1.8" height="1.8"/><rect x="1249.8" y="788.1" width="1.8" height="1.8"/><rect x="1251.8" y="789.4" width="1.8" height="1.8"/><rect x="1253.8" y="788.4" width="1.8" height="1.8"/><rect x="1255.8" y="789.8" width="1.8" height="1.8"/><rect x="1257.8" y="789.2" width="1.8" height="1.8"/><rect x="1259.8" y="789.7" width="1.8" height="1.8"/><rect x="1261.8" y="791.9" width="1.8" height="1.8"/><rect x="1263.8" y="791" width="1.8" height="1.8"/><rect x="1265.8" y="790.9" width="1.8" height="1.8"/><rect x="1267.8" y="793.6" width="1.8" height="1.8"/><rect x="1269.8" y="791.8" width="1.8" height="1.8"/><rect x="1271.8" y="792.5" width="1.8" height="1.8"/><rect x="1273.8" y="792.9" width="1.8" height="1.8"/><rect x="1275.8" y="798" width="1.8" height="1.8"/><rect x="1277.8" y="794.5" width="1.8" height="1.8"/><rect x="1279.8" y="793.5" width="1.8" height="1.8"/><rect x="1281.8" y="795.2" width="1.8" height="1.8"/><rect x="1283.8" y="795.8" width="1.8" height="1.8"/><rect x="1285.8" y="793.6" width="1.8" height="1.8"/><rect x="1287.8" y="795.7" width="1.8" height="1.8"/><rect x="1289.8" y="797.4" width="1.8" height="1.8"/><rect x="1291.8" y="798" width="1.8" height="1.8"/><rect x="1293.8" y="796.5" width="1.8" height="1.8"/><rect x="1295.8" y="800.3" width="1.8" height="1.8"/><rect x="1297.8" y="798.1" width="1.8" height="1.8"/><rect x="1299.8" y="797.9" width="1.8" height="1.8"/><rect x="1301.8" y="796.5" width="1.8" height="1.8"/><rect x="1303.8" y="799.1" width="1.8" height="1.8"/><rect x="1305.8" y="796.9" width="1.8" height="1.8"/><rect x="1307.8" y="797.9" width="1.8" height="1.8"/><rect x="1309.8" y="798.9" width="1.8" height="1.8"/><rect x="1311.8" y="798" width="1.8" height="1.8"/><rect x="1313.8" y="801" width="1.8" height="1.8"/><rect x="1315.8" y="799.5" width="1.8" height="1.8"/><rect x="1317.8" y="799" width="1.8" height="1.8"/><rect x="1319.8" y="801" width="1.8" height="1.8"/><rect x="1321.8" y="801.1" width="1.8" height="1.8"/><rect x="1323.8" y="800.2" width="1.8" height="1.8"/><rect x="1325.8" y="801.2" width="1.8" height="1.8"/><rect x="1327.8" y="803.1" width="1.8" height="1.8"/><rect x="1329.8" y="803.4" width="1.8" height="1.8"/><rect x="1331.8" y="801" width="1.8" height="1.8"/><rect x="1333.8" y="804.3" width="1.8" height="1.8"/><rect x="1335.8" y="804.6" width="1.8" height="1.8"/><rect x="1337.8" y="805.1" width="1.8" height="1.8"/><rect x="1339.8" y="803.6" width="1.8" height="1.8"/><rect x="1341.8" y="803.7" width="1.8" height="1.8"/><rect x="1343.8" y="804.8" width="1.8" height="1.8"/><rect x="1345.8" y="804.5" width="1.8" height="1.8"/><rect x="1347.8" y="805.3" width="1.8" height="1.8"/><rect x="1349.8" y="805.2" width="1.8" height="1.8"/><rect x="1351.8" y="805.9" width="1.8" height="1.8"/><rect x="1353.8" y="806" width="1.8" height="1.8"/><rect x="1355.8" y="806.9" width="1.8" height="1.8"/><rect x="1357.8" y="807.4" width="1.8" height="1.8"/><rect x="1359.8" y="807.3" width="1.8" height="1.8"/><rect x="1361.8" y="807.3" width="1.8" height="1.8"/><rect x="1363.8" y="810.1" width="1.8" height="1.8"/><rect x="1365.8" y="809.6" width="1.8" height="1.8"/><rect x="1367.8" y="809.5" width="1.8" height="1.8"/><rect x="1369.8" y="808.3" width="1.8" height="1.8"/><rect x="1371.8" y="810.3" width="1.8" height="1.8"/><rect x="1373.8" y="809.7" width="1.8" height="1.8"/><rect x="1375.8" y="810.9" width="1.8" height="1.8"/><rect x="1377.8" y="810.8" width="1.8" height="1.8"/><rect x="1379.8" y="815" width="1.8" height="1.8"/><rect x="1381.8" y="810.1" width="1.8" height="1.8"/><rect x="1383.8" y="812.8" width="1.8" height="1.8"/><rect x="1385.8" y="813.2" width="1.8" height="1.8"/><rect x="1387.8" y="813.7" width="1.8" height="1.8"/><rect x="1389.8" y="808.4" width="1.8" height="1.8"/><rect x="1391.8" y="812" width="1.8" height="1.8"/><rect x="1393.8" y="811.3" width="1.8" height="1.8"/><rect x="1395.8" y="813.7" width="1.8" height="1.8"/><rect x="1397.8" y="814.6" width="1.8" height="1.8"/><rect x="1399.8" y="815.4" width="1.8" height="1.8"/><rect x="1401.8" y="815.5" width="1.8" height="1.8"/><rect x="1403.8" y="814.8" width="1.8" height="1.8"/><rect x="1405.8" y="816.9" width="1.8" height="1.8"/><rect x="1407.8" y="815.7" width="1.8" height="1.8"/><rect x="1409.8" y="812.6" width="1.8" height="1.8"/><rect x="1411.8" y="815.2" width="1.8" height="1.8"/><rect x="1413.8" y="816.8" width="1.8" height="1.8"/><rect x="1415.8" y="816.2" width="1.8" height="1.8"/><rect x="1417.8" y="816.7" width="1.8" height="1.8"/><rect x="1419.8" y="818.9" width="1.8" height="1.8"/><rect x="1421.8" y="816.8" width="1.8" height="1.8"/><rect x="1423.8" y="816.4" width="1.8" height="1.8"/><rect x="1425.8" y="818.6" width="1.8" height="1.8"/><rect x="1427.8" y="819.4" width="1.8" height="1.8"/><rect x="1429.8" y="818.8" width="1.8" height="1.8"/><rect x="1431.8" y="819.3" width="1.8" height="1.8"/><rect x="1433.8" y="818.9" width="1.8" height="1.8"/><rect x="1435.8" y="818.4" width="1.8" height="1.8"/><rect x="1437.8" y="819.4" width="1.8" height="1.8"/><rect x="1439.8" y="819.3" width="1.8" height="1.8"/><rect x="1441.8" y="822.3" width="1.8" height="1.8"/><rect x="1443.8" y="820.9" width="1.8" height="1.8"/><rect x="1445.8" y="823.1" width="1.8" height="1.8"/><rect x="1447.8" y="821.7" width="1.8" height="1.8"/><rect x="1449.8" y="821.1" width="1.8" height="1.8"/><rect x="1451.8" y="822.7" width="1.8" height="1.8"/><rect x="1453.8" y="823" width="1.8" height="1.8"/><rect x="1455.8" y="824.6" width="1.8" height="1.8"/><rect x="1457.8" y="821.1" width="1.8" height="1.8"/><rect x="1459.8" y="823.3" width="1.8" height="1.8"/><rect x="1461.8" y="824.5" width="1.8" height="1.8"/><rect x="1463.8" y="823.6" width="1.8" height="1.8"/><rect x="1465.8" y="824.9" width="1.8" height="1.8"/><rect x="1467.8" y="824.7" width="1.8" height="1.8"/><rect x="1469.8" y="827" width="1.8" height="1.8"/><rect x="1471.8" y="827.1" width="1.8" height="1.8"/><rect x="1473.8" y="823.7" width="1.8" height="1.8"/><rect x="1475.8" y="824.6" width="1.8" height="1.8"/><rect x="1477.8" y="825.8" width="1.8" height="1.8"/><rect x="1479.8" y="826.9" width="1.8" height="1.8"/><rect x="1481.8" y="827.2" width="1.8" height="1.8"/><rect x="1483.8" y="827.1" width="1.8" height="1.8"/><rect x="1485.8" y="828.7" width="1.8" height="1.8"/><rect x="1487.8" y="829.3" width="1.8" height="1.8"/><rect x="1489.8" y="828.8" width="1.8" height="1.8"/><rect x="1491.8" y="828.6" width="1.8" height="1.8"/><rect x="1493.8" y="829.3" width="1.8" height="1.8"/><rect x="1495.8" y="828.7" width="1.8" height="1.8"/><rect x="1497.8" y="830.9" width="1.8" height="1.8"/><rect x="1499.8" y="831.2" width="1.8" height="1.8"/><rect x="1501.8" y="829.6" width="1.8" height="1.8"/><rect x="1503.8" y="832.6" width="1.8" height="1.8"/><rect x="1505.8" y="831.2" width="1.8" height="1.8"/><rect x="1507.8" y="832.5" width="1.8" height="1.8"/><rect x="1509.8" y="831.9" width="1.8" height="1.8"/><rect x="1511.8" y="832" width="1.8" height="1.8"/><rect x="1513.8" y="833.4" width="1.8" height="1.8"/><rect x="1515.8" y="831.8" width="1.8" height="1.8"/><rect x="1517.8" y="833" width="1.8" height="1.8"/><rect x="1519.8" y="832.2" width="1.8" height="1.8"/><rect x="1521.8" y="834.4" width="1.8" height="1.8"/><rect x="1523.8" y="834" width="1.8" height="1.8"/><rect x="1525.8" y="834.2" width="1.8" height="1.8"/><rect x="1527.8" y="834.3" width="1.8" height="1.8"/></g>
<path d="M906.7 694.3 L907.7 695 L908.7 695.7 L909.7 696.4 L910.7 697.1 L911.7 697.8 L912.7 698.4 L913.7 699.1 L914.7 699.8 L915.7 700.4 L916.7 701.1 L917.7 701.7 L918.7 702.3 L919.7 703 L920.7 703.6 L921.7 704.2 L922.7 704.8 L923.7 705.4 L924.7 706 L925.7 706.6 L926.7 707.2 L927.7 707.7 L928.7 708.3 L929.7 708.8 L930.7 709.4 L931.7 709.9 L932.7 710.4 L933.7 711 L934.7 711.5 L935.7 712 L936.7 712.5 L937.7 713.1 L938.7 713.6 L939.7 714.1 L940.7 714.6 L941.7 715.1 L942.7 715.5 L943.7 716 L944.7 716.5 L945.7 717 L946.7 717.4 L947.7 717.9 L948.7 718.4 L949.7 718.8 L950.7 719.2 L951.7 719.7 L952.7 720.1 L953.7 720.5 L954.7 720.9 L955.7 721.3 L956.7 721.7 L957.7 722.1 L958.7 722.5 L959.7 722.8 L960.7 723.2 L961.7 723.6 L962.7 723.9 L963.7 724.3 L964.7 724.6 L965.7 725 L966.7 725.3 L967.7 725.6 L968.7 725.9 L969.7 726.3 L970.7 726.6 L971.7 726.9 L972.7 727.2 L973.7 727.5 L974.7 727.8 L975.7 728.1 L976.7 728.4 L977.7 728.7 L978.7 729 L979.7 729.3 L980.7 729.6 L981.7 729.9 L982.7 730.2 L983.7 730.5 L984.7 730.7 L985.7 731 L986.7 731.3 L987.7 731.6 L988.7 731.8 L989.7 732.1 L990.7 732.4 L991.7 732.7 L992.7 733 L993.7 733.2 L994.7 733.5 L995.7 733.8 L996.7 734.1 L997.7 734.3 L998.7 734.6 L999.7 734.9 L1000.7 735.2 L1001.7 735.5 L1002.7 735.7 L1003.7 736 L1004.7 736.3 L1005.7 736.6 L1006.7 736.9 L1007.7 737.2 L1008.7 737.5 L1009.7 737.8 L1010.7 738.1 L1011.7 738.4 L1012.7 738.7 L1013.7 739 L1014.7 739.3 L1015.7 739.6 L1016.7 739.9 L1017.7 740.3 L1018.7 740.6 L1019.7 740.9 L1020.7 741.2 L1021.7 741.5 L1022.7 741.8 L1023.7 742.2 L1024.7 742.5 L1025.7 742.8 L1026.7 743.1 L1027.7 743.4 L1028.7 743.8 L1029.7 744.1 L1030.7 744.4 L1031.7 744.7 L1032.7 745 L1033.7 745.4 L1034.7 745.7 L1035.7 746 L1036.7 746.3 L1037.7 746.6 L1038.7 746.9 L1039.7 747.2 L1040.7 747.5 L1041.7 747.8 L1042.7 748.1 L1043.7 748.4 L1044.7 748.7 L1045.7 749 L1046.7 749.3 L1047.7 749.6 L1048.7 749.9 L1049.7 750.2 L1050.7 750.5 L1051.7 750.7 L1052.7 751 L1053.7 751.3 L1054.7 751.6 L1055.7 751.8 L1056.7 752.1 L1057.7 752.3 L1058.7 752.6 L1059.7 752.8 L1060.7 753.1 L1061.7 753.3 L1062.7 753.5 L1063.7 753.8 L1064.7 754 L1065.7 754.2 L1066.7 754.4 L1067.7 754.7 L1068.7 754.9 L1069.7 755.1 L1070.7 755.3 L1071.7 755.5 L1072.7 755.7 L1073.7 755.9 L1074.7 756.1 L1075.7 756.3 L1076.7 756.5 L1077.7 756.7 L1078.7 756.9 L1079.7 757.1 L1080.7 757.3 L1081.7 757.5 L1082.7 757.7 L1083.7 757.9 L1084.7 758.1 L1085.7 758.3 L1086.7 758.4 L1087.7 758.6 L1088.7 758.8 L1089.7 759 L1090.7 759.2 L1091.7 759.4 L1092.7 759.6 L1093.7 759.7 L1094.7 759.9 L1095.7 760.1 L1096.7 760.3 L1097.7 760.5 L1098.7 760.7 L1099.7 760.9 L1100.7 761.1 L1101.7 761.3 L1102.7 761.5 L1103.7 761.6 L1104.7 761.8 L1105.7 762 L1106.7 762.2 L1107.7 762.4 L1108.7 762.6 L1109.7 762.8 L1110.7 763.1 L1111.7 763.3 L1112.7 763.5 L1113.7 763.7 L1114.7 763.9 L1115.7 764.1 L1116.7 764.3 L1117.7 764.5 L1118.7 764.8 L1119.7 765 L1120.7 765.2 L1121.7 765.4 L1122.7 765.7 L1123.7 765.9 L1124.7 766.1 L1125.7 766.3 L1126.7 766.6 L1127.7 766.8 L1128.7 767 L1129.7 767.2 L1130.7 767.5 L1131.7 767.7 L1132.7 767.9 L1133.7 768.2 L1134.7 768.4 L1135.7 768.6 L1136.7 768.8 L1137.7 769.1 L1138.7 769.3 L1139.7 769.5 L1140.7 769.8 L1141.7 770 L1142.7 770.2 L1143.7 770.5 L1144.7 770.7 L1145.7 770.9 L1146.7 771.1 L1147.7 771.4 L1148.7 771.6 L1149.7 771.8 L1150.7 772 L1151.7 772.3 L1152.7 772.5 L1153.7 772.7 L1154.7 772.9 L1155.7 773.1 L1156.7 773.4 L1157.7 773.6 L1158.7 773.8 L1159.7 774 L1160.7 774.2 L1161.7 774.4 L1162.7 774.6 L1163.7 774.8 L1164.7 775 L1165.7 775.3 L1166.7 775.5 L1167.7 775.7 L1168.7 775.8 L1169.7 776 L1170.7 776.2 L1171.7 776.4 L1172.7 776.6 L1173.7 776.8 L1174.7 777 L1175.7 777.2 L1176.7 777.4 L1177.7 777.6 L1178.7 777.7 L1179.7 777.9 L1180.7 778.1 L1181.7 778.3 L1182.7 778.5 L1183.7 778.7 L1184.7 778.8 L1185.7 779 L1186.7 779.2 L1187.7 779.4 L1188.7 779.6 L1189.7 779.7 L1190.7 779.9 L1191.7 780.1 L1192.7 780.3 L1193.7 780.4 L1194.7 780.6 L1195.7 780.8 L1196.7 780.9 L1197.7 781.1 L1198.7 781.3 L1199.7 781.5 L1200.7 781.6 L1201.7 781.8 L1202.7 782 L1203.7 782.1 L1204.7 782.3 L1205.7 782.5 L1206.7 782.6 L1207.7 782.8 L1208.7 783 L1209.7 783.1 L1210.7 783.3 L1211.7 783.5 L1212.7 783.6 L1213.7 783.8 L1214.7 784 L1215.7 784.1 L1216.7 784.3 L1217.7 784.4 L1218.7 784.6 L1219.7 784.8 L1220.7 784.9 L1221.7 785.1 L1222.7 785.3 L1223.7 785.4 L1224.7 785.6 L1225.7 785.7 L1226.7 785.9 L1227.7 786.1 L1228.7 786.2 L1229.7 786.4 L1230.7 786.5 L1231.7 786.7 L1232.7 786.9 L1233.7 787 L1234.7 787.2 L1235.7 787.3 L1236.7 787.5 L1237.7 787.7 L1238.7 787.8 L1239.7 788 L1240.7 788.1 L1241.7 788.3 L1242.7 788.5 L1243.7 788.6 L1244.7 788.8 L1245.7 788.9 L1246.7 789.1 L1247.7 789.3 L1248.7 789.4 L1249.7 789.6 L1250.7 789.7 L1251.7 789.9 L1252.7 790.1 L1253.7 790.2 L1254.7 790.4 L1255.7 790.6 L1256.7 790.7 L1257.7 790.9 L1258.7 791 L1259.7 791.2 L1260.7 791.4 L1261.7 791.5 L1262.7 791.7 L1263.7 791.9 L1264.7 792 L1265.7 792.2 L1266.7 792.4 L1267.7 792.5 L1268.7 792.7 L1269.7 792.9 L1270.7 793 L1271.7 793.2 L1272.7 793.4 L1273.7 793.5 L1274.7 793.7 L1275.7 793.9 L1276.7 794 L1277.7 794.2 L1278.7 794.4 L1279.7 794.6 L1280.7 794.7 L1281.7 794.9 L1282.7 795.1 L1283.7 795.2 L1284.7 795.4 L1285.7 795.6 L1286.7 795.7 L1287.7 795.9 L1288.7 796.1 L1289.7 796.3 L1290.7 796.4 L1291.7 796.6 L1292.7 796.8 L1293.7 796.9 L1294.7 797.1 L1295.7 797.3 L1296.7 797.5 L1297.7 797.6 L1298.7 797.8 L1299.7 798 L1300.7 798.1 L1301.7 798.3 L1302.7 798.5 L1303.7 798.7 L1304.7 798.8 L1305.7 799 L1306.7 799.2 L1307.7 799.3 L1308.7 799.5 L1309.7 799.7 L1310.7 799.9 L1311.7 800 L1312.7 800.2 L1313.7 800.4 L1314.7 800.5 L1315.7 800.7 L1316.7 800.9 L1317.7 801.1 L1318.7 801.2 L1319.7 801.4 L1320.7 801.6 L1321.7 801.7 L1322.7 801.9 L1323.7 802.1 L1324.7 802.3 L1325.7 802.4 L1326.7 802.6 L1327.7 802.8 L1328.7 802.9 L1329.7 803.1 L1330.7 803.3 L1331.7 803.5 L1332.7 803.6 L1333.7 803.8 L1334.7 804 L1335.7 804.1 L1336.7 804.3 L1337.7 804.5 L1338.7 804.7 L1339.7 804.8 L1340.7 805 L1341.7 805.2 L1342.7 805.3 L1343.7 805.5 L1344.7 805.7 L1345.7 805.8 L1346.7 806 L1347.7 806.2 L1348.7 806.4 L1349.7 806.5 L1350.7 806.7 L1351.7 806.9 L1352.7 807 L1353.7 807.2 L1354.7 807.4 L1355.7 807.5 L1356.7 807.7 L1357.7 807.9 L1358.7 808.1 L1359.7 808.2 L1360.7 808.4 L1361.7 808.6 L1362.7 808.7 L1363.7 808.9 L1364.7 809.1 L1365.7 809.2 L1366.7 809.4 L1367.7 809.6 L1368.7 809.7 L1369.7 809.9 L1370.7 810.1 L1371.7 810.2 L1372.7 810.4 L1373.7 810.6 L1374.7 810.7 L1375.7 810.9 L1376.7 811.1 L1377.7 811.2 L1378.7 811.4 L1379.7 811.6 L1380.7 811.7 L1381.7 811.9 L1382.7 812.1 L1383.7 812.2 L1384.7 812.4 L1385.7 812.6 L1386.7 812.7 L1387.7 812.9 L1388.7 813 L1389.7 813.2 L1390.7 813.4 L1391.7 813.5 L1392.7 813.7 L1393.7 813.9 L1394.7 814 L1395.7 814.2 L1396.7 814.4 L1397.7 814.5 L1398.7 814.7 L1399.7 814.8 L1400.7 815 L1401.7 815.2 L1402.7 815.3 L1403.7 815.5 L1404.7 815.7 L1405.7 815.8 L1406.7 816 L1407.7 816.1 L1408.7 816.3 L1409.7 816.5 L1410.7 816.6 L1411.7 816.8 L1412.7 817 L1413.7 817.1 L1414.7 817.3 L1415.7 817.4 L1416.7 817.6 L1417.7 817.8 L1418.7 817.9 L1419.7 818.1 L1420.7 818.3 L1421.7 818.4 L1422.7 818.6 L1423.7 818.7 L1424.7 818.9 L1425.7 819.1 L1426.7 819.2 L1427.7 819.4 L1428.7 819.5 L1429.7 819.7 L1430.7 819.9 L1431.7 820 L1432.7 820.2 L1433.7 820.3 L1434.7 820.5 L1435.7 820.7 L1436.7 820.8 L1437.7 821 L1438.7 821.2 L1439.7 821.3 L1440.7 821.5 L1441.7 821.6 L1442.7 821.8 L1443.7 822 L1444.7 822.1 L1445.7 822.3 L1446.7 822.4 L1447.7 822.6 L1448.7 822.8 L1449.7 822.9 L1450.7 823.1 L1451.7 823.2 L1452.7 823.4 L1453.7 823.6 L1454.7 823.7 L1455.7 823.9 L1456.7 824.1 L1457.7 824.2 L1458.7 824.4 L1459.7 824.5 L1460.7 824.7 L1461.7 824.9 L1462.7 825 L1463.7 825.2 L1464.7 825.3 L1465.7 825.5 L1466.7 825.7 L1467.7 825.8 L1468.7 826 L1469.7 826.2 L1470.7 826.3 L1471.7 826.5 L1472.7 826.6 L1473.7 826.8 L1474.7 827 L1475.7 827.1 L1476.7 827.3 L1477.7 827.5 L1478.7 827.6 L1479.7 827.8 L1480.7 827.9 L1481.7 828.1 L1482.7 828.3 L1483.7 828.4 L1484.7 828.6 L1485.7 828.8 L1486.7 828.9 L1487.7 829.1 L1488.7 829.2 L1489.7 829.4 L1490.7 829.6 L1491.7 829.7 L1492.7 829.9 L1493.7 830.1 L1494.7 830.2 L1495.7 830.4 L1496.7 830.6 L1497.7 830.7 L1498.7 830.9 L1499.7 831 L1500.7 831.2 L1501.7 831.4 L1502.7 831.5 L1503.7 831.7 L1504.7 831.9 L1505.7 832 L1506.7 832.2 L1507.7 832.4 L1508.7 832.5 L1509.7 832.7 L1510.7 832.8 L1511.7 833 L1512.7 833.2 L1513.7 833.3 L1514.7 833.5 L1515.7 833.7 L1516.7 833.8 L1517.7 834 L1518.7 834.1 L1519.7 834.3 L1520.7 834.5 L1521.7 834.6 L1522.7 834.8 L1523.7 835 L1524.7 835.1 L1525.7 835.3 L1526.7 835.5 L1527.7 835.6 L1528.7 835.8 L1529.7 836" fill="none" stroke="#FF8000" stroke-width="3.2" stroke-linecap="round"/>
<g fill="#FF0000"><rect x="906.6" y="719.7" width="1.8" height="1.8"/><rect x="908.6" y="721" width="1.8" height="1.8"/><rect x="910.6" y="722.1" width="1.8" height="1.8"/><rect x="912.6" y="723.5" width="1.8" height="1.8"/><rect x="914.6" y="728" width="1.8" height="1.8"/><rect x="916.6" y="729.3" width="1.8" height="1.8"/><rect x="918.6" y="727.5" width="1.8" height="1.8"/><rect x="920.6" y="732" width="1.8" height="1.8"/><rect x="922.6" y="732.5" width="1.8" height="1.8"/><rect x="924.6" y="733.6" width="1.8" height="1.8"/><rect x="926.6" y="735.1" width="1.8" height="1.8"/><rect x="928.6" y="734" width="1.8" height="1.8"/><rect x="930.6" y="740.1" width="1.8" height="1.8"/><rect x="932.6" y="738.2" width="1.8" height="1.8"/><rect x="934.6" y="739.2" width="1.8" height="1.8"/><rect x="936.6" y="740.5" width="1.8" height="1.8"/><rect x="938.6" y="740.5" width="1.8" height="1.8"/><rect x="940.6" y="743" width="1.8" height="1.8"/><rect x="942.6" y="743.3" width="1.8" height="1.8"/><rect x="944.6" y="742.9" width="1.8" height="1.8"/><rect x="946.6" y="744.5" width="1.8" height="1.8"/><rect x="948.6" y="745.2" width="1.8" height="1.8"/><rect x="950.6" y="746.1" width="1.8" height="1.8"/><rect x="952.6" y="747.2" width="1.8" height="1.8"/><rect x="954.6" y="749.2" width="1.8" height="1.8"/><rect x="956.6" y="748.6" width="1.8" height="1.8"/><rect x="958.6" y="747.7" width="1.8" height="1.8"/><rect x="960.6" y="752.3" width="1.8" height="1.8"/><rect x="962.6" y="750.3" width="1.8" height="1.8"/><rect x="964.6" y="753.5" width="1.8" height="1.8"/><rect x="966.6" y="752.6" width="1.8" height="1.8"/><rect x="968.6" y="753.5" width="1.8" height="1.8"/><rect x="970.6" y="752.3" width="1.8" height="1.8"/><rect x="972.6" y="754" width="1.8" height="1.8"/><rect x="974.6" y="753.9" width="1.8" height="1.8"/><rect x="976.6" y="754.8" width="1.8" height="1.8"/><rect x="978.6" y="756" width="1.8" height="1.8"/><rect x="980.6" y="755.3" width="1.8" height="1.8"/><rect x="982.6" y="757.4" width="1.8" height="1.8"/><rect x="984.6" y="755" width="1.8" height="1.8"/><rect x="986.6" y="755.8" width="1.8" height="1.8"/><rect x="988.6" y="758.2" width="1.8" height="1.8"/><rect x="990.6" y="758.8" width="1.8" height="1.8"/><rect x="992.6" y="759.9" width="1.8" height="1.8"/><rect x="994.6" y="761.1" width="1.8" height="1.8"/><rect x="996.6" y="760" width="1.8" height="1.8"/><rect x="998.6" y="760.9" width="1.8" height="1.8"/><rect x="1000.6" y="760.7" width="1.8" height="1.8"/><rect x="1002.6" y="761" width="1.8" height="1.8"/><rect x="1004.6" y="761.2" width="1.8" height="1.8"/><rect x="1006.6" y="762" width="1.8" height="1.8"/><rect x="1008.6" y="761.6" width="1.8" height="1.8"/><rect x="1010.6" y="762.6" width="1.8" height="1.8"/><rect x="1012.6" y="764.3" width="1.8" height="1.8"/><rect x="1014.6" y="764.5" width="1.8" height="1.8"/><rect x="1016.6" y="765.8" width="1.8" height="1.8"/><rect x="1018.6" y="764.3" width="1.8" height="1.8"/><rect x="1020.6" y="764.9" width="1.8" height="1.8"/><rect x="1022.6" y="766.4" width="1.8" height="1.8"/><rect x="1024.6" y="765.3" width="1.8" height="1.8"/><rect x="1026.6" y="765.8" width="1.8" height="1.8"/><rect x="1028.6" y="768.2" width="1.8" height="1.8"/><rect x="1030.6" y="767.6" width="1.8" height="1.8"/><rect x="1032.6" y="769.5" width="1.8" height="1.8"/><rect x="1034.6" y="769.1" width="1.8" height="1.8"/><rect x="1036.6" y="768.9" width="1.8" height="1.8"/><rect x="1038.6" y="768.6" width="1.8" height="1.8"/><rect x="1040.6" y="772" width="1.8" height="1.8"/><rect x="1042.6" y="770.9" width="1.8" height="1.8"/><rect x="1044.6" y="770.3" width="1.8" height="1.8"/><rect x="1046.6" y="770" width="1.8" height="1.8"/><rect x="1048.6" y="770.8" width="1.8" height="1.8"/><rect x="1050.6" y="772.4" width="1.8" height="1.8"/><rect x="1052.6" y="774.9" width="1.8" height="1.8"/><rect x="1054.6" y="772.7" width="1.8" height="1.8"/><rect x="1056.6" y="774.6" width="1.8" height="1.8"/><rect x="1058.6" y="775" width="1.8" height="1.8"/><rect x="1060.6" y="770.9" width="1.8" height="1.8"/><rect x="1062.6" y="776.6" width="1.8" height="1.8"/><rect x="1064.6" y="772.3" width="1.8" height="1.8"/><rect x="1066.6" y="776.4" width="1.8" height="1.8"/><rect x="1068.6" y="774.7" width="1.8" height="1.8"/><rect x="1070.6" y="779.6" width="1.8" height="1.8"/><rect x="1072.6" y="777.5" width="1.8" height="1.8"/><rect x="1074.6" y="780.1" width="1.8" height="1.8"/><rect x="1076.6" y="778.8" width="1.8" height="1.8"/><rect x="1078.6" y="777.9" width="1.8" height="1.8"/><rect x="1080.6" y="780.7" width="1.8" height="1.8"/><rect x="1082.6" y="782" width="1.8" height="1.8"/><rect x="1084.6" y="781.7" width="1.8" height="1.8"/><rect x="1086.6" y="779" width="1.8" height="1.8"/><rect x="1088.6" y="781.7" width="1.8" height="1.8"/><rect x="1090.6" y="779.8" width="1.8" height="1.8"/><rect x="1092.6" y="780.9" width="1.8" height="1.8"/><rect x="1094.6" y="783.8" width="1.8" height="1.8"/><rect x="1096.6" y="780.6" width="1.8" height="1.8"/><rect x="1098.6" y="787.2" width="1.8" height="1.8"/><rect x="1100.6" y="781.5" width="1.8" height="1.8"/><rect x="1102.6" y="784.5" width="1.8" height="1.8"/><rect x="1104.6" y="783.7" width="1.8" height="1.8"/><rect x="1106.6" y="784.1" width="1.8" height="1.8"/><rect x="1108.6" y="783.5" width="1.8" height="1.8"/><rect x="1110.6" y="786" width="1.8" height="1.8"/><rect x="1112.6" y="785.7" width="1.8" height="1.8"/><rect x="1114.6" y="785.7" width="1.8" height="1.8"/><rect x="1116.6" y="785.2" width="1.8" height="1.8"/><rect x="1118.6" y="784.7" width="1.8" height="1.8"/><rect x="1120.6" y="787" width="1.8" height="1.8"/><rect x="1122.6" y="783.4" width="1.8" height="1.8"/><rect x="1124.6" y="788.5" width="1.8" height="1.8"/><rect x="1126.6" y="789" width="1.8" height="1.8"/><rect x="1128.6" y="788" width="1.8" height="1.8"/><rect x="1130.6" y="785.6" width="1.8" height="1.8"/><rect x="1132.6" y="790.4" width="1.8" height="1.8"/><rect x="1134.6" y="789.7" width="1.8" height="1.8"/><rect x="1136.6" y="791.6" width="1.8" height="1.8"/><rect x="1138.6" y="791.7" width="1.8" height="1.8"/><rect x="1140.6" y="788.6" width="1.8" height="1.8"/><rect x="1142.6" y="790.8" width="1.8" height="1.8"/><rect x="1144.6" y="790.8" width="1.8" height="1.8"/><rect x="1146.6" y="793.8" width="1.8" height="1.8"/><rect x="1148.6" y="793.6" width="1.8" height="1.8"/><rect x="1150.6" y="792.7" width="1.8" height="1.8"/><rect x="1152.6" y="793.6" width="1.8" height="1.8"/><rect x="1154.6" y="794.4" width="1.8" height="1.8"/><rect x="1156.6" y="792.7" width="1.8" height="1.8"/><rect x="1158.6" y="793.7" width="1.8" height="1.8"/><rect x="1160.6" y="794.2" width="1.8" height="1.8"/><rect x="1162.6" y="794.1" width="1.8" height="1.8"/><rect x="1164.6" y="794.5" width="1.8" height="1.8"/><rect x="1166.6" y="795.6" width="1.8" height="1.8"/><rect x="1168.6" y="793.9" width="1.8" height="1.8"/><rect x="1170.6" y="794.4" width="1.8" height="1.8"/><rect x="1172.6" y="797.2" width="1.8" height="1.8"/><rect x="1174.6" y="798.5" width="1.8" height="1.8"/><rect x="1176.6" y="799.2" width="1.8" height="1.8"/><rect x="1178.6" y="794.9" width="1.8" height="1.8"/><rect x="1180.6" y="797.9" width="1.8" height="1.8"/><rect x="1182.6" y="796.6" width="1.8" height="1.8"/><rect x="1184.6" y="797.3" width="1.8" height="1.8"/><rect x="1186.6" y="798" width="1.8" height="1.8"/><rect x="1188.6" y="799.1" width="1.8" height="1.8"/><rect x="1190.6" y="799.6" width="1.8" height="1.8"/><rect x="1192.6" y="796" width="1.8" height="1.8"/><rect x="1194.6" y="800.8" width="1.8" height="1.8"/><rect x="1196.6" y="799.8" width="1.8" height="1.8"/><rect x="1198.6" y="797.9" width="1.8" height="1.8"/><rect x="1200.6" y="798.9" width="1.8" height="1.8"/><rect x="1202.6" y="799.4" width="1.8" height="1.8"/><rect x="1204.6" y="802" width="1.8" height="1.8"/><rect x="1206.6" y="803.3" width="1.8" height="1.8"/><rect x="1208.6" y="799.9" width="1.8" height="1.8"/><rect x="1210.6" y="802.2" width="1.8" height="1.8"/><rect x="1212.6" y="801.4" width="1.8" height="1.8"/><rect x="1214.6" y="802.8" width="1.8" height="1.8"/><rect x="1216.6" y="802" width="1.8" height="1.8"/><rect x="1218.6" y="801.1" width="1.8" height="1.8"/><rect x="1220.6" y="802" width="1.8" height="1.8"/><rect x="1222.6" y="802.2" width="1.8" height="1.8"/><rect x="1224.6" y="805.2" width="1.8" height="1.8"/><rect x="1226.6" y="802.6" width="1.8" height="1.8"/><rect x="1228.6" y="804.6" width="1.8" height="1.8"/><rect x="1230.6" y="803" width="1.8" height="1.8"/><rect x="1232.6" y="803.5" width="1.8" height="1.8"/><rect x="1234.6" y="804.9" width="1.8" height="1.8"/><rect x="1236.6" y="804.1" width="1.8" height="1.8"/><rect x="1238.6" y="807.7" width="1.8" height="1.8"/><rect x="1240.6" y="807.1" width="1.8" height="1.8"/><rect x="1242.6" y="804.2" width="1.8" height="1.8"/><rect x="1244.6" y="806.6" width="1.8" height="1.8"/><rect x="1246.6" y="808.1" width="1.8" height="1.8"/><rect x="1248.6" y="804.9" width="1.8" height="1.8"/><rect x="1250.6" y="806.2" width="1.8" height="1.8"/><rect x="1252.6" y="808.9" width="1.8" height="1.8"/><rect x="1254.6" y="806.2" width="1.8" height="1.8"/><rect x="1256.6" y="808.4" width="1.8" height="1.8"/><rect x="1258.6" y="807.8" width="1.8" height="1.8"/><rect x="1260.6" y="808.4" width="1.8" height="1.8"/><rect x="1262.6" y="807.1" width="1.8" height="1.8"/><rect x="1264.6" y="808.6" width="1.8" height="1.8"/><rect x="1266.6" y="808.5" width="1.8" height="1.8"/><rect x="1268.6" y="811.6" width="1.8" height="1.8"/><rect x="1270.6" y="810.4" width="1.8" height="1.8"/><rect x="1272.6" y="810.1" width="1.8" height="1.8"/><rect x="1274.6" y="810.2" width="1.8" height="1.8"/><rect x="1276.6" y="811.4" width="1.8" height="1.8"/><rect x="1278.6" y="808.8" width="1.8" height="1.8"/><rect x="1280.6" y="809.9" width="1.8" height="1.8"/><rect x="1282.6" y="810.3" width="1.8" height="1.8"/><rect x="1284.6" y="810.8" width="1.8" height="1.8"/><rect x="1286.6" y="810" width="1.8" height="1.8"/><rect x="1288.6" y="813.1" width="1.8" height="1.8"/><rect x="1290.6" y="812.2" width="1.8" height="1.8"/><rect x="1292.6" y="814.7" width="1.8" height="1.8"/><rect x="1294.6" y="813.3" width="1.8" height="1.8"/><rect x="1296.6" y="813.3" width="1.8" height="1.8"/><rect x="1298.6" y="814.7" width="1.8" height="1.8"/><rect x="1300.6" y="815" width="1.8" height="1.8"/><rect x="1302.6" y="814.4" width="1.8" height="1.8"/><rect x="1304.6" y="815.9" width="1.8" height="1.8"/><rect x="1306.6" y="817.1" width="1.8" height="1.8"/><rect x="1308.6" y="815.2" width="1.8" height="1.8"/><rect x="1310.6" y="817.8" width="1.8" height="1.8"/><rect x="1312.6" y="816.3" width="1.8" height="1.8"/><rect x="1314.6" y="818" width="1.8" height="1.8"/><rect x="1316.6" y="817.1" width="1.8" height="1.8"/><rect x="1318.6" y="817.1" width="1.8" height="1.8"/><rect x="1320.6" y="818.3" width="1.8" height="1.8"/><rect x="1322.6" y="816.8" width="1.8" height="1.8"/><rect x="1324.6" y="816.6" width="1.8" height="1.8"/><rect x="1326.6" y="818.9" width="1.8" height="1.8"/><rect x="1328.6" y="819" width="1.8" height="1.8"/><rect x="1330.6" y="818.2" width="1.8" height="1.8"/><rect x="1332.6" y="822.7" width="1.8" height="1.8"/><rect x="1334.6" y="820.9" width="1.8" height="1.8"/><rect x="1336.6" y="819.8" width="1.8" height="1.8"/><rect x="1338.6" y="821.7" width="1.8" height="1.8"/><rect x="1340.6" y="822.1" width="1.8" height="1.8"/><rect x="1342.6" y="821.3" width="1.8" height="1.8"/><rect x="1344.6" y="821.8" width="1.8" height="1.8"/><rect x="1346.6" y="820.1" width="1.8" height="1.8"/><rect x="1348.6" y="823.1" width="1.8" height="1.8"/><rect x="1350.6" y="825.6" width="1.8" height="1.8"/><rect x="1352.6" y="825" width="1.8" height="1.8"/><rect x="1354.6" y="825.2" width="1.8" height="1.8"/><rect x="1356.6" y="823.5" width="1.8" height="1.8"/><rect x="1358.6" y="823.2" width="1.8" height="1.8"/><rect x="1360.6" y="826.1" width="1.8" height="1.8"/><rect x="1362.6" y="825.7" width="1.8" height="1.8"/><rect x="1364.6" y="825.4" width="1.8" height="1.8"/><rect x="1366.6" y="825.6" width="1.8" height="1.8"/><rect x="1368.6" y="827.5" width="1.8" height="1.8"/><rect x="1370.6" y="827.5" width="1.8" height="1.8"/><rect x="1372.6" y="826.4" width="1.8" height="1.8"/><rect x="1374.6" y="827.2" width="1.8" height="1.8"/><rect x="1376.6" y="825.6" width="1.8" height="1.8"/><rect x="1378.6" y="826.5" width="1.8" height="1.8"/><rect x="1380.6" y="829.1" width="1.8" height="1.8"/><rect x="1382.6" y="828.1" width="1.8" height="1.8"/><rect x="1384.6" y="827.9" width="1.8" height="1.8"/><rect x="1386.6" y="829.7" width="1.8" height="1.8"/><rect x="1388.6" y="831.3" width="1.8" height="1.8"/><rect x="1390.6" y="829" width="1.8" height="1.8"/><rect x="1392.6" y="830" width="1.8" height="1.8"/><rect x="1394.6" y="830.4" width="1.8" height="1.8"/><rect x="1396.6" y="835.4" width="1.8" height="1.8"/><rect x="1398.6" y="831.8" width="1.8" height="1.8"/><rect x="1400.6" y="829.9" width="1.8" height="1.8"/><rect x="1402.6" y="833.1" width="1.8" height="1.8"/><rect x="1404.6" y="833.2" width="1.8" height="1.8"/><rect x="1406.6" y="832.5" width="1.8" height="1.8"/><rect x="1408.6" y="832.2" width="1.8" height="1.8"/><rect x="1410.6" y="832.9" width="1.8" height="1.8"/><rect x="1412.6" y="831.7" width="1.8" height="1.8"/><rect x="1414.6" y="833.6" width="1.8" height="1.8"/><rect x="1416.6" y="833.9" width="1.8" height="1.8"/><rect x="1418.6" y="833.7" width="1.8" height="1.8"/></g>
<path d="M907.5 719.8 L908.5 720.7 L909.5 721.6 L910.5 722.4 L911.5 723.3 L912.5 724.2 L913.5 725 L914.5 725.8 L915.5 726.7 L916.5 727.5 L917.5 728.3 L918.5 729.1 L919.5 729.8 L920.5 730.6 L921.5 731.3 L922.5 732.1 L923.5 732.8 L924.5 733.5 L925.5 734.2 L926.5 734.8 L927.5 735.5 L928.5 736.1 L929.5 736.7 L930.5 737.3 L931.5 737.9 L932.5 738.4 L933.5 739 L934.5 739.6 L935.5 740.1 L936.5 740.7 L937.5 741.2 L938.5 741.7 L939.5 742.2 L940.5 742.8 L941.5 743.3 L942.5 743.7 L943.5 744.2 L944.5 744.7 L945.5 745.2 L946.5 745.6 L947.5 746.1 L948.5 746.5 L949.5 747 L950.5 747.4 L951.5 747.8 L952.5 748.2 L953.5 748.6 L954.5 749 L955.5 749.3 L956.5 749.7 L957.5 750.1 L958.5 750.4 L959.5 750.7 L960.5 751.1 L961.5 751.4 L962.5 751.7 L963.5 752 L964.5 752.3 L965.5 752.6 L966.5 752.9 L967.5 753.2 L968.5 753.5 L969.5 753.7 L970.5 754 L971.5 754.3 L972.5 754.6 L973.5 754.8 L974.5 755.1 L975.5 755.3 L976.5 755.6 L977.5 755.8 L978.5 756.1 L979.5 756.3 L980.5 756.5 L981.5 756.8 L982.5 757 L983.5 757.3 L984.5 757.5 L985.5 757.7 L986.5 757.9 L987.5 758.2 L988.5 758.4 L989.5 758.6 L990.5 758.8 L991.5 759.1 L992.5 759.3 L993.5 759.5 L994.5 759.7 L995.5 760 L996.5 760.2 L997.5 760.4 L998.5 760.6 L999.5 760.9 L1000.5 761.1 L1001.5 761.3 L1002.5 761.5 L1003.5 761.8 L1004.5 762 L1005.5 762.2 L1006.5 762.5 L1007.5 762.7 L1008.5 763 L1009.5 763.2 L1010.5 763.5 L1011.5 763.7 L1012.5 764 L1013.5 764.2 L1014.5 764.5 L1015.5 764.7 L1016.5 765 L1017.5 765.3 L1018.5 765.5 L1019.5 765.8 L1020.5 766 L1021.5 766.3 L1022.5 766.5 L1023.5 766.8 L1024.5 767.1 L1025.5 767.3 L1026.5 767.6 L1027.5 767.8 L1028.5 768.1 L1029.5 768.3 L1030.5 768.6 L1031.5 768.9 L1032.5 769.1 L1033.5 769.4 L1034.5 769.6 L1035.5 769.9 L1036.5 770.1 L1037.5 770.4 L1038.5 770.6 L1039.5 770.9 L1040.5 771.2 L1041.5 771.4 L1042.5 771.7 L1043.5 771.9 L1044.5 772.1 L1045.5 772.4 L1046.5 772.6 L1047.5 772.9 L1048.5 773.1 L1049.5 773.4 L1050.5 773.6 L1051.5 773.9 L1052.5 774.1 L1053.5 774.3 L1054.5 774.6 L1055.5 774.8 L1056.5 775 L1057.5 775.2 L1058.5 775.5 L1059.5 775.7 L1060.5 775.9 L1061.5 776.1 L1062.5 776.4 L1063.5 776.6 L1064.5 776.8 L1065.5 777 L1066.5 777.2 L1067.5 777.4 L1068.5 777.7 L1069.5 777.9 L1070.5 778.1 L1071.5 778.3 L1072.5 778.5 L1073.5 778.7 L1074.5 778.9 L1075.5 779.1 L1076.5 779.3 L1077.5 779.5 L1078.5 779.7 L1079.5 779.9 L1080.5 780.1 L1081.5 780.3 L1082.5 780.5 L1083.5 780.7 L1084.5 780.9 L1085.5 781.1 L1086.5 781.3 L1087.5 781.5 L1088.5 781.7 L1089.5 781.9 L1090.5 782.1 L1091.5 782.3 L1092.5 782.5 L1093.5 782.7 L1094.5 782.9 L1095.5 783.1 L1096.5 783.3 L1097.5 783.5 L1098.5 783.6 L1099.5 783.8 L1100.5 784 L1101.5 784.2 L1102.5 784.4 L1103.5 784.6 L1104.5 784.8 L1105.5 785 L1106.5 785.2 L1107.5 785.4 L1108.5 785.5 L1109.5 785.7 L1110.5 785.9 L1111.5 786.1 L1112.5 786.3 L1113.5 786.5 L1114.5 786.7 L1115.5 786.9 L1116.5 787.1 L1117.5 787.3 L1118.5 787.5 L1119.5 787.6 L1120.5 787.8 L1121.5 788 L1122.5 788.2 L1123.5 788.4 L1124.5 788.6 L1125.5 788.8 L1126.5 789 L1127.5 789.2 L1128.5 789.4 L1129.5 789.5 L1130.5 789.7 L1131.5 789.9 L1132.5 790.1 L1133.5 790.3 L1134.5 790.5 L1135.5 790.7 L1136.5 790.9 L1137.5 791 L1138.5 791.2 L1139.5 791.4 L1140.5 791.6 L1141.5 791.8 L1142.5 792 L1143.5 792.1 L1144.5 792.3 L1145.5 792.5 L1146.5 792.7 L1147.5 792.9 L1148.5 793.1 L1149.5 793.2 L1150.5 793.4 L1151.5 793.6 L1152.5 793.8 L1153.5 793.9 L1154.5 794.1 L1155.5 794.3 L1156.5 794.5 L1157.5 794.6 L1158.5 794.8 L1159.5 795 L1160.5 795.1 L1161.5 795.3 L1162.5 795.5 L1163.5 795.6 L1164.5 795.8 L1165.5 796 L1166.5 796.1 L1167.5 796.3 L1168.5 796.5 L1169.5 796.6 L1170.5 796.8 L1171.5 796.9 L1172.5 797.1 L1173.5 797.2 L1174.5 797.4 L1175.5 797.6 L1176.5 797.7 L1177.5 797.9 L1178.5 798 L1179.5 798.2 L1180.5 798.3 L1181.5 798.5 L1182.5 798.6 L1183.5 798.7 L1184.5 798.9 L1185.5 799 L1186.5 799.2 L1187.5 799.3 L1188.5 799.5 L1189.5 799.6 L1190.5 799.7 L1191.5 799.9 L1192.5 800 L1193.5 800.2 L1194.5 800.3 L1195.5 800.4 L1196.5 800.6 L1197.5 800.7 L1198.5 800.9 L1199.5 801 L1200.5 801.1 L1201.5 801.3 L1202.5 801.4 L1203.5 801.5 L1204.5 801.7 L1205.5 801.8 L1206.5 801.9 L1207.5 802.1 L1208.5 802.2 L1209.5 802.3 L1210.5 802.5 L1211.5 802.6 L1212.5 802.7 L1213.5 802.8 L1214.5 803 L1215.5 803.1 L1216.5 803.2 L1217.5 803.4 L1218.5 803.5 L1219.5 803.6 L1220.5 803.8 L1221.5 803.9 L1222.5 804 L1223.5 804.1 L1224.5 804.3 L1225.5 804.4 L1226.5 804.5 L1227.5 804.7 L1228.5 804.8 L1229.5 804.9 L1230.5 805 L1231.5 805.2 L1232.5 805.3 L1233.5 805.4 L1234.5 805.6 L1235.5 805.7 L1236.5 805.8 L1237.5 806 L1238.5 806.1 L1239.5 806.2 L1240.5 806.3 L1241.5 806.5 L1242.5 806.6 L1243.5 806.7 L1244.5 806.9 L1245.5 807 L1246.5 807.1 L1247.5 807.3 L1248.5 807.4 L1249.5 807.5 L1250.5 807.7 L1251.5 807.8 L1252.5 808 L1253.5 808.1 L1254.5 808.2 L1255.5 808.4 L1256.5 808.5 L1257.5 808.6 L1258.5 808.8 L1259.5 808.9 L1260.5 809.1 L1261.5 809.2 L1262.5 809.4 L1263.5 809.5 L1264.5 809.6 L1265.5 809.8 L1266.5 809.9 L1267.5 810.1 L1268.5 810.2 L1269.5 810.4 L1270.5 810.5 L1271.5 810.7 L1272.5 810.8 L1273.5 811 L1274.5 811.1 L1275.5 811.3 L1276.5 811.5 L1277.5 811.6 L1278.5 811.8 L1279.5 811.9 L1280.5 812.1 L1281.5 812.2 L1282.5 812.4 L1283.5 812.6 L1284.5 812.7 L1285.5 812.9 L1286.5 813 L1287.5 813.2 L1288.5 813.4 L1289.5 813.5 L1290.5 813.7 L1291.5 813.9 L1292.5 814 L1293.5 814.2 L1294.5 814.4 L1295.5 814.5 L1296.5 814.7 L1297.5 814.9 L1298.5 815 L1299.5 815.2 L1300.5 815.4 L1301.5 815.5 L1302.5 815.7 L1303.5 815.9 L1304.5 816 L1305.5 816.2 L1306.5 816.4 L1307.5 816.6 L1308.5 816.7 L1309.5 816.9 L1310.5 817.1 L1311.5 817.2 L1312.5 817.4 L1313.5 817.6 L1314.5 817.8 L1315.5 817.9 L1316.5 818.1 L1317.5 818.3 L1318.5 818.5 L1319.5 818.6 L1320.5 818.8 L1321.5 819 L1322.5 819.2 L1323.5 819.3 L1324.5 819.5 L1325.5 819.7 L1326.5 819.9 L1327.5 820 L1328.5 820.2 L1329.5 820.4 L1330.5 820.6 L1331.5 820.8 L1332.5 820.9 L1333.5 821.1 L1334.5 821.3 L1335.5 821.5 L1336.5 821.6 L1337.5 821.8 L1338.5 822 L1339.5 822.2 L1340.5 822.3 L1341.5 822.5 L1342.5 822.7 L1343.5 822.9 L1344.5 823.1 L1345.5 823.2 L1346.5 823.4 L1347.5 823.6 L1348.5 823.8 L1349.5 823.9 L1350.5 824.1 L1351.5 824.3 L1352.5 824.5 L1353.5 824.6 L1354.5 824.8 L1355.5 825 L1356.5 825.2 L1357.5 825.3 L1358.5 825.5 L1359.5 825.7 L1360.5 825.9 L1361.5 826 L1362.5 826.2 L1363.5 826.4 L1364.5 826.6 L1365.5 826.7 L1366.5 826.9 L1367.5 827.1 L1368.5 827.2 L1369.5 827.4 L1370.5 827.6 L1371.5 827.8 L1372.5 827.9 L1373.5 828.1 L1374.5 828.3 L1375.5 828.4 L1376.5 828.6 L1377.5 828.8 L1378.5 828.9 L1379.5 829.1 L1380.5 829.3 L1381.5 829.5 L1382.5 829.6 L1383.5 829.8 L1384.5 830 L1385.5 830.1 L1386.5 830.3 L1387.5 830.5 L1388.5 830.6 L1389.5 830.8 L1390.5 831 L1391.5 831.2 L1392.5 831.3 L1393.5 831.5 L1394.5 831.7 L1395.5 831.8 L1396.5 832 L1397.5 832.2 L1398.5 832.3 L1399.5 832.5 L1400.5 832.7 L1401.5 832.9 L1402.5 833 L1403.5 833.2 L1404.5 833.4 L1405.5 833.5 L1406.5 833.7 L1407.5 833.9 L1408.5 834 L1409.5 834.2 L1410.5 834.4 L1411.5 834.6 L1412.5 834.7 L1413.5 834.9 L1414.5 835.1 L1415.5 835.2 L1416.5 835.4 L1417.5 835.6 L1418.5 835.7 L1419.5 835.9" fill="none" stroke="#FF0000" stroke-width="3.2" stroke-linecap="round"/>
<g fill="#800000"><rect x="904.8" y="750.2" width="1.8" height="1.8"/><rect x="906.8" y="749.9" width="1.8" height="1.8"/><rect x="908.8" y="755" width="1.8" height="1.8"/><rect x="910.8" y="754.7" width="1.8" height="1.8"/><rect x="912.8" y="754.7" width="1.8" height="1.8"/><rect x="914.8" y="758.6" width="1.8" height="1.8"/><rect x="916.8" y="759.6" width="1.8" height="1.8"/><rect x="918.8" y="759.5" width="1.8" height="1.8"/><rect x="920.8" y="759.6" width="1.8" height="1.8"/><rect x="922.8" y="762.4" width="1.8" height="1.8"/><rect x="924.8" y="764.3" width="1.8" height="1.8"/><rect x="926.8" y="765.6" width="1.8" height="1.8"/><rect x="928.8" y="767" width="1.8" height="1.8"/><rect x="930.8" y="767.9" width="1.8" height="1.8"/><rect x="932.8" y="765.7" width="1.8" height="1.8"/><rect x="934.8" y="768.7" width="1.8" height="1.8"/><rect x="936.8" y="766.9" width="1.8" height="1.8"/><rect x="938.8" y="771.6" width="1.8" height="1.8"/><rect x="940.8" y="771.7" width="1.8" height="1.8"/><rect x="942.8" y="773.2" width="1.8" height="1.8"/><rect x="944.8" y="772.8" width="1.8" height="1.8"/><rect x="946.8" y="773.5" width="1.8" height="1.8"/><rect x="948.8" y="773.5" width="1.8" height="1.8"/><rect x="950.8" y="771.2" width="1.8" height="1.8"/><rect x="952.8" y="779.1" width="1.8" height="1.8"/><rect x="954.8" y="776.1" width="1.8" height="1.8"/><rect x="956.8" y="777.5" width="1.8" height="1.8"/><rect x="958.8" y="778.4" width="1.8" height="1.8"/><rect x="960.8" y="777.7" width="1.8" height="1.8"/><rect x="962.8" y="779.2" width="1.8" height="1.8"/><rect x="964.8" y="780.3" width="1.8" height="1.8"/><rect x="966.8" y="779.9" width="1.8" height="1.8"/><rect x="968.8" y="781.8" width="1.8" height="1.8"/><rect x="970.8" y="783.5" width="1.8" height="1.8"/><rect x="972.8" y="783.6" width="1.8" height="1.8"/><rect x="974.8" y="783.5" width="1.8" height="1.8"/><rect x="976.8" y="783.6" width="1.8" height="1.8"/><rect x="978.8" y="785.4" width="1.8" height="1.8"/><rect x="980.8" y="784.3" width="1.8" height="1.8"/><rect x="982.8" y="784.8" width="1.8" height="1.8"/><rect x="984.8" y="788" width="1.8" height="1.8"/><rect x="986.8" y="786.4" width="1.8" height="1.8"/><rect x="988.8" y="785.7" width="1.8" height="1.8"/><rect x="990.8" y="789.2" width="1.8" height="1.8"/><rect x="992.8" y="789.6" width="1.8" height="1.8"/><rect x="994.8" y="790.7" width="1.8" height="1.8"/><rect x="996.8" y="789.6" width="1.8" height="1.8"/><rect x="998.8" y="791.8" width="1.8" height="1.8"/><rect x="1000.8" y="790.6" width="1.8" height="1.8"/><rect x="1002.8" y="790" width="1.8" height="1.8"/><rect x="1004.8" y="791.6" width="1.8" height="1.8"/><rect x="1006.8" y="792.7" width="1.8" height="1.8"/><rect x="1008.8" y="791.3" width="1.8" height="1.8"/><rect x="1010.8" y="793" width="1.8" height="1.8"/><rect x="1012.8" y="794.1" width="1.8" height="1.8"/><rect x="1014.8" y="793.6" width="1.8" height="1.8"/><rect x="1016.8" y="794.8" width="1.8" height="1.8"/><rect x="1018.8" y="795.1" width="1.8" height="1.8"/><rect x="1020.8" y="794.5" width="1.8" height="1.8"/><rect x="1022.8" y="796.4" width="1.8" height="1.8"/><rect x="1024.8" y="797.2" width="1.8" height="1.8"/><rect x="1026.8" y="794.2" width="1.8" height="1.8"/><rect x="1028.8" y="796.3" width="1.8" height="1.8"/><rect x="1030.8" y="798.7" width="1.8" height="1.8"/><rect x="1032.8" y="798.7" width="1.8" height="1.8"/><rect x="1034.8" y="795.9" width="1.8" height="1.8"/><rect x="1036.8" y="799.2" width="1.8" height="1.8"/><rect x="1038.8" y="801.1" width="1.8" height="1.8"/><rect x="1040.8" y="800.8" width="1.8" height="1.8"/><rect x="1042.8" y="801" width="1.8" height="1.8"/><rect x="1044.8" y="800.2" width="1.8" height="1.8"/><rect x="1046.8" y="800.9" width="1.8" height="1.8"/><rect x="1048.8" y="799.6" width="1.8" height="1.8"/><rect x="1050.8" y="801.5" width="1.8" height="1.8"/><rect x="1052.8" y="804.9" width="1.8" height="1.8"/><rect x="1054.8" y="801" width="1.8" height="1.8"/><rect x="1056.8" y="803.2" width="1.8" height="1.8"/><rect x="1058.8" y="800.2" width="1.8" height="1.8"/><rect x="1060.8" y="807.4" width="1.8" height="1.8"/><rect x="1062.8" y="803.9" width="1.8" height="1.8"/><rect x="1064.8" y="803.6" width="1.8" height="1.8"/><rect x="1066.8" y="803.8" width="1.8" height="1.8"/><rect x="1068.8" y="803.4" width="1.8" height="1.8"/><rect x="1070.8" y="805.1" width="1.8" height="1.8"/><rect x="1072.8" y="805.3" width="1.8" height="1.8"/><rect x="1074.8" y="803.5" width="1.8" height="1.8"/><rect x="1076.8" y="807.2" width="1.8" height="1.8"/><rect x="1078.8" y="805.7" width="1.8" height="1.8"/><rect x="1080.8" y="805.1" width="1.8" height="1.8"/><rect x="1082.8" y="808.1" width="1.8" height="1.8"/><rect x="1084.8" y="808.1" width="1.8" height="1.8"/><rect x="1086.8" y="806.7" width="1.8" height="1.8"/><rect x="1088.8" y="806.9" width="1.8" height="1.8"/><rect x="1090.8" y="809.5" width="1.8" height="1.8"/><rect x="1092.8" y="807.8" width="1.8" height="1.8"/><rect x="1094.8" y="808.9" width="1.8" height="1.8"/><rect x="1096.8" y="810.7" width="1.8" height="1.8"/><rect x="1098.8" y="807.5" width="1.8" height="1.8"/><rect x="1100.8" y="807.4" width="1.8" height="1.8"/><rect x="1102.8" y="808.6" width="1.8" height="1.8"/><rect x="1104.8" y="809.2" width="1.8" height="1.8"/><rect x="1106.8" y="810.2" width="1.8" height="1.8"/><rect x="1108.8" y="811.7" width="1.8" height="1.8"/><rect x="1110.8" y="810.1" width="1.8" height="1.8"/><rect x="1112.8" y="813.2" width="1.8" height="1.8"/><rect x="1114.8" y="811.4" width="1.8" height="1.8"/><rect x="1116.8" y="808.7" width="1.8" height="1.8"/><rect x="1118.8" y="811.5" width="1.8" height="1.8"/><rect x="1120.8" y="812.8" width="1.8" height="1.8"/><rect x="1122.8" y="813.5" width="1.8" height="1.8"/><rect x="1124.8" y="811.3" width="1.8" height="1.8"/><rect x="1126.8" y="812.3" width="1.8" height="1.8"/><rect x="1128.8" y="816.7" width="1.8" height="1.8"/><rect x="1130.8" y="811.6" width="1.8" height="1.8"/><rect x="1132.8" y="811" width="1.8" height="1.8"/><rect x="1134.8" y="812.6" width="1.8" height="1.8"/><rect x="1136.8" y="813.8" width="1.8" height="1.8"/><rect x="1138.8" y="812.1" width="1.8" height="1.8"/><rect x="1140.8" y="815.5" width="1.8" height="1.8"/><rect x="1142.8" y="812.9" width="1.8" height="1.8"/><rect x="1144.8" y="811.5" width="1.8" height="1.8"/><rect x="1146.8" y="815.1" width="1.8" height="1.8"/><rect x="1148.8" y="814.5" width="1.8" height="1.8"/><rect x="1150.8" y="814.3" width="1.8" height="1.8"/><rect x="1152.8" y="816.5" width="1.8" height="1.8"/><rect x="1154.8" y="814.2" width="1.8" height="1.8"/><rect x="1156.8" y="816.1" width="1.8" height="1.8"/><rect x="1158.8" y="814.6" width="1.8" height="1.8"/><rect x="1160.8" y="817.7" width="1.8" height="1.8"/><rect x="1162.8" y="815.8" width="1.8" height="1.8"/><rect x="1164.8" y="816" width="1.8" height="1.8"/><rect x="1166.8" y="817" width="1.8" height="1.8"/><rect x="1168.8" y="816.3" width="1.8" height="1.8"/><rect x="1170.8" y="817.2" width="1.8" height="1.8"/><rect x="1172.8" y="816.5" width="1.8" height="1.8"/><rect x="1174.8" y="817.9" width="1.8" height="1.8"/><rect x="1176.8" y="817.3" width="1.8" height="1.8"/><rect x="1178.8" y="816.8" width="1.8" height="1.8"/><rect x="1180.8" y="818.5" width="1.8" height="1.8"/><rect x="1182.8" y="818.6" width="1.8" height="1.8"/><rect x="1184.8" y="816.8" width="1.8" height="1.8"/><rect x="1186.8" y="818" width="1.8" height="1.8"/><rect x="1188.8" y="816.4" width="1.8" height="1.8"/><rect x="1190.8" y="819" width="1.8" height="1.8"/><rect x="1192.8" y="820.2" width="1.8" height="1.8"/><rect x="1194.8" y="823.9" width="1.8" height="1.8"/><rect x="1196.8" y="821" width="1.8" height="1.8"/><rect x="1198.8" y="821.8" width="1.8" height="1.8"/><rect x="1200.8" y="821.1" width="1.8" height="1.8"/><rect x="1202.8" y="817.9" width="1.8" height="1.8"/><rect x="1204.8" y="820" width="1.8" height="1.8"/><rect x="1206.8" y="821.3" width="1.8" height="1.8"/><rect x="1208.8" y="821.5" width="1.8" height="1.8"/><rect x="1210.8" y="821.5" width="1.8" height="1.8"/><rect x="1212.8" y="820.4" width="1.8" height="1.8"/><rect x="1214.8" y="819.4" width="1.8" height="1.8"/><rect x="1216.8" y="822.6" width="1.8" height="1.8"/><rect x="1218.8" y="823.9" width="1.8" height="1.8"/><rect x="1220.8" y="822" width="1.8" height="1.8"/><rect x="1222.8" y="823.6" width="1.8" height="1.8"/><rect x="1224.8" y="822.4" width="1.8" height="1.8"/><rect x="1226.8" y="823.2" width="1.8" height="1.8"/><rect x="1228.8" y="822.8" width="1.8" height="1.8"/><rect x="1230.8" y="824.9" width="1.8" height="1.8"/><rect x="1232.8" y="822.9" width="1.8" height="1.8"/><rect x="1234.8" y="824.5" width="1.8" height="1.8"/><rect x="1236.8" y="825.8" width="1.8" height="1.8"/><rect x="1238.8" y="824.8" width="1.8" height="1.8"/><rect x="1240.8" y="823.5" width="1.8" height="1.8"/><rect x="1242.8" y="825.9" width="1.8" height="1.8"/><rect x="1244.8" y="825.4" width="1.8" height="1.8"/><rect x="1246.8" y="824.1" width="1.8" height="1.8"/><rect x="1248.8" y="825.8" width="1.8" height="1.8"/><rect x="1250.8" y="825.9" width="1.8" height="1.8"/><rect x="1252.8" y="827.4" width="1.8" height="1.8"/><rect x="1254.8" y="826.2" width="1.8" height="1.8"/><rect x="1256.8" y="827.2" width="1.8" height="1.8"/><rect x="1258.8" y="828.1" width="1.8" height="1.8"/><rect x="1260.8" y="825" width="1.8" height="1.8"/><rect x="1262.8" y="829.1" width="1.8" height="1.8"/><rect x="1264.8" y="828" width="1.8" height="1.8"/><rect x="1266.8" y="826.9" width="1.8" height="1.8"/><rect x="1268.8" y="828.7" width="1.8" height="1.8"/><rect x="1270.8" y="830.1" width="1.8" height="1.8"/><rect x="1272.8" y="828.1" width="1.8" height="1.8"/><rect x="1274.8" y="828.5" width="1.8" height="1.8"/><rect x="1276.8" y="831.3" width="1.8" height="1.8"/><rect x="1278.8" y="831.8" width="1.8" height="1.8"/><rect x="1280.8" y="832.6" width="1.8" height="1.8"/><rect x="1282.8" y="830.2" width="1.8" height="1.8"/><rect x="1284.8" y="829.2" width="1.8" height="1.8"/><rect x="1286.8" y="829.4" width="1.8" height="1.8"/><rect x="1288.8" y="830.5" width="1.8" height="1.8"/><rect x="1290.8" y="829.8" width="1.8" height="1.8"/><rect x="1292.8" y="831.9" width="1.8" height="1.8"/><rect x="1294.8" y="833.3" width="1.8" height="1.8"/><rect x="1296.8" y="830.4" width="1.8" height="1.8"/><rect x="1298.8" y="834" width="1.8" height="1.8"/></g>
<path d="M905.7 751.7 L906.7 752.4 L907.7 753.2 L908.7 753.9 L909.7 754.6 L910.7 755.3 L911.7 756 L912.7 756.7 L913.7 757.4 L914.7 758 L915.7 758.7 L916.7 759.3 L917.7 760 L918.7 760.6 L919.7 761.2 L920.7 761.9 L921.7 762.5 L922.7 763 L923.7 763.6 L924.7 764.2 L925.7 764.8 L926.7 765.3 L927.7 765.8 L928.7 766.3 L929.7 766.9 L930.7 767.3 L931.7 767.8 L932.7 768.3 L933.7 768.8 L934.7 769.2 L935.7 769.7 L936.7 770.1 L937.7 770.6 L938.7 771 L939.7 771.4 L940.7 771.8 L941.7 772.2 L942.7 772.7 L943.7 773.1 L944.7 773.4 L945.7 773.8 L946.7 774.2 L947.7 774.6 L948.7 775 L949.7 775.3 L950.7 775.7 L951.7 776.1 L952.7 776.4 L953.7 776.8 L954.7 777.2 L955.7 777.5 L956.7 777.9 L957.7 778.2 L958.7 778.6 L959.7 778.9 L960.7 779.3 L961.7 779.6 L962.7 780 L963.7 780.3 L964.7 780.6 L965.7 781 L966.7 781.3 L967.7 781.6 L968.7 782 L969.7 782.3 L970.7 782.6 L971.7 783 L972.7 783.3 L973.7 783.6 L974.7 783.9 L975.7 784.3 L976.7 784.6 L977.7 784.9 L978.7 785.2 L979.7 785.5 L980.7 785.8 L981.7 786.2 L982.7 786.5 L983.7 786.8 L984.7 787.1 L985.7 787.4 L986.7 787.7 L987.7 788 L988.7 788.3 L989.7 788.6 L990.7 788.8 L991.7 789.1 L992.7 789.4 L993.7 789.7 L994.7 790 L995.7 790.3 L996.7 790.5 L997.7 790.8 L998.7 791.1 L999.7 791.3 L1000.7 791.6 L1001.7 791.9 L1002.7 792.1 L1003.7 792.4 L1004.7 792.6 L1005.7 792.9 L1006.7 793.1 L1007.7 793.4 L1008.7 793.6 L1009.7 793.9 L1010.7 794.1 L1011.7 794.3 L1012.7 794.6 L1013.7 794.8 L1014.7 795 L1015.7 795.3 L1016.7 795.5 L1017.7 795.7 L1018.7 796 L1019.7 796.2 L1020.7 796.4 L1021.7 796.6 L1022.7 796.8 L1023.7 797 L1024.7 797.3 L1025.7 797.5 L1026.7 797.7 L1027.7 797.9 L1028.7 798.1 L1029.7 798.3 L1030.7 798.5 L1031.7 798.7 L1032.7 798.9 L1033.7 799.1 L1034.7 799.3 L1035.7 799.5 L1036.7 799.7 L1037.7 799.9 L1038.7 800.1 L1039.7 800.3 L1040.7 800.5 L1041.7 800.7 L1042.7 800.8 L1043.7 801 L1044.7 801.2 L1045.7 801.4 L1046.7 801.6 L1047.7 801.8 L1048.7 801.9 L1049.7 802.1 L1050.7 802.3 L1051.7 802.5 L1052.7 802.7 L1053.7 802.8 L1054.7 803 L1055.7 803.2 L1056.7 803.4 L1057.7 803.5 L1058.7 803.7 L1059.7 803.9 L1060.7 804.1 L1061.7 804.2 L1062.7 804.4 L1063.7 804.6 L1064.7 804.7 L1065.7 804.9 L1066.7 805.1 L1067.7 805.2 L1068.7 805.4 L1069.7 805.6 L1070.7 805.7 L1071.7 805.9 L1072.7 806.1 L1073.7 806.2 L1074.7 806.4 L1075.7 806.5 L1076.7 806.7 L1077.7 806.9 L1078.7 807 L1079.7 807.2 L1080.7 807.3 L1081.7 807.5 L1082.7 807.6 L1083.7 807.8 L1084.7 808 L1085.7 808.1 L1086.7 808.3 L1087.7 808.4 L1088.7 808.6 L1089.7 808.7 L1090.7 808.8 L1091.7 809 L1092.7 809.1 L1093.7 809.3 L1094.7 809.4 L1095.7 809.6 L1096.7 809.7 L1097.7 809.8 L1098.7 810 L1099.7 810.1 L1100.7 810.2 L1101.7 810.4 L1102.7 810.5 L1103.7 810.6 L1104.7 810.8 L1105.7 810.9 L1106.7 811 L1107.7 811.2 L1108.7 811.3 L1109.7 811.4 L1110.7 811.5 L1111.7 811.6 L1112.7 811.8 L1113.7 811.9 L1114.7 812 L1115.7 812.1 L1116.7 812.2 L1117.7 812.3 L1118.7 812.4 L1119.7 812.5 L1120.7 812.6 L1121.7 812.7 L1122.7 812.8 L1123.7 812.9 L1124.7 813 L1125.7 813.1 L1126.7 813.2 L1127.7 813.3 L1128.7 813.4 L1129.7 813.5 L1130.7 813.6 L1131.7 813.7 L1132.7 813.8 L1133.7 813.9 L1134.7 814 L1135.7 814.1 L1136.7 814.2 L1137.7 814.3 L1138.7 814.4 L1139.7 814.4 L1140.7 814.5 L1141.7 814.6 L1142.7 814.7 L1143.7 814.8 L1144.7 814.9 L1145.7 815 L1146.7 815.1 L1147.7 815.2 L1148.7 815.2 L1149.7 815.3 L1150.7 815.4 L1151.7 815.5 L1152.7 815.6 L1153.7 815.7 L1154.7 815.8 L1155.7 815.9 L1156.7 816 L1157.7 816.1 L1158.7 816.2 L1159.7 816.3 L1160.7 816.4 L1161.7 816.5 L1162.7 816.6 L1163.7 816.6 L1164.7 816.7 L1165.7 816.9 L1166.7 817 L1167.7 817.1 L1168.7 817.2 L1169.7 817.3 L1170.7 817.4 L1171.7 817.5 L1172.7 817.6 L1173.7 817.7 L1174.7 817.8 L1175.7 817.9 L1176.7 818 L1177.7 818.1 L1178.7 818.3 L1179.7 818.4 L1180.7 818.5 L1181.7 818.6 L1182.7 818.7 L1183.7 818.8 L1184.7 818.9 L1185.7 819.1 L1186.7 819.2 L1187.7 819.3 L1188.7 819.4 L1189.7 819.5 L1190.7 819.6 L1191.7 819.8 L1192.7 819.9 L1193.7 820 L1194.7 820.1 L1195.7 820.2 L1196.7 820.4 L1197.7 820.5 L1198.7 820.6 L1199.7 820.7 L1200.7 820.9 L1201.7 821 L1202.7 821.1 L1203.7 821.2 L1204.7 821.3 L1205.7 821.5 L1206.7 821.6 L1207.7 821.7 L1208.7 821.8 L1209.7 822 L1210.7 822.1 L1211.7 822.2 L1212.7 822.3 L1213.7 822.5 L1214.7 822.6 L1215.7 822.7 L1216.7 822.8 L1217.7 823 L1218.7 823.1 L1219.7 823.2 L1220.7 823.3 L1221.7 823.5 L1222.7 823.6 L1223.7 823.7 L1224.7 823.8 L1225.7 824 L1226.7 824.1 L1227.7 824.2 L1228.7 824.4 L1229.7 824.5 L1230.7 824.6 L1231.7 824.7 L1232.7 824.9 L1233.7 825 L1234.7 825.1 L1235.7 825.2 L1236.7 825.4 L1237.7 825.5 L1238.7 825.6 L1239.7 825.7 L1240.7 825.9 L1241.7 826 L1242.7 826.1 L1243.7 826.2 L1244.7 826.4 L1245.7 826.5 L1246.7 826.6 L1247.7 826.7 L1248.7 826.8 L1249.7 827 L1250.7 827.1 L1251.7 827.2 L1252.7 827.3 L1253.7 827.5 L1254.7 827.6 L1255.7 827.7 L1256.7 827.8 L1257.7 827.9 L1258.7 828.1 L1259.7 828.2 L1260.7 828.3 L1261.7 828.4 L1262.7 828.5 L1263.7 828.7 L1264.7 828.8 L1265.7 828.9 L1266.7 829 L1267.7 829.1 L1268.7 829.3 L1269.7 829.4 L1270.7 829.5 L1271.7 829.6 L1272.7 829.7 L1273.7 829.9 L1274.7 830 L1275.7 830.1 L1276.7 830.2 L1277.7 830.3 L1278.7 830.5 L1279.7 830.6 L1280.7 830.7 L1281.7 830.8 L1282.7 830.9 L1283.7 831.1 L1284.7 831.2 L1285.7 831.3 L1286.7 831.4 L1287.7 831.5 L1288.7 831.7 L1289.7 831.8 L1290.7 831.9 L1291.7 832 L1292.7 832.1 L1293.7 832.2 L1294.7 832.4 L1295.7 832.5 L1296.7 832.6 L1297.7 832.7 L1298.7 832.8 L1299.7 833" fill="none" stroke="#800000" stroke-width="3.2" stroke-linecap="round"/>
<g fill="#008000"><rect x="907.3" y="795.9" width="1.8" height="1.8"/><rect x="909.3" y="797.6" width="1.8" height="1.8"/><rect x="911.3" y="797.8" width="1.8" height="1.8"/><rect x="913.3" y="802.6" width="1.8" height="1.8"/><rect x="915.3" y="802.4" width="1.8" height="1.8"/><rect x="917.3" y="803.8" width="1.8" height="1.8"/><rect x="919.3" y="798.2" width="1.8" height="1.8"/><rect x="921.3" y="806.6" width="1.8" height="1.8"/><rect x="923.3" y="800.8" width="1.8" height="1.8"/><rect x="925.3" y="808.8" width="1.8" height="1.8"/><rect x="927.3" y="811.1" width="1.8" height="1.8"/><rect x="929.3" y="809.7" width="1.8" height="1.8"/><rect x="931.3" y="812.7" width="1.8" height="1.8"/><rect x="933.3" y="814.2" width="1.8" height="1.8"/><rect x="935.3" y="818.9" width="1.8" height="1.8"/><rect x="937.3" y="817.2" width="1.8" height="1.8"/><rect x="939.3" y="812.8" width="1.8" height="1.8"/><rect x="941.3" y="815.6" width="1.8" height="1.8"/><rect x="943.3" y="815.5" width="1.8" height="1.8"/><rect x="945.3" y="816.6" width="1.8" height="1.8"/><rect x="947.3" y="814.4" width="1.8" height="1.8"/><rect x="949.3" y="817.8" width="1.8" height="1.8"/><rect x="951.3" y="817" width="1.8" height="1.8"/><rect x="953.3" y="819.3" width="1.8" height="1.8"/><rect x="955.3" y="820.7" width="1.8" height="1.8"/><rect x="957.3" y="821" width="1.8" height="1.8"/><rect x="959.3" y="821.4" width="1.8" height="1.8"/><rect x="961.3" y="824.5" width="1.8" height="1.8"/><rect x="963.3" y="823.3" width="1.8" height="1.8"/><rect x="965.3" y="824.3" width="1.8" height="1.8"/><rect x="967.3" y="826.1" width="1.8" height="1.8"/><rect x="969.3" y="824.3" width="1.8" height="1.8"/><rect x="971.3" y="825.2" width="1.8" height="1.8"/><rect x="973.3" y="826.7" width="1.8" height="1.8"/><rect x="975.3" y="825.6" width="1.8" height="1.8"/><rect x="977.3" y="828.7" width="1.8" height="1.8"/><rect x="979.3" y="826" width="1.8" height="1.8"/><rect x="981.3" y="827.2" width="1.8" height="1.8"/><rect x="983.3" y="827.9" width="1.8" height="1.8"/><rect x="985.3" y="828" width="1.8" height="1.8"/><rect x="987.3" y="829" width="1.8" height="1.8"/><rect x="989.3" y="828.7" width="1.8" height="1.8"/><rect x="991.3" y="826" width="1.8" height="1.8"/><rect x="993.3" y="829.7" width="1.8" height="1.8"/><rect x="995.3" y="832.1" width="1.8" height="1.8"/><rect x="997.3" y="829.5" width="1.8" height="1.8"/><rect x="999.3" y="832.7" width="1.8" height="1.8"/><rect x="1001.3" y="830" width="1.8" height="1.8"/><rect x="1003.3" y="835" width="1.8" height="1.8"/><rect x="1005.3" y="832.8" width="1.8" height="1.8"/><rect x="1007.3" y="832.7" width="1.8" height="1.8"/><rect x="1009.3" y="827.2" width="1.8" height="1.8"/><rect x="1011.3" y="839.4" width="1.8" height="1.8"/><rect x="1013.3" y="833.8" width="1.8" height="1.8"/><rect x="1015.3" y="834" width="1.8" height="1.8"/><rect x="1017.3" y="834.4" width="1.8" height="1.8"/><rect x="1019.3" y="834.9" width="1.8" height="1.8"/><rect x="1021.3" y="837.8" width="1.8" height="1.8"/><rect x="1023.3" y="835.8" width="1.8" height="1.8"/><rect x="1025.3" y="836.2" width="1.8" height="1.8"/><rect x="1027.3" y="836" width="1.8" height="1.8"/><rect x="1029.3" y="835.8" width="1.8" height="1.8"/><rect x="1031.3" y="838.6" width="1.8" height="1.8"/><rect x="1033.3" y="837.6" width="1.8" height="1.8"/><rect x="1035.3" y="838" width="1.8" height="1.8"/><rect x="1037.3" y="839.5" width="1.8" height="1.8"/><rect x="1039.3" y="839.4" width="1.8" height="1.8"/><rect x="1041.3" y="841" width="1.8" height="1.8"/><rect x="1043.3" y="841.2" width="1.8" height="1.8"/><rect x="1045.3" y="838.1" width="1.8" height="1.8"/><rect x="1047.3" y="839.3" width="1.8" height="1.8"/><rect x="1049.3" y="842.6" width="1.8" height="1.8"/><rect x="1051.3" y="840.7" width="1.8" height="1.8"/><rect x="1053.3" y="842.7" width="1.8" height="1.8"/><rect x="1055.3" y="840.5" width="1.8" height="1.8"/><rect x="1057.3" y="838.2" width="1.8" height="1.8"/><rect x="1059.3" y="841.4" width="1.8" height="1.8"/><rect x="1061.3" y="842.2" width="1.8" height="1.8"/><rect x="1063.3" y="847.2" width="1.8" height="1.8"/><rect x="1065.3" y="844.7" width="1.8" height="1.8"/><rect x="1067.3" y="845.4" width="1.8" height="1.8"/><rect x="1069.3" y="841.5" width="1.8" height="1.8"/><rect x="1071.3" y="844.6" width="1.8" height="1.8"/><rect x="1073.3" y="844.7" width="1.8" height="1.8"/><rect x="1075.3" y="848.4" width="1.8" height="1.8"/><rect x="1077.3" y="844.3" width="1.8" height="1.8"/><rect x="1079.3" y="843.3" width="1.8" height="1.8"/><rect x="1081.3" y="846.2" width="1.8" height="1.8"/><rect x="1083.3" y="846" width="1.8" height="1.8"/><rect x="1085.3" y="846.8" width="1.8" height="1.8"/><rect x="1087.3" y="847.4" width="1.8" height="1.8"/><rect x="1089.3" y="847.5" width="1.8" height="1.8"/><rect x="1091.3" y="846.5" width="1.8" height="1.8"/><rect x="1093.3" y="847.1" width="1.8" height="1.8"/><rect x="1095.3" y="853.6" width="1.8" height="1.8"/><rect x="1097.3" y="849.3" width="1.8" height="1.8"/><rect x="1099.3" y="847.1" width="1.8" height="1.8"/><rect x="1101.3" y="846.1" width="1.8" height="1.8"/><rect x="1103.3" y="850.8" width="1.8" height="1.8"/><rect x="1105.3" y="849.9" width="1.8" height="1.8"/><rect x="1107.3" y="852.1" width="1.8" height="1.8"/><rect x="1109.3" y="852" width="1.8" height="1.8"/><rect x="1111.3" y="850.9" width="1.8" height="1.8"/><rect x="1113.3" y="849.5" width="1.8" height="1.8"/><rect x="1115.3" y="854.3" width="1.8" height="1.8"/><rect x="1117.3" y="851.5" width="1.8" height="1.8"/><rect x="1119.3" y="856.8" width="1.8" height="1.8"/><rect x="1121.3" y="853.5" width="1.8" height="1.8"/><rect x="1123.3" y="853.3" width="1.8" height="1.8"/><rect x="1125.3" y="853.4" width="1.8" height="1.8"/><rect x="1127.3" y="852.5" width="1.8" height="1.8"/><rect x="1129.3" y="857.1" width="1.8" height="1.8"/><rect x="1131.3" y="850.9" width="1.8" height="1.8"/><rect x="1133.3" y="854.2" width="1.8" height="1.8"/><rect x="1135.3" y="852.9" width="1.8" height="1.8"/><rect x="1137.3" y="855.9" width="1.8" height="1.8"/><rect x="1139.3" y="854.2" width="1.8" height="1.8"/><rect x="1141.3" y="856.8" width="1.8" height="1.8"/><rect x="1143.3" y="855.2" width="1.8" height="1.8"/><rect x="1145.3" y="854" width="1.8" height="1.8"/><rect x="1147.3" y="855.1" width="1.8" height="1.8"/><rect x="1149.3" y="857" width="1.8" height="1.8"/><rect x="1151.3" y="855.1" width="1.8" height="1.8"/><rect x="1153.3" y="855" width="1.8" height="1.8"/><rect x="1155.3" y="856.3" width="1.8" height="1.8"/><rect x="1157.3" y="857.4" width="1.8" height="1.8"/><rect x="1159.3" y="859.2" width="1.8" height="1.8"/><rect x="1161.3" y="858.1" width="1.8" height="1.8"/><rect x="1163.3" y="859" width="1.8" height="1.8"/><rect x="1165.3" y="857.5" width="1.8" height="1.8"/><rect x="1167.3" y="861.2" width="1.8" height="1.8"/><rect x="1169.3" y="863.6" width="1.8" height="1.8"/><rect x="1171.3" y="859" width="1.8" height="1.8"/><rect x="1173.3" y="858.6" width="1.8" height="1.8"/><rect x="1175.3" y="859.6" width="1.8" height="1.8"/><rect x="1177.3" y="858.7" width="1.8" height="1.8"/><rect x="1179.3" y="858.3" width="1.8" height="1.8"/><rect x="1181.3" y="857.5" width="1.8" height="1.8"/><rect x="1183.3" y="859" width="1.8" height="1.8"/><rect x="1185.3" y="860.1" width="1.8" height="1.8"/><rect x="1187.3" y="862" width="1.8" height="1.8"/><rect x="1189.3" y="861.4" width="1.8" height="1.8"/><rect x="1191.3" y="860" width="1.8" height="1.8"/><rect x="1193.3" y="859.8" width="1.8" height="1.8"/><rect x="1195.3" y="858.6" width="1.8" height="1.8"/><rect x="1197.3" y="862.4" width="1.8" height="1.8"/></g>
<path d="M908.2 798.3 L909.2 799 L910.2 799.6 L911.2 800.3 L912.2 800.9 L913.2 801.6 L914.2 802.2 L915.2 802.8 L916.2 803.5 L917.2 804.1 L918.2 804.7 L919.2 805.3 L920.2 805.9 L921.2 806.4 L922.2 807 L923.2 807.6 L924.2 808.1 L925.2 808.6 L926.2 809.1 L927.2 809.6 L928.2 810.1 L929.2 810.6 L930.2 811.1 L931.2 811.6 L932.2 812 L933.2 812.4 L934.2 812.9 L935.2 813.3 L936.2 813.7 L937.2 814.2 L938.2 814.6 L939.2 815 L940.2 815.4 L941.2 815.8 L942.2 816.2 L943.2 816.6 L944.2 816.9 L945.2 817.3 L946.2 817.7 L947.2 818 L948.2 818.4 L949.2 818.8 L950.2 819.1 L951.2 819.4 L952.2 819.8 L953.2 820.1 L954.2 820.4 L955.2 820.8 L956.2 821.1 L957.2 821.4 L958.2 821.7 L959.2 822 L960.2 822.3 L961.2 822.6 L962.2 822.9 L963.2 823.2 L964.2 823.5 L965.2 823.8 L966.2 824.1 L967.2 824.4 L968.2 824.6 L969.2 824.9 L970.2 825.2 L971.2 825.5 L972.2 825.8 L973.2 826 L974.2 826.3 L975.2 826.6 L976.2 826.8 L977.2 827.1 L978.2 827.3 L979.2 827.6 L980.2 827.9 L981.2 828.1 L982.2 828.4 L983.2 828.6 L984.2 828.8 L985.2 829.1 L986.2 829.3 L987.2 829.6 L988.2 829.8 L989.2 830.1 L990.2 830.3 L991.2 830.5 L992.2 830.8 L993.2 831 L994.2 831.2 L995.2 831.4 L996.2 831.7 L997.2 831.9 L998.2 832.1 L999.2 832.3 L1000.2 832.5 L1001.2 832.8 L1002.2 833 L1003.2 833.2 L1004.2 833.4 L1005.2 833.6 L1006.2 833.8 L1007.2 834 L1008.2 834.3 L1009.2 834.5 L1010.2 834.7 L1011.2 834.9 L1012.2 835.1 L1013.2 835.3 L1014.2 835.5 L1015.2 835.7 L1016.2 835.9 L1017.2 836.1 L1018.2 836.3 L1019.2 836.4 L1020.2 836.6 L1021.2 836.8 L1022.2 837 L1023.2 837.2 L1024.2 837.4 L1025.2 837.6 L1026.2 837.7 L1027.2 837.9 L1028.2 838.1 L1029.2 838.3 L1030.2 838.5 L1031.2 838.6 L1032.2 838.8 L1033.2 839 L1034.2 839.2 L1035.2 839.3 L1036.2 839.5 L1037.2 839.7 L1038.2 839.9 L1039.2 840 L1040.2 840.2 L1041.2 840.4 L1042.2 840.5 L1043.2 840.7 L1044.2 840.9 L1045.2 841 L1046.2 841.2 L1047.2 841.4 L1048.2 841.5 L1049.2 841.7 L1050.2 841.8 L1051.2 842 L1052.2 842.2 L1053.2 842.3 L1054.2 842.5 L1055.2 842.7 L1056.2 842.8 L1057.2 843 L1058.2 843.1 L1059.2 843.3 L1060.2 843.5 L1061.2 843.6 L1062.2 843.8 L1063.2 844 L1064.2 844.1 L1065.2 844.3 L1066.2 844.4 L1067.2 844.6 L1068.2 844.7 L1069.2 844.9 L1070.2 845.1 L1071.2 845.2 L1072.2 845.4 L1073.2 845.5 L1074.2 845.7 L1075.2 845.8 L1076.2 846 L1077.2 846.1 L1078.2 846.3 L1079.2 846.4 L1080.2 846.6 L1081.2 846.7 L1082.2 846.9 L1083.2 847 L1084.2 847.2 L1085.2 847.3 L1086.2 847.5 L1087.2 847.6 L1088.2 847.8 L1089.2 847.9 L1090.2 848.1 L1091.2 848.2 L1092.2 848.4 L1093.2 848.5 L1094.2 848.7 L1095.2 848.8 L1096.2 848.9 L1097.2 849.1 L1098.2 849.2 L1099.2 849.4 L1100.2 849.5 L1101.2 849.7 L1102.2 849.8 L1103.2 849.9 L1104.2 850.1 L1105.2 850.2 L1106.2 850.4 L1107.2 850.5 L1108.2 850.7 L1109.2 850.8 L1110.2 850.9 L1111.2 851.1 L1112.2 851.2 L1113.2 851.4 L1114.2 851.5 L1115.2 851.6 L1116.2 851.8 L1117.2 851.9 L1118.2 852 L1119.2 852.2 L1120.2 852.3 L1121.2 852.5 L1122.2 852.6 L1123.2 852.7 L1124.2 852.9 L1125.2 853 L1126.2 853.2 L1127.2 853.3 L1128.2 853.4 L1129.2 853.6 L1130.2 853.7 L1131.2 853.8 L1132.2 854 L1133.2 854.1 L1134.2 854.3 L1135.2 854.4 L1136.2 854.5 L1137.2 854.7 L1138.2 854.8 L1139.2 854.9 L1140.2 855.1 L1141.2 855.2 L1142.2 855.3 L1143.2 855.5 L1144.2 855.6 L1145.2 855.7 L1146.2 855.9 L1147.2 856 L1148.2 856.1 L1149.2 856.3 L1150.2 856.4 L1151.2 856.5 L1152.2 856.6 L1153.2 856.8 L1154.2 856.9 L1155.2 857 L1156.2 857.2 L1157.2 857.3 L1158.2 857.4 L1159.2 857.5 L1160.2 857.7 L1161.2 857.8 L1162.2 857.9 L1163.2 858 L1164.2 858.2 L1165.2 858.3 L1166.2 858.4 L1167.2 858.5 L1168.2 858.6 L1169.2 858.8 L1170.2 858.9 L1171.2 859 L1172.2 859.1 L1173.2 859.2 L1174.2 859.3 L1175.2 859.5 L1176.2 859.6 L1177.2 859.7 L1178.2 859.8 L1179.2 859.9 L1180.2 860 L1181.2 860.1 L1182.2 860.2 L1183.2 860.3 L1184.2 860.5 L1185.2 860.6 L1186.2 860.7 L1187.2 860.8 L1188.2 860.9 L1189.2 861 L1190.2 861.1 L1191.2 861.2 L1192.2 861.3 L1193.2 861.4 L1194.2 861.5 L1195.2 861.5 L1196.2 861.6 L1197.2 861.7 L1198.2 861.8 L1199.2 861.9" fill="none" stroke="#008000" stroke-width="3.2" stroke-linecap="round"/>
<g fill="#FF0080"><rect x="905.8" y="845.7" width="1.8" height="1.8"/><rect x="907.8" y="848.2" width="1.8" height="1.8"/><rect x="909.8" y="849.9" width="1.8" height="1.8"/><rect x="911.8" y="851" width="1.8" height="1.8"/><rect x="913.8" y="851.1" width="1.8" height="1.8"/><rect x="915.8" y="852.1" width="1.8" height="1.8"/><rect x="917.8" y="852.1" width="1.8" height="1.8"/><rect x="919.8" y="854.1" width="1.8" height="1.8"/><rect x="921.8" y="857.4" width="1.8" height="1.8"/><rect x="923.8" y="862.1" width="1.8" height="1.8"/><rect x="925.8" y="859.4" width="1.8" height="1.8"/><rect x="927.8" y="868.9" width="1.8" height="1.8"/><rect x="929.8" y="861.3" width="1.8" height="1.8"/><rect x="931.8" y="861.6" width="1.8" height="1.8"/><rect x="933.8" y="863.4" width="1.8" height="1.8"/><rect x="935.8" y="863.9" width="1.8" height="1.8"/><rect x="937.8" y="861.6" width="1.8" height="1.8"/><rect x="939.8" y="867.9" width="1.8" height="1.8"/><rect x="941.8" y="863.7" width="1.8" height="1.8"/><rect x="943.8" y="866.9" width="1.8" height="1.8"/><rect x="945.8" y="867.9" width="1.8" height="1.8"/><rect x="947.8" y="870.2" width="1.8" height="1.8"/><rect x="949.8" y="869.5" width="1.8" height="1.8"/><rect x="951.8" y="869.6" width="1.8" height="1.8"/><rect x="953.8" y="869.4" width="1.8" height="1.8"/><rect x="955.8" y="872" width="1.8" height="1.8"/><rect x="957.8" y="871.4" width="1.8" height="1.8"/><rect x="959.8" y="871.2" width="1.8" height="1.8"/><rect x="961.8" y="870.5" width="1.8" height="1.8"/><rect x="963.8" y="871.9" width="1.8" height="1.8"/><rect x="965.8" y="874.4" width="1.8" height="1.8"/><rect x="967.8" y="871.6" width="1.8" height="1.8"/><rect x="969.8" y="875.4" width="1.8" height="1.8"/><rect x="971.8" y="875.8" width="1.8" height="1.8"/><rect x="973.8" y="878.4" width="1.8" height="1.8"/><rect x="975.8" y="875.3" width="1.8" height="1.8"/><rect x="977.8" y="875.3" width="1.8" height="1.8"/><rect x="979.8" y="877.4" width="1.8" height="1.8"/><rect x="981.8" y="877.4" width="1.8" height="1.8"/><rect x="983.8" y="871.5" width="1.8" height="1.8"/><rect x="985.8" y="879.5" width="1.8" height="1.8"/><rect x="987.8" y="879.8" width="1.8" height="1.8"/><rect x="989.8" y="878.4" width="1.8" height="1.8"/><rect x="991.8" y="881.1" width="1.8" height="1.8"/><rect x="993.8" y="880.3" width="1.8" height="1.8"/><rect x="995.8" y="884.3" width="1.8" height="1.8"/><rect x="997.8" y="883" width="1.8" height="1.8"/><rect x="999.8" y="884.8" width="1.8" height="1.8"/><rect x="1001.8" y="880" width="1.8" height="1.8"/><rect x="1003.8" y="881.1" width="1.8" height="1.8"/><rect x="1005.8" y="882.3" width="1.8" height="1.8"/><rect x="1007.8" y="882.3" width="1.8" height="1.8"/><rect x="1009.8" y="887" width="1.8" height="1.8"/><rect x="1011.8" y="884.9" width="1.8" height="1.8"/><rect x="1013.8" y="882.4" width="1.8" height="1.8"/><rect x="1015.8" y="884.3" width="1.8" height="1.8"/><rect x="1017.8" y="888.7" width="1.8" height="1.8"/><rect x="1019.8" y="884.8" width="1.8" height="1.8"/><rect x="1021.8" y="886.9" width="1.8" height="1.8"/><rect x="1023.8" y="882.7" width="1.8" height="1.8"/><rect x="1025.8" y="885.2" width="1.8" height="1.8"/><rect x="1027.8" y="886.3" width="1.8" height="1.8"/><rect x="1029.8" y="886.4" width="1.8" height="1.8"/><rect x="1031.8" y="887.2" width="1.8" height="1.8"/><rect x="1033.8" y="888.1" width="1.8" height="1.8"/><rect x="1035.8" y="890" width="1.8" height="1.8"/><rect x="1037.8" y="884.6" width="1.8" height="1.8"/><rect x="1039.8" y="888.4" width="1.8" height="1.8"/><rect x="1041.8" y="889.9" width="1.8" height="1.8"/><rect x="1043.8" y="889.3" width="1.8" height="1.8"/><rect x="1045.8" y="891.3" width="1.8" height="1.8"/><rect x="1047.8" y="889.2" width="1.8" height="1.8"/><rect x="1049.8" y="888.8" width="1.8" height="1.8"/><rect x="1051.8" y="888.4" width="1.8" height="1.8"/><rect x="1053.8" y="892" width="1.8" height="1.8"/><rect x="1055.8" y="888.1" width="1.8" height="1.8"/><rect x="1057.8" y="890" width="1.8" height="1.8"/><rect x="1059.8" y="891.1" width="1.8" height="1.8"/><rect x="1061.8" y="892.6" width="1.8" height="1.8"/><rect x="1063.8" y="891.2" width="1.8" height="1.8"/><rect x="1065.8" y="890.2" width="1.8" height="1.8"/><rect x="1067.8" y="893.4" width="1.8" height="1.8"/><rect x="1069.8" y="890.4" width="1.8" height="1.8"/><rect x="1071.8" y="891.5" width="1.8" height="1.8"/><rect x="1073.8" y="889.3" width="1.8" height="1.8"/><rect x="1075.8" y="893.8" width="1.8" height="1.8"/><rect x="1077.8" y="894" width="1.8" height="1.8"/><rect x="1079.8" y="890.6" width="1.8" height="1.8"/><rect x="1081.8" y="893.8" width="1.8" height="1.8"/><rect x="1083.8" y="895.7" width="1.8" height="1.8"/><rect x="1085.8" y="893.5" width="1.8" height="1.8"/><rect x="1087.8" y="891.9" width="1.8" height="1.8"/><rect x="1089.8" y="895.2" width="1.8" height="1.8"/><rect x="1091.8" y="896.9" width="1.8" height="1.8"/><rect x="1093.8" y="892.4" width="1.8" height="1.8"/><rect x="1095.8" y="898" width="1.8" height="1.8"/><rect x="1097.8" y="896.5" width="1.8" height="1.8"/><rect x="1099.8" y="898.7" width="1.8" height="1.8"/><rect x="1101.8" y="895.2" width="1.8" height="1.8"/><rect x="1103.8" y="899.3" width="1.8" height="1.8"/><rect x="1105.8" y="898.5" width="1.8" height="1.8"/><rect x="1107.8" y="899.7" width="1.8" height="1.8"/><rect x="1109.8" y="898.6" width="1.8" height="1.8"/><rect x="1111.8" y="900.7" width="1.8" height="1.8"/><rect x="1113.8" y="898.8" width="1.8" height="1.8"/><rect x="1115.8" y="898.7" width="1.8" height="1.8"/><rect x="1117.8" y="897.8" width="1.8" height="1.8"/><rect x="1119.8" y="897.2" width="1.8" height="1.8"/><rect x="1121.8" y="900.7" width="1.8" height="1.8"/><rect x="1123.8" y="900.3" width="1.8" height="1.8"/><rect x="1125.8" y="901.1" width="1.8" height="1.8"/><rect x="1127.8" y="901.2" width="1.8" height="1.8"/><rect x="1129.8" y="902.8" width="1.8" height="1.8"/><rect x="1131.8" y="902.6" width="1.8" height="1.8"/><rect x="1133.8" y="901.8" width="1.8" height="1.8"/><rect x="1135.8" y="904.8" width="1.8" height="1.8"/><rect x="1137.8" y="907.8" width="1.8" height="1.8"/><rect x="1139.8" y="902.4" width="1.8" height="1.8"/><rect x="1141.8" y="903.7" width="1.8" height="1.8"/><rect x="1143.8" y="906" width="1.8" height="1.8"/><rect x="1145.8" y="904" width="1.8" height="1.8"/><rect x="1147.8" y="907.8" width="1.8" height="1.8"/><rect x="1149.8" y="904.9" width="1.8" height="1.8"/><rect x="1151.8" y="904.3" width="1.8" height="1.8"/><rect x="1153.8" y="905.2" width="1.8" height="1.8"/><rect x="1155.8" y="909.5" width="1.8" height="1.8"/><rect x="1157.8" y="903.9" width="1.8" height="1.8"/><rect x="1159.8" y="908.4" width="1.8" height="1.8"/><rect x="1161.8" y="902.7" width="1.8" height="1.8"/><rect x="1163.8" y="909.8" width="1.8" height="1.8"/><rect x="1165.8" y="910.6" width="1.8" height="1.8"/><rect x="1167.8" y="913.9" width="1.8" height="1.8"/><rect x="1169.8" y="910" width="1.8" height="1.8"/><rect x="1171.8" y="912.7" width="1.8" height="1.8"/><rect x="1173.8" y="912" width="1.8" height="1.8"/><rect x="1175.8" y="913.2" width="1.8" height="1.8"/><rect x="1177.8" y="910" width="1.8" height="1.8"/><rect x="1179.8" y="914" width="1.8" height="1.8"/><rect x="1181.8" y="911.5" width="1.8" height="1.8"/><rect x="1183.8" y="915.3" width="1.8" height="1.8"/><rect x="1185.8" y="914.5" width="1.8" height="1.8"/><rect x="1187.8" y="913.1" width="1.8" height="1.8"/><rect x="1189.8" y="914.4" width="1.8" height="1.8"/><rect x="1191.8" y="914.5" width="1.8" height="1.8"/><rect x="1193.8" y="914.2" width="1.8" height="1.8"/><rect x="1195.8" y="921.4" width="1.8" height="1.8"/><rect x="1197.8" y="911.6" width="1.8" height="1.8"/></g>
<path d="M906.7 846 L907.7 846.8 L908.7 847.5 L909.7 848.3 L910.7 849 L911.7 849.7 L912.7 850.5 L913.7 851.2 L914.7 851.9 L915.7 852.6 L916.7 853.3 L917.7 853.9 L918.7 854.6 L919.7 855.2 L920.7 855.9 L921.7 856.5 L922.7 857.1 L923.7 857.7 L924.7 858.3 L925.7 858.9 L926.7 859.5 L927.7 860.1 L928.7 860.6 L929.7 861.2 L930.7 861.8 L931.7 862.3 L932.7 862.9 L933.7 863.4 L934.7 864 L935.7 864.5 L936.7 865 L937.7 865.5 L938.7 866 L939.7 866.5 L940.7 866.9 L941.7 867.4 L942.7 867.8 L943.7 868.2 L944.7 868.6 L945.7 869 L946.7 869.4 L947.7 869.7 L948.7 870.1 L949.7 870.4 L950.7 870.7 L951.7 871 L952.7 871.3 L953.7 871.5 L954.7 871.8 L955.7 872.1 L956.7 872.3 L957.7 872.6 L958.7 872.9 L959.7 873.1 L960.7 873.4 L961.7 873.7 L962.7 873.9 L963.7 874.2 L964.7 874.5 L965.7 874.7 L966.7 875 L967.7 875.2 L968.7 875.5 L969.7 875.8 L970.7 876 L971.7 876.3 L972.7 876.5 L973.7 876.8 L974.7 877.1 L975.7 877.3 L976.7 877.6 L977.7 877.8 L978.7 878.1 L979.7 878.3 L980.7 878.6 L981.7 878.8 L982.7 879.1 L983.7 879.3 L984.7 879.5 L985.7 879.8 L986.7 880 L987.7 880.2 L988.7 880.5 L989.7 880.7 L990.7 880.9 L991.7 881.1 L992.7 881.4 L993.7 881.6 L994.7 881.8 L995.7 882 L996.7 882.2 L997.7 882.4 L998.7 882.6 L999.7 882.8 L1000.7 883 L1001.7 883.2 L1002.7 883.4 L1003.7 883.6 L1004.7 883.8 L1005.7 883.9 L1006.7 884.1 L1007.7 884.3 L1008.7 884.5 L1009.7 884.6 L1010.7 884.8 L1011.7 885 L1012.7 885.1 L1013.7 885.3 L1014.7 885.5 L1015.7 885.6 L1016.7 885.8 L1017.7 885.9 L1018.7 886.1 L1019.7 886.2 L1020.7 886.4 L1021.7 886.5 L1022.7 886.7 L1023.7 886.8 L1024.7 887 L1025.7 887.1 L1026.7 887.3 L1027.7 887.4 L1028.7 887.6 L1029.7 887.7 L1030.7 887.9 L1031.7 888 L1032.7 888.1 L1033.7 888.3 L1034.7 888.4 L1035.7 888.6 L1036.7 888.7 L1037.7 888.8 L1038.7 889 L1039.7 889.1 L1040.7 889.3 L1041.7 889.4 L1042.7 889.5 L1043.7 889.7 L1044.7 889.8 L1045.7 890 L1046.7 890.1 L1047.7 890.2 L1048.7 890.4 L1049.7 890.5 L1050.7 890.7 L1051.7 890.8 L1052.7 890.9 L1053.7 891.1 L1054.7 891.2 L1055.7 891.4 L1056.7 891.5 L1057.7 891.7 L1058.7 891.8 L1059.7 892 L1060.7 892.1 L1061.7 892.3 L1062.7 892.4 L1063.7 892.6 L1064.7 892.7 L1065.7 892.9 L1066.7 893 L1067.7 893.2 L1068.7 893.3 L1069.7 893.5 L1070.7 893.6 L1071.7 893.7 L1072.7 893.9 L1073.7 894 L1074.7 894.2 L1075.7 894.3 L1076.7 894.5 L1077.7 894.6 L1078.7 894.8 L1079.7 894.9 L1080.7 895 L1081.7 895.2 L1082.7 895.3 L1083.7 895.5 L1084.7 895.6 L1085.7 895.8 L1086.7 895.9 L1087.7 896.1 L1088.7 896.2 L1089.7 896.3 L1090.7 896.5 L1091.7 896.6 L1092.7 896.8 L1093.7 896.9 L1094.7 897.1 L1095.7 897.2 L1096.7 897.4 L1097.7 897.5 L1098.7 897.7 L1099.7 897.8 L1100.7 898 L1101.7 898.1 L1102.7 898.3 L1103.7 898.5 L1104.7 898.6 L1105.7 898.8 L1106.7 898.9 L1107.7 899.1 L1108.7 899.2 L1109.7 899.4 L1110.7 899.6 L1111.7 899.7 L1112.7 899.9 L1113.7 900.1 L1114.7 900.2 L1115.7 900.4 L1116.7 900.6 L1117.7 900.8 L1118.7 900.9 L1119.7 901.1 L1120.7 901.3 L1121.7 901.5 L1122.7 901.7 L1123.7 901.8 L1124.7 902 L1125.7 902.2 L1126.7 902.4 L1127.7 902.6 L1128.7 902.8 L1129.7 903 L1130.7 903.2 L1131.7 903.4 L1132.7 903.6 L1133.7 903.8 L1134.7 904 L1135.7 904.2 L1136.7 904.4 L1137.7 904.6 L1138.7 904.8 L1139.7 905 L1140.7 905.2 L1141.7 905.4 L1142.7 905.6 L1143.7 905.8 L1144.7 906 L1145.7 906.2 L1146.7 906.4 L1147.7 906.6 L1148.7 906.8 L1149.7 907 L1150.7 907.2 L1151.7 907.4 L1152.7 907.6 L1153.7 907.8 L1154.7 908 L1155.7 908.2 L1156.7 908.4 L1157.7 908.6 L1158.7 908.8 L1159.7 909 L1160.7 909.2 L1161.7 909.4 L1162.7 909.6 L1163.7 909.8 L1164.7 910 L1165.7 910.1 L1166.7 910.3 L1167.7 910.5 L1168.7 910.7 L1169.7 910.9 L1170.7 911 L1171.7 911.2 L1172.7 911.4 L1173.7 911.5 L1174.7 911.7 L1175.7 911.8 L1176.7 912 L1177.7 912.2 L1178.7 912.3 L1179.7 912.5 L1180.7 912.6 L1181.7 912.7 L1182.7 912.9 L1183.7 913 L1184.7 913.2 L1185.7 913.3 L1186.7 913.4 L1187.7 913.5 L1188.7 913.7 L1189.7 913.8 L1190.7 913.9 L1191.7 914 L1192.7 914.2 L1193.7 914.3 L1194.7 914.4 L1195.7 914.5 L1196.7 914.6 L1197.7 914.7 L1198.7 914.9 L1199.7 915" fill="none" stroke="#FF0080" stroke-width="3.2" stroke-linecap="round"/>
<g fill="#8000FF"><rect x="905.5" y="884.1" width="1.8" height="1.8"/><rect x="907.5" y="887.8" width="1.8" height="1.8"/><rect x="909.5" y="889.6" width="1.8" height="1.8"/><rect x="911.5" y="892.6" width="1.8" height="1.8"/><rect x="913.5" y="894.5" width="1.8" height="1.8"/><rect x="915.5" y="894.3" width="1.8" height="1.8"/><rect x="917.5" y="895.4" width="1.8" height="1.8"/><rect x="919.5" y="894.3" width="1.8" height="1.8"/><rect x="921.5" y="899.6" width="1.8" height="1.8"/><rect x="923.5" y="901.5" width="1.8" height="1.8"/><rect x="925.5" y="899.5" width="1.8" height="1.8"/><rect x="927.5" y="902.3" width="1.8" height="1.8"/><rect x="929.5" y="900.5" width="1.8" height="1.8"/><rect x="931.5" y="902.9" width="1.8" height="1.8"/><rect x="933.5" y="904.1" width="1.8" height="1.8"/><rect x="935.5" y="906.7" width="1.8" height="1.8"/><rect x="937.5" y="902.8" width="1.8" height="1.8"/><rect x="939.5" y="906.9" width="1.8" height="1.8"/><rect x="941.5" y="909.4" width="1.8" height="1.8"/><rect x="943.5" y="909.1" width="1.8" height="1.8"/><rect x="945.5" y="910.5" width="1.8" height="1.8"/><rect x="947.5" y="902.6" width="1.8" height="1.8"/><rect x="949.5" y="909.5" width="1.8" height="1.8"/><rect x="951.5" y="909.4" width="1.8" height="1.8"/><rect x="953.5" y="906.7" width="1.8" height="1.8"/><rect x="955.5" y="912.7" width="1.8" height="1.8"/><rect x="957.5" y="908.7" width="1.8" height="1.8"/><rect x="959.5" y="912.3" width="1.8" height="1.8"/><rect x="961.5" y="913.9" width="1.8" height="1.8"/><rect x="963.5" y="916.4" width="1.8" height="1.8"/><rect x="965.5" y="916.3" width="1.8" height="1.8"/><rect x="967.5" y="913.3" width="1.8" height="1.8"/><rect x="969.5" y="914.5" width="1.8" height="1.8"/><rect x="971.5" y="916.9" width="1.8" height="1.8"/><rect x="973.5" y="918.9" width="1.8" height="1.8"/><rect x="975.5" y="916.4" width="1.8" height="1.8"/><rect x="977.5" y="916.5" width="1.8" height="1.8"/><rect x="979.5" y="919.5" width="1.8" height="1.8"/><rect x="981.5" y="919" width="1.8" height="1.8"/><rect x="983.5" y="922" width="1.8" height="1.8"/><rect x="985.5" y="920.6" width="1.8" height="1.8"/><rect x="987.5" y="922.1" width="1.8" height="1.8"/><rect x="989.5" y="916.3" width="1.8" height="1.8"/><rect x="991.5" y="918" width="1.8" height="1.8"/><rect x="993.5" y="918" width="1.8" height="1.8"/><rect x="995.5" y="920.2" width="1.8" height="1.8"/><rect x="997.5" y="922.8" width="1.8" height="1.8"/><rect x="999.5" y="921.8" width="1.8" height="1.8"/><rect x="1001.5" y="923.9" width="1.8" height="1.8"/><rect x="1003.5" y="921.6" width="1.8" height="1.8"/><rect x="1005.5" y="925.7" width="1.8" height="1.8"/><rect x="1007.5" y="925.8" width="1.8" height="1.8"/><rect x="1009.5" y="920.8" width="1.8" height="1.8"/><rect x="1011.5" y="922.5" width="1.8" height="1.8"/><rect x="1013.5" y="923.9" width="1.8" height="1.8"/><rect x="1015.5" y="927.3" width="1.8" height="1.8"/><rect x="1017.5" y="927.5" width="1.8" height="1.8"/><rect x="1019.5" y="930.1" width="1.8" height="1.8"/><rect x="1021.5" y="923.4" width="1.8" height="1.8"/><rect x="1023.5" y="927.4" width="1.8" height="1.8"/><rect x="1025.5" y="927.3" width="1.8" height="1.8"/><rect x="1027.5" y="927.1" width="1.8" height="1.8"/><rect x="1029.5" y="927.7" width="1.8" height="1.8"/><rect x="1031.5" y="924" width="1.8" height="1.8"/><rect x="1033.5" y="929.3" width="1.8" height="1.8"/><rect x="1035.5" y="928.1" width="1.8" height="1.8"/><rect x="1037.5" y="926.7" width="1.8" height="1.8"/><rect x="1039.5" y="932.7" width="1.8" height="1.8"/><rect x="1041.5" y="928.5" width="1.8" height="1.8"/><rect x="1043.5" y="930.8" width="1.8" height="1.8"/><rect x="1045.5" y="929.2" width="1.8" height="1.8"/><rect x="1047.5" y="927.6" width="1.8" height="1.8"/><rect x="1049.5" y="930.3" width="1.8" height="1.8"/><rect x="1051.5" y="932.2" width="1.8" height="1.8"/><rect x="1053.5" y="929.7" width="1.8" height="1.8"/><rect x="1055.5" y="933.2" width="1.8" height="1.8"/><rect x="1057.5" y="936" width="1.8" height="1.8"/><rect x="1059.5" y="935.3" width="1.8" height="1.8"/><rect x="1061.5" y="932.4" width="1.8" height="1.8"/><rect x="1063.5" y="931.6" width="1.8" height="1.8"/><rect x="1065.5" y="935.5" width="1.8" height="1.8"/><rect x="1067.5" y="930.9" width="1.8" height="1.8"/><rect x="1069.5" y="931.9" width="1.8" height="1.8"/><rect x="1071.5" y="938" width="1.8" height="1.8"/><rect x="1073.5" y="935.5" width="1.8" height="1.8"/><rect x="1075.5" y="936" width="1.8" height="1.8"/><rect x="1077.5" y="934.6" width="1.8" height="1.8"/><rect x="1079.5" y="941.5" width="1.8" height="1.8"/><rect x="1081.5" y="935.4" width="1.8" height="1.8"/><rect x="1083.5" y="937.7" width="1.8" height="1.8"/><rect x="1085.5" y="935.6" width="1.8" height="1.8"/><rect x="1087.5" y="937.4" width="1.8" height="1.8"/><rect x="1089.5" y="939.6" width="1.8" height="1.8"/><rect x="1091.5" y="939.7" width="1.8" height="1.8"/><rect x="1093.5" y="936.7" width="1.8" height="1.8"/><rect x="1095.5" y="938.3" width="1.8" height="1.8"/><rect x="1097.5" y="943.8" width="1.8" height="1.8"/><rect x="1099.5" y="941" width="1.8" height="1.8"/><rect x="1101.5" y="939.4" width="1.8" height="1.8"/><rect x="1103.5" y="938.3" width="1.8" height="1.8"/><rect x="1105.5" y="936.4" width="1.8" height="1.8"/><rect x="1107.5" y="936.9" width="1.8" height="1.8"/><rect x="1109.5" y="935.7" width="1.8" height="1.8"/><rect x="1111.5" y="937.2" width="1.8" height="1.8"/><rect x="1113.5" y="937.9" width="1.8" height="1.8"/><rect x="1115.5" y="941.6" width="1.8" height="1.8"/><rect x="1117.5" y="936.8" width="1.8" height="1.8"/><rect x="1119.5" y="941.5" width="1.8" height="1.8"/><rect x="1121.5" y="936.7" width="1.8" height="1.8"/><rect x="1123.5" y="946.8" width="1.8" height="1.8"/><rect x="1125.5" y="941.8" width="1.8" height="1.8"/><rect x="1127.5" y="945.6" width="1.8" height="1.8"/><rect x="1129.5" y="941.7" width="1.8" height="1.8"/><rect x="1131.5" y="942.6" width="1.8" height="1.8"/><rect x="1133.5" y="943" width="1.8" height="1.8"/><rect x="1135.5" y="944.2" width="1.8" height="1.8"/><rect x="1137.5" y="942.3" width="1.8" height="1.8"/><rect x="1139.5" y="947.4" width="1.8" height="1.8"/><rect x="1141.5" y="946.4" width="1.8" height="1.8"/><rect x="1143.5" y="944.6" width="1.8" height="1.8"/><rect x="1145.5" y="947.2" width="1.8" height="1.8"/><rect x="1147.5" y="944.7" width="1.8" height="1.8"/><rect x="1149.5" y="944.1" width="1.8" height="1.8"/><rect x="1151.5" y="945.3" width="1.8" height="1.8"/><rect x="1153.5" y="946.8" width="1.8" height="1.8"/><rect x="1155.5" y="942.8" width="1.8" height="1.8"/><rect x="1157.5" y="945.7" width="1.8" height="1.8"/><rect x="1159.5" y="947.7" width="1.8" height="1.8"/><rect x="1161.5" y="944.6" width="1.8" height="1.8"/><rect x="1163.5" y="948" width="1.8" height="1.8"/><rect x="1165.5" y="945.2" width="1.8" height="1.8"/><rect x="1167.5" y="948.3" width="1.8" height="1.8"/><rect x="1169.5" y="947.9" width="1.8" height="1.8"/><rect x="1171.5" y="949.1" width="1.8" height="1.8"/><rect x="1173.5" y="947" width="1.8" height="1.8"/><rect x="1175.5" y="944.6" width="1.8" height="1.8"/><rect x="1177.5" y="941.3" width="1.8" height="1.8"/><rect x="1179.5" y="951" width="1.8" height="1.8"/><rect x="1181.5" y="951.1" width="1.8" height="1.8"/><rect x="1183.5" y="946.6" width="1.8" height="1.8"/><rect x="1185.5" y="948.1" width="1.8" height="1.8"/><rect x="1187.5" y="946.6" width="1.8" height="1.8"/><rect x="1189.5" y="953.3" width="1.8" height="1.8"/><rect x="1191.5" y="952.1" width="1.8" height="1.8"/><rect x="1193.5" y="952.6" width="1.8" height="1.8"/><rect x="1195.5" y="948.5" width="1.8" height="1.8"/><rect x="1197.5" y="953.3" width="1.8" height="1.8"/></g>
<path d="M906.4 887.5 L907.4 888.2 L908.4 888.9 L909.4 889.6 L910.4 890.3 L911.4 891 L912.4 891.7 L913.4 892.4 L914.4 893.1 L915.4 893.7 L916.4 894.4 L917.4 895 L918.4 895.6 L919.4 896.3 L920.4 896.9 L921.4 897.5 L922.4 898 L923.4 898.6 L924.4 899.2 L925.4 899.7 L926.4 900.3 L927.4 900.8 L928.4 901.3 L929.4 901.9 L930.4 902.4 L931.4 902.9 L932.4 903.4 L933.4 903.9 L934.4 904.4 L935.4 904.9 L936.4 905.4 L937.4 905.9 L938.4 906.4 L939.4 906.8 L940.4 907.2 L941.4 907.7 L942.4 908.1 L943.4 908.5 L944.4 908.9 L945.4 909.2 L946.4 909.6 L947.4 909.9 L948.4 910.3 L949.4 910.6 L950.4 910.9 L951.4 911.3 L952.4 911.6 L953.4 911.9 L954.4 912.2 L955.4 912.5 L956.4 912.8 L957.4 913.1 L958.4 913.4 L959.4 913.7 L960.4 914 L961.4 914.2 L962.4 914.5 L963.4 914.8 L964.4 915.1 L965.4 915.3 L966.4 915.6 L967.4 915.8 L968.4 916.1 L969.4 916.4 L970.4 916.6 L971.4 916.9 L972.4 917.1 L973.4 917.3 L974.4 917.6 L975.4 917.8 L976.4 918.1 L977.4 918.3 L978.4 918.5 L979.4 918.7 L980.4 919 L981.4 919.2 L982.4 919.4 L983.4 919.6 L984.4 919.9 L985.4 920.1 L986.4 920.3 L987.4 920.5 L988.4 920.7 L989.4 920.9 L990.4 921.2 L991.4 921.4 L992.4 921.6 L993.4 921.8 L994.4 922 L995.4 922.2 L996.4 922.4 L997.4 922.6 L998.4 922.8 L999.4 923 L1000.4 923.2 L1001.4 923.4 L1002.4 923.6 L1003.4 923.8 L1004.4 924 L1005.4 924.3 L1006.4 924.5 L1007.4 924.7 L1008.4 924.9 L1009.4 925 L1010.4 925.2 L1011.4 925.4 L1012.4 925.6 L1013.4 925.8 L1014.4 926 L1015.4 926.2 L1016.4 926.4 L1017.4 926.6 L1018.4 926.8 L1019.4 927 L1020.4 927.1 L1021.4 927.3 L1022.4 927.5 L1023.4 927.7 L1024.4 927.9 L1025.4 928.1 L1026.4 928.2 L1027.4 928.4 L1028.4 928.6 L1029.4 928.8 L1030.4 928.9 L1031.4 929.1 L1032.4 929.3 L1033.4 929.4 L1034.4 929.6 L1035.4 929.8 L1036.4 930 L1037.4 930.1 L1038.4 930.3 L1039.4 930.4 L1040.4 930.6 L1041.4 930.8 L1042.4 930.9 L1043.4 931.1 L1044.4 931.3 L1045.4 931.4 L1046.4 931.6 L1047.4 931.7 L1048.4 931.9 L1049.4 932 L1050.4 932.2 L1051.4 932.3 L1052.4 932.5 L1053.4 932.6 L1054.4 932.8 L1055.4 932.9 L1056.4 933.1 L1057.4 933.2 L1058.4 933.4 L1059.4 933.5 L1060.4 933.7 L1061.4 933.8 L1062.4 934 L1063.4 934.1 L1064.4 934.2 L1065.4 934.4 L1066.4 934.5 L1067.4 934.6 L1068.4 934.8 L1069.4 934.9 L1070.4 935 L1071.4 935.2 L1072.4 935.3 L1073.4 935.4 L1074.4 935.5 L1075.4 935.7 L1076.4 935.8 L1077.4 935.9 L1078.4 936 L1079.4 936.1 L1080.4 936.3 L1081.4 936.4 L1082.4 936.5 L1083.4 936.6 L1084.4 936.7 L1085.4 936.9 L1086.4 937 L1087.4 937.1 L1088.4 937.2 L1089.4 937.3 L1090.4 937.5 L1091.4 937.6 L1092.4 937.7 L1093.4 937.8 L1094.4 937.9 L1095.4 938.1 L1096.4 938.2 L1097.4 938.3 L1098.4 938.4 L1099.4 938.5 L1100.4 938.7 L1101.4 938.8 L1102.4 938.9 L1103.4 939 L1104.4 939.1 L1105.4 939.3 L1106.4 939.4 L1107.4 939.5 L1108.4 939.7 L1109.4 939.8 L1110.4 939.9 L1111.4 940 L1112.4 940.2 L1113.4 940.3 L1114.4 940.4 L1115.4 940.6 L1116.4 940.7 L1117.4 940.9 L1118.4 941 L1119.4 941.1 L1120.4 941.3 L1121.4 941.4 L1122.4 941.6 L1123.4 941.7 L1124.4 941.9 L1125.4 942 L1126.4 942.2 L1127.4 942.3 L1128.4 942.5 L1129.4 942.6 L1130.4 942.8 L1131.4 942.9 L1132.4 943.1 L1133.4 943.2 L1134.4 943.4 L1135.4 943.6 L1136.4 943.7 L1137.4 943.9 L1138.4 944 L1139.4 944.2 L1140.4 944.3 L1141.4 944.5 L1142.4 944.7 L1143.4 944.8 L1144.4 945 L1145.4 945.1 L1146.4 945.3 L1147.4 945.4 L1148.4 945.6 L1149.4 945.7 L1150.4 945.9 L1151.4 946.1 L1152.4 946.2 L1153.4 946.4 L1154.4 946.5 L1155.4 946.7 L1156.4 946.8 L1157.4 947 L1158.4 947.1 L1159.4 947.3 L1160.4 947.4 L1161.4 947.6 L1162.4 947.7 L1163.4 947.8 L1164.4 948 L1165.4 948.1 L1166.4 948.3 L1167.4 948.4 L1168.4 948.5 L1169.4 948.7 L1170.4 948.8 L1171.4 948.9 L1172.4 949.1 L1173.4 949.2 L1174.4 949.3 L1175.4 949.5 L1176.4 949.6 L1177.4 949.7 L1178.4 949.8 L1179.4 949.9 L1180.4 950 L1181.4 950.2 L1182.4 950.3 L1183.4 950.4 L1184.4 950.5 L1185.4 950.6 L1186.4 950.7 L1187.4 950.8 L1188.4 950.9 L1189.4 951 L1190.4 951.1 L1191.4 951.2 L1192.4 951.3 L1193.4 951.4 L1194.4 951.5 L1195.4 951.6 L1196.4 951.7 L1197.4 951.8 L1198.4 951.9 L1199.4 951.9" fill="none" stroke="#8000FF" stroke-width="3.2" stroke-linecap="round"/>
</g>
<rect x="1180" y="826.3" width="348.5" height="260.5" fill="#fff"/>
<rect x="887.8" y="617.6" width="641.6" height="470.1" fill="none" stroke="#000" stroke-width="1.9" stroke-linejoin="round" />
<line x1="906.4" y1="1087.7" x2="906.4" y2="1078.2" stroke="#000" stroke-width="1.8" />
<line x1="906.4" y1="617.6" x2="906.4" y2="627.1" stroke="#000" stroke-width="1.8" />
<line x1="976.5" y1="1087.7" x2="976.5" y2="1082.2" stroke="#000" stroke-width="1.8" />
<line x1="976.5" y1="617.6" x2="976.5" y2="623.1" stroke="#000" stroke-width="1.8" />
<line x1="1046.6" y1="1087.7" x2="1046.6" y2="1078.2" stroke="#000" stroke-width="1.8" />
<line x1="1046.6" y1="617.6" x2="1046.6" y2="627.1" stroke="#000" stroke-width="1.8" />
<line x1="1116.6" y1="1087.7" x2="1116.6" y2="1082.2" stroke="#000" stroke-width="1.8" />
<line x1="1116.6" y1="617.6" x2="1116.6" y2="623.1" stroke="#000" stroke-width="1.8" />
<line x1="1186.7" y1="617.6" x2="1186.7" y2="627.1" stroke="#000" stroke-width="1.8" />
<line x1="1256.8" y1="617.6" x2="1256.8" y2="623.1" stroke="#000" stroke-width="1.8" />
<line x1="1326.9" y1="617.6" x2="1326.9" y2="627.1" stroke="#000" stroke-width="1.8" />
<line x1="1397" y1="617.6" x2="1397" y2="623.1" stroke="#000" stroke-width="1.8" />
<line x1="1467" y1="617.6" x2="1467" y2="627.1" stroke="#000" stroke-width="1.8" />
<line x1="887.8" y1="1041" x2="893.3" y2="1041" stroke="#000" stroke-width="1.8" />
<line x1="1529.4" y1="1041" x2="1523.9" y2="1041" stroke="#000" stroke-width="1.8" />
<line x1="887.8" y1="1012.7" x2="893.3" y2="1012.7" stroke="#000" stroke-width="1.8" />
<line x1="1529.4" y1="1012.7" x2="1523.9" y2="1012.7" stroke="#000" stroke-width="1.8" />
<line x1="887.8" y1="992.7" x2="893.3" y2="992.7" stroke="#000" stroke-width="1.8" />
<line x1="1529.4" y1="992.7" x2="1523.9" y2="992.7" stroke="#000" stroke-width="1.8" />
<line x1="887.8" y1="977.1" x2="893.3" y2="977.1" stroke="#000" stroke-width="1.8" />
<line x1="1529.4" y1="977.1" x2="1523.9" y2="977.1" stroke="#000" stroke-width="1.8" />
<line x1="887.8" y1="964.4" x2="893.3" y2="964.4" stroke="#000" stroke-width="1.8" />
<line x1="1529.4" y1="964.4" x2="1523.9" y2="964.4" stroke="#000" stroke-width="1.8" />
<line x1="887.8" y1="953.7" x2="893.3" y2="953.7" stroke="#000" stroke-width="1.8" />
<line x1="1529.4" y1="953.7" x2="1523.9" y2="953.7" stroke="#000" stroke-width="1.8" />
<line x1="887.8" y1="944.4" x2="893.3" y2="944.4" stroke="#000" stroke-width="1.8" />
<line x1="1529.4" y1="944.4" x2="1523.9" y2="944.4" stroke="#000" stroke-width="1.8" />
<line x1="887.8" y1="936.1" x2="893.3" y2="936.1" stroke="#000" stroke-width="1.8" />
<line x1="1529.4" y1="936.1" x2="1523.9" y2="936.1" stroke="#000" stroke-width="1.8" />
<line x1="887.8" y1="928.8" x2="895.8" y2="928.8" stroke="#000" stroke-width="1.8" />
<line x1="1529.4" y1="928.8" x2="1521.4" y2="928.8" stroke="#000" stroke-width="1.8" />
<line x1="887.8" y1="880.5" x2="893.3" y2="880.5" stroke="#000" stroke-width="1.8" />
<line x1="1529.4" y1="880.5" x2="1523.9" y2="880.5" stroke="#000" stroke-width="1.8" />
<line x1="887.8" y1="852.2" x2="893.3" y2="852.2" stroke="#000" stroke-width="1.8" />
<line x1="1529.4" y1="852.2" x2="1523.9" y2="852.2" stroke="#000" stroke-width="1.8" />
<line x1="887.8" y1="832.2" x2="893.3" y2="832.2" stroke="#000" stroke-width="1.8" />
<line x1="1529.4" y1="832.2" x2="1523.9" y2="832.2" stroke="#000" stroke-width="1.8" />
<line x1="887.8" y1="816.6" x2="893.3" y2="816.6" stroke="#000" stroke-width="1.8" />
<line x1="1529.4" y1="816.6" x2="1523.9" y2="816.6" stroke="#000" stroke-width="1.8" />
<line x1="887.8" y1="803.9" x2="893.3" y2="803.9" stroke="#000" stroke-width="1.8" />
<line x1="1529.4" y1="803.9" x2="1523.9" y2="803.9" stroke="#000" stroke-width="1.8" />
<line x1="887.8" y1="793.2" x2="893.3" y2="793.2" stroke="#000" stroke-width="1.8" />
<line x1="1529.4" y1="793.2" x2="1523.9" y2="793.2" stroke="#000" stroke-width="1.8" />
<line x1="887.8" y1="783.9" x2="893.3" y2="783.9" stroke="#000" stroke-width="1.8" />
<line x1="1529.4" y1="783.9" x2="1523.9" y2="783.9" stroke="#000" stroke-width="1.8" />
<line x1="887.8" y1="775.6" x2="893.3" y2="775.6" stroke="#000" stroke-width="1.8" />
<line x1="1529.4" y1="775.6" x2="1523.9" y2="775.6" stroke="#000" stroke-width="1.8" />
<line x1="887.8" y1="768.3" x2="895.8" y2="768.3" stroke="#000" stroke-width="1.8" />
<line x1="1529.4" y1="768.3" x2="1521.4" y2="768.3" stroke="#000" stroke-width="1.8" />
<line x1="887.8" y1="720" x2="893.3" y2="720" stroke="#000" stroke-width="1.8" />
<line x1="1529.4" y1="720" x2="1523.9" y2="720" stroke="#000" stroke-width="1.8" />
<line x1="887.8" y1="691.7" x2="893.3" y2="691.7" stroke="#000" stroke-width="1.8" />
<line x1="1529.4" y1="691.7" x2="1523.9" y2="691.7" stroke="#000" stroke-width="1.8" />
<line x1="887.8" y1="671.7" x2="893.3" y2="671.7" stroke="#000" stroke-width="1.8" />
<line x1="1529.4" y1="671.7" x2="1523.9" y2="671.7" stroke="#000" stroke-width="1.8" />
<line x1="887.8" y1="656.1" x2="893.3" y2="656.1" stroke="#000" stroke-width="1.8" />
<line x1="1529.4" y1="656.1" x2="1523.9" y2="656.1" stroke="#000" stroke-width="1.8" />
<line x1="887.8" y1="643.4" x2="893.3" y2="643.4" stroke="#000" stroke-width="1.8" />
<line x1="1529.4" y1="643.4" x2="1523.9" y2="643.4" stroke="#000" stroke-width="1.8" />
<line x1="887.8" y1="632.7" x2="893.3" y2="632.7" stroke="#000" stroke-width="1.8" />
<line x1="1529.4" y1="632.7" x2="1523.9" y2="632.7" stroke="#000" stroke-width="1.8" />
<line x1="887.8" y1="623.4" x2="893.3" y2="623.4" stroke="#000" stroke-width="1.8" />
<line x1="1529.4" y1="623.4" x2="1523.9" y2="623.4" stroke="#000" stroke-width="1.8" />
<text x="896.78" y="1123.33" font-size="27.68" font-weight="bold" fill="#000" textLength="17.89" lengthAdjust="spacingAndGlyphs" >0</text>
<text x="1036.49" y="1123.60" font-size="28.49" font-weight="bold" fill="#000" textLength="18.41" lengthAdjust="spacingAndGlyphs" >4</text>
<text x="1177.06" y="1123.33" font-size="27.68" font-weight="bold" fill="#000" textLength="17.89" lengthAdjust="spacingAndGlyphs" >8</text>
<text x="1307.66" y="1123.60" font-size="28.07" font-weight="bold" fill="#000" textLength="36.28" lengthAdjust="spacingAndGlyphs" >12</text>
<text x="1448.02" y="1123.33" font-size="27.68" font-weight="bold" fill="#000" textLength="35.78" lengthAdjust="spacingAndGlyphs" >16</text>
<text x="830.31" y="779.31" font-size="30.08" font-weight="bold" fill="#000" textLength="35.08" lengthAdjust="spacingAndGlyphs" >10</text>
<text x="864.25" y="770.80" font-size="20.35" font-weight="bold" fill="#000" textLength="12.77" lengthAdjust="spacingAndGlyphs" >4</text>
<text x="829.81" y="940.31" font-size="30.08" font-weight="bold" fill="#000" textLength="35.08" lengthAdjust="spacingAndGlyphs" >10</text>
<text x="864.12" y="931.18" font-size="19.73" font-weight="bold" fill="#000" textLength="13.99" lengthAdjust="spacingAndGlyphs" >3</text>
<text x="1155.46" y="1167.80" font-size="28.43" font-weight="bold" fill="#000" textLength="134.24" lengthAdjust="spacingAndGlyphs" >Time (ns)</text>
<text x="812.40" y="1091.41" font-size="30.23" font-weight="bold" fill="#000" textLength="486.50" lengthAdjust="spacingAndGlyphs" transform="rotate(-90 812.40 1091.41)" >Photoluminescence Intensity(A.U)</text>
<text x="941.61" y="1032.38" font-size="58.07" font-weight="normal" fill="#000" textLength="72.67" lengthAdjust="spacingAndGlyphs" >(d)</text>
<line x1="1401.4" y1="636.5" x2="1454.9" y2="636.5" stroke="#0000FF" stroke-width="3.2" stroke-linecap="round"/>
<text x="1460.36" y="643.87" font-size="23.16" font-weight="bold" fill="#000" textLength="60.85" lengthAdjust="spacingAndGlyphs" >180 K</text>
<line x1="1401.4" y1="665.6" x2="1454.9" y2="665.6" stroke="#FF8000" stroke-width="3.2" stroke-linecap="round"/>
<text x="1466.10" y="672.97" font-size="23.16" font-weight="bold" fill="#000" textLength="55.11" lengthAdjust="spacingAndGlyphs" >210K</text>
<line x1="1401.4" y1="694.4" x2="1454.9" y2="694.4" stroke="#FF0000" stroke-width="3.2" stroke-linecap="round"/>
<text x="1466.10" y="701.77" font-size="23.16" font-weight="bold" fill="#000" textLength="55.11" lengthAdjust="spacingAndGlyphs" >240K</text>
<line x1="1401.4" y1="723.4" x2="1454.9" y2="723.4" stroke="#800000" stroke-width="3.2" stroke-linecap="round"/>
<text x="1466.10" y="730.77" font-size="23.16" font-weight="bold" fill="#000" textLength="55.11" lengthAdjust="spacingAndGlyphs" >270K</text>
<line x1="1401.4" y1="752.2" x2="1454.9" y2="752.2" stroke="#008000" stroke-width="3.2" stroke-linecap="round"/>
<text x="1466.37" y="759.54" font-size="23.12" font-weight="bold" fill="#000" textLength="54.84" lengthAdjust="spacingAndGlyphs" >300K</text>
<line x1="1401.4" y1="781.3" x2="1454.9" y2="781.3" stroke="#FF0080" stroke-width="3.2" stroke-linecap="round"/>
<text x="1466.37" y="788.64" font-size="23.12" font-weight="bold" fill="#000" textLength="54.84" lengthAdjust="spacingAndGlyphs" >330K</text>
<line x1="1401.4" y1="810.1" x2="1454.9" y2="810.1" stroke="#8000FF" stroke-width="3.2" stroke-linecap="round"/>
<text x="1466.37" y="817.44" font-size="23.12" font-weight="bold" fill="#000" textLength="54.84" lengthAdjust="spacingAndGlyphs" >360K</text>
<rect x="1226.6" y="832" width="282.8" height="209.8" fill="none" stroke="#666" stroke-width="1.4" stroke-linejoin="round" />
<line x1="1226.6" y1="1041.8" x2="1226.6" y2="1046" stroke="#666" stroke-width="1.2" />
<line x1="1226.6" y1="832" x2="1226.6" y2="836.8" stroke="#666" stroke-width="1.2" />
<line x1="1254.9" y1="1041.8" x2="1254.9" y2="1044" stroke="#666" stroke-width="1.2" />
<line x1="1254.9" y1="832" x2="1254.9" y2="834.5" stroke="#666" stroke-width="1.2" />
<line x1="1283.2" y1="1041.8" x2="1283.2" y2="1046" stroke="#666" stroke-width="1.2" />
<line x1="1283.2" y1="832" x2="1283.2" y2="836.8" stroke="#666" stroke-width="1.2" />
<line x1="1311.4" y1="1041.8" x2="1311.4" y2="1044" stroke="#666" stroke-width="1.2" />
<line x1="1311.4" y1="832" x2="1311.4" y2="834.5" stroke="#666" stroke-width="1.2" />
<line x1="1339.7" y1="1041.8" x2="1339.7" y2="1046" stroke="#666" stroke-width="1.2" />
<line x1="1339.7" y1="832" x2="1339.7" y2="836.8" stroke="#666" stroke-width="1.2" />
<line x1="1368" y1="1041.8" x2="1368" y2="1044" stroke="#666" stroke-width="1.2" />
<line x1="1368" y1="832" x2="1368" y2="834.5" stroke="#666" stroke-width="1.2" />
<line x1="1396.3" y1="1041.8" x2="1396.3" y2="1046" stroke="#666" stroke-width="1.2" />
<line x1="1396.3" y1="832" x2="1396.3" y2="836.8" stroke="#666" stroke-width="1.2" />
<line x1="1424.6" y1="1041.8" x2="1424.6" y2="1044" stroke="#666" stroke-width="1.2" />
<line x1="1424.6" y1="832" x2="1424.6" y2="834.5" stroke="#666" stroke-width="1.2" />
<line x1="1452.8" y1="1041.8" x2="1452.8" y2="1046" stroke="#666" stroke-width="1.2" />
<line x1="1452.8" y1="832" x2="1452.8" y2="836.8" stroke="#666" stroke-width="1.2" />
<line x1="1481.1" y1="1041.8" x2="1481.1" y2="1044" stroke="#666" stroke-width="1.2" />
<line x1="1481.1" y1="832" x2="1481.1" y2="834.5" stroke="#666" stroke-width="1.2" />
<line x1="1509.4" y1="1041.8" x2="1509.4" y2="1046" stroke="#666" stroke-width="1.2" />
<line x1="1509.4" y1="832" x2="1509.4" y2="836.8" stroke="#666" stroke-width="1.2" />
<line x1="1226.6" y1="1041.8" x2="1222.3" y2="1041.8" stroke="#666" stroke-width="1.2" />
<line x1="1509.4" y1="1041.8" x2="1504.7" y2="1041.8" stroke="#666" stroke-width="1.2" />
<line x1="1226.6" y1="1027.8" x2="1224.4" y2="1027.8" stroke="#666" stroke-width="1.2" />
<line x1="1509.4" y1="1027.8" x2="1506.9" y2="1027.8" stroke="#666" stroke-width="1.2" />
<line x1="1226.6" y1="1013.9" x2="1222.3" y2="1013.9" stroke="#666" stroke-width="1.2" />
<line x1="1509.4" y1="1013.9" x2="1504.7" y2="1013.9" stroke="#666" stroke-width="1.2" />
<line x1="1226.6" y1="999.9" x2="1224.4" y2="999.9" stroke="#666" stroke-width="1.2" />
<line x1="1509.4" y1="999.9" x2="1506.9" y2="999.9" stroke="#666" stroke-width="1.2" />
<line x1="1226.6" y1="985.9" x2="1222.3" y2="985.9" stroke="#666" stroke-width="1.2" />
<line x1="1509.4" y1="985.9" x2="1504.7" y2="985.9" stroke="#666" stroke-width="1.2" />
<line x1="1226.6" y1="971.9" x2="1224.4" y2="971.9" stroke="#666" stroke-width="1.2" />
<line x1="1509.4" y1="971.9" x2="1506.9" y2="971.9" stroke="#666" stroke-width="1.2" />
<line x1="1226.6" y1="958" x2="1222.3" y2="958" stroke="#666" stroke-width="1.2" />
<line x1="1509.4" y1="958" x2="1504.7" y2="958" stroke="#666" stroke-width="1.2" />
<line x1="1226.6" y1="944" x2="1224.4" y2="944" stroke="#666" stroke-width="1.2" />
<line x1="1509.4" y1="944" x2="1506.9" y2="944" stroke="#666" stroke-width="1.2" />
<line x1="1226.6" y1="930" x2="1222.3" y2="930" stroke="#666" stroke-width="1.2" />
<line x1="1509.4" y1="930" x2="1504.7" y2="930" stroke="#666" stroke-width="1.2" />
<line x1="1226.6" y1="916.1" x2="1224.4" y2="916.1" stroke="#666" stroke-width="1.2" />
<line x1="1509.4" y1="916.1" x2="1506.9" y2="916.1" stroke="#666" stroke-width="1.2" />
<line x1="1226.6" y1="902.1" x2="1222.3" y2="902.1" stroke="#666" stroke-width="1.2" />
<line x1="1509.4" y1="902.1" x2="1504.7" y2="902.1" stroke="#666" stroke-width="1.2" />
<line x1="1226.6" y1="888.1" x2="1224.4" y2="888.1" stroke="#666" stroke-width="1.2" />
<line x1="1509.4" y1="888.1" x2="1506.9" y2="888.1" stroke="#666" stroke-width="1.2" />
<line x1="1226.6" y1="874.2" x2="1222.3" y2="874.2" stroke="#666" stroke-width="1.2" />
<line x1="1509.4" y1="874.2" x2="1504.7" y2="874.2" stroke="#666" stroke-width="1.2" />
<line x1="1226.6" y1="860.2" x2="1224.4" y2="860.2" stroke="#666" stroke-width="1.2" />
<line x1="1509.4" y1="860.2" x2="1506.9" y2="860.2" stroke="#666" stroke-width="1.2" />
<line x1="1226.6" y1="846.2" x2="1222.3" y2="846.2" stroke="#666" stroke-width="1.2" />
<line x1="1509.4" y1="846.2" x2="1504.7" y2="846.2" stroke="#666" stroke-width="1.2" />
<text x="1209.46" y="1046.00" font-size="12.21" font-weight="bold" fill="#000" textLength="8.63" lengthAdjust="spacingAndGlyphs" >4</text>
<text x="1209.92" y="1017.94" font-size="12.04" font-weight="bold" fill="#000" textLength="8.51" lengthAdjust="spacingAndGlyphs" >5</text>
<text x="1210.16" y="990.00" font-size="11.86" font-weight="bold" fill="#000" textLength="8.38" lengthAdjust="spacingAndGlyphs" >6</text>
<text x="1210.05" y="962.18" font-size="12.21" font-weight="bold" fill="#000" textLength="8.63" lengthAdjust="spacingAndGlyphs" >7</text>
<text x="1210.08" y="934.12" font-size="11.86" font-weight="bold" fill="#000" textLength="8.38" lengthAdjust="spacingAndGlyphs" >8</text>
<text x="1210.18" y="906.18" font-size="11.86" font-weight="bold" fill="#000" textLength="8.38" lengthAdjust="spacingAndGlyphs" >9</text>
<text x="1201.85" y="878.24" font-size="11.86" font-weight="bold" fill="#000" textLength="16.77" lengthAdjust="spacingAndGlyphs" >10</text>
<text x="1201.18" y="850.42" font-size="12.21" font-weight="bold" fill="#000" textLength="17.26" lengthAdjust="spacingAndGlyphs" >11</text>
<text x="1214.97" y="1059.18" font-size="12.43" font-weight="bold" fill="#000" textLength="23.55" lengthAdjust="spacingAndGlyphs" >150</text>
<text x="1271.73" y="1059.18" font-size="12.43" font-weight="bold" fill="#000" textLength="23.55" lengthAdjust="spacingAndGlyphs" >200</text>
<text x="1328.29" y="1059.18" font-size="12.43" font-weight="bold" fill="#000" textLength="23.55" lengthAdjust="spacingAndGlyphs" >250</text>
<text x="1384.96" y="1059.16" font-size="12.40" font-weight="bold" fill="#000" textLength="23.50" lengthAdjust="spacingAndGlyphs" >300</text>
<text x="1441.52" y="1059.16" font-size="12.40" font-weight="bold" fill="#000" textLength="23.50" lengthAdjust="spacingAndGlyphs" >350</text>
<text x="1498.11" y="1059.18" font-size="12.43" font-weight="bold" fill="#000" textLength="23.55" lengthAdjust="spacingAndGlyphs" >400</text>
<text x="1313.84" y="1081.50" font-size="13.37" font-weight="bold" fill="#000" textLength="109.67" lengthAdjust="spacingAndGlyphs" >Temperature (K)</text>
<text x="1194.30" y="1012.73" font-size="15.26" font-weight="bold" fill="#000" textLength="133.88" lengthAdjust="spacingAndGlyphs" transform="rotate(-90 1194.30 1012.73)" >Average Lifetime (ns)</text>
<circle cx="1260.5" cy="1019.4" r="4.8" fill="url(#ball)"/>
<circle cx="1294.5" cy="952.1" r="4.8" fill="url(#ball)"/>
<circle cx="1328.4" cy="941.8" r="4.8" fill="url(#ball)"/>
<circle cx="1362.3" cy="883.9" r="4.8" fill="url(#ball)"/>
<circle cx="1396.3" cy="870.8" r="4.8" fill="url(#ball)"/>
<circle cx="1430.2" cy="898.5" r="4.8" fill="url(#ball)"/>
<circle cx="1464.2" cy="856.3" r="4.8" fill="url(#ball)"/>
<circle cx="1486.8" cy="905.7" r="4.8" fill="url(#ball)"/>
</svg></body></html>
